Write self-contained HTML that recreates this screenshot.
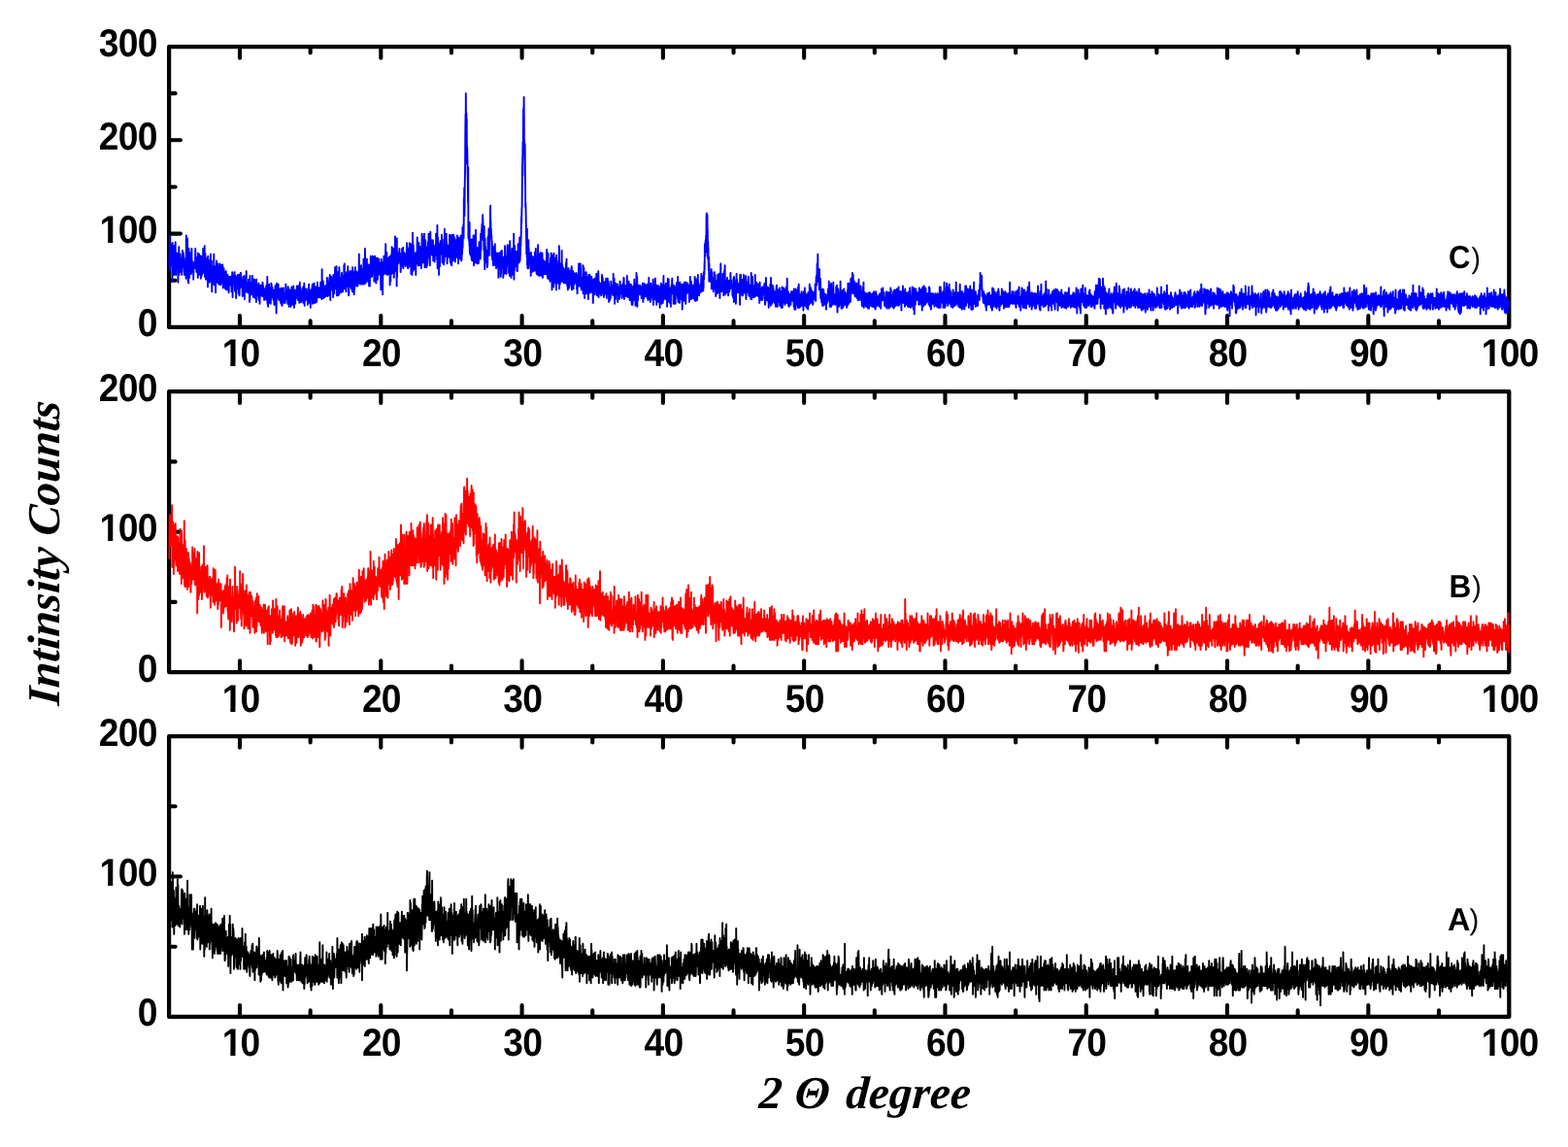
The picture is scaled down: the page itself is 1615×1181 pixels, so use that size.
<!DOCTYPE html>
<html lang="en"><head><meta charset="utf-8"><title>XRD patterns</title>
<style>
html,body{margin:0;padding:0;background:#fff;}
body{width:1615px;height:1181px;overflow:hidden;}
svg{display:block;}
text{text-rendering:geometricPrecision;}
.tk{font-family:"Liberation Sans",Arial,Helvetica,sans-serif;font-weight:bold;font-size:40.0px;fill:#000;}
.ax{font-family:"Liberation Serif","Times New Roman",Times,serif;font-weight:bold;font-style:italic;fill:#000;}
.lb{font-family:"Liberation Sans",Arial,Helvetica,sans-serif;fill:#000;}
.fr{fill:none;stroke:#000;stroke-width:4.25;stroke-linejoin:round;}
.t{stroke:#000;stroke-width:4.10;stroke-linecap:round;fill:none;}
.d{fill:none;stroke-width:1.90;stroke-linejoin:round;stroke-linecap:round;}
</style></head><body>
<svg width="1615" height="1181" viewBox="0 0 1615 1181">
<rect x="0" y="0" width="1615" height="1181" fill="#fff"/>
<defs><clipPath id="c10"><path clip-rule="evenodd" d="M-200-100H200V100H-200ZM-18.93 -4.32H-10.40V1.20H-18.93ZM-4.91 -4.32H2.67V1.20H-4.91Z"/></clipPath><clipPath id="c100m"><path clip-rule="evenodd" d="M-200-100H200V100H-200ZM-30.22 -4.32H-21.69V1.20H-30.22ZM-16.20 -4.32H-8.62V1.20H-16.20Z"/></clipPath><clipPath id="c100e"><path clip-rule="evenodd" d="M-200-100H200V100H-200ZM-62.75 -4.32H-54.21V1.20H-62.75ZM-48.72 -4.32H-41.15V1.20H-48.72Z"/></clipPath></defs>
<g id="panel-C">
<path class="t" d="M247.00 336.90V325.10M247.00 48.00V59.80M319.65 336.90V330.40M319.65 48.00V54.50M392.30 336.90V325.10M392.30 48.00V59.80M464.94 336.90V330.40M464.94 48.00V54.50M537.59 336.90V325.10M537.59 48.00V59.80M610.23 336.90V330.40M610.23 48.00V54.50M682.88 336.90V325.10M682.88 48.00V59.80M755.52 336.90V330.40M755.52 48.00V54.50M828.16 336.90V325.10M828.16 48.00V59.80M900.81 336.90V330.40M900.81 48.00V54.50M973.46 336.90V325.10M973.46 48.00V59.80M1046.10 336.90V330.40M1046.10 48.00V54.50M1118.74 336.90V325.10M1118.74 48.00V59.80M1191.39 336.90V330.40M1191.39 48.00V54.50M1264.03 336.90V325.10M1264.03 48.00V59.80M1336.68 336.90V330.40M1336.68 48.00V54.50M1409.32 336.90V325.10M1409.32 48.00V59.80M1481.97 336.90V330.40M1481.97 48.00V54.50M174.10 288.75H180.60M174.10 240.60H185.90M174.10 192.45H180.60M174.10 144.30H185.90M174.10 96.15H180.60"/>
<rect class="fr" x="174.10" y="48.00" width="1380.20" height="288.90"/>
<path class="d" stroke="#0000ff" d="M174.4 273.3l.1-13.4.2 19.2.2-36.6.2 23.1.2-6.7.1 15.4.2-15.4.2-5.8.2 8.7.2 4.8.2 3.9.1-18.3.2 12.5.2.9.2-5.7.2-9.7.1 39.5.2-21.2.2-18.3.2 19.3.2-3.9.2 17.4.1-28.9.2 16.4.2 9.6.2-14.5.2-6.7.1 24.1.2-29.9.2 4.8.2 22.2.2-8.7.2-5.8.1 8.7.2-25 .2 19.2.2-8.6.2 23.1.1-9.7.2-12.5.2 1.9.2 14.5.2 0 .2-16.4.1 10.6.2 2.9.2-10.6.2 4.8.2-3.8.1 26 .2-24.1.2 5.8.2 0 .2.9.1-19.2.2 28.9.2-19.3.2-2.9.2 19.3.2-16.4.1-1.9.2 0 .2 18.3.2-10.6.2-2.9.1 9.6.2-2.9.2 2 .2-2.9.2-6.8.2 17.4.1-13.5.2 10.6.2-17.4.2-4.8.2 17.4.1-1 .2-1 .2-13.4.2 3.8.2-1 .2 6.8.1 0 .2-3.9.2 5.8.2 11.6.2-8.7.1-5.8.2 3.9.2 9.6.2-8.7.2-1.9.1 0 .2 9.6.2 5.8.2-44.3.2 40.5.2-2.9.1-9.6.2 6.7.2-12.5.2 9.6.2-28.9.1 36.6.2-10.6.2 18.3.2-15.4.2-4.8.2 22.1.1-16.3.2-19.3.2 9.6.2 16.4.2 3.9.1-12.6.2-13.4.2 8.6.2 12.5.2-14.4.2 1.9.1 4.8.2 8.7.2-9.6.2 9.6.2-6.7.1-4.8.2-14.5.2 17.3.2 2 .2 4.8.2-6.8.1 1 .2-4.8.2 2.9.2 1.9.2-3.8.1 17.3.2-11.6.2-4.8.2 4.8.2-4.8.1 3.9.2 0 .2-2.9.2 3.8.2-1.9.2-12.5.1-5.8.2 3.9.2 15.4.2-1 .2-7.7.1 2.9.2 10.6.2-10.6.2 9.6.2 1 .2 0 .1-15.4.2 14.4.2 0 .2 6.8.2-25.1.1 19.3.2-17.4.2 13.5.2-10.6.2 17.4.2-16.4.1-4.8.2 13.5.2-12.6.2 9.7.2 3.8.1-3.8.2-7.7.2 12.5.2-1 .2 10.6.2-12.5.1-10.6.2 7.7.2 12.5.2-10.6.2 9.7.1-3.9.2-6.7.2 6.7.2-1.9.2-1.9.1 5.7.2-25 .2 8.7.2-5.8.2 14.4.2-3.8.1 2.9.2 2.9.2 5.7.2-27.9.2 31.8.1-5.8.2 5.8.2-24.1.2 11.6.2-2.9.2 9.6.1 8.7.2-4.8.2-2.9.2 0 .2-13.5.1-1 .2 17.4.2 0 .2-10.6.2 10.6.2 12.5.1-21.2.2-10.6.2 22.2.2-11.6.2-1.9.1 3.8.2 2.9.2 1.9.2-12.5.2 22.2.1-18.3.2 17.3.2-12.5.2-2.9.2-7.7.2 23.1.1-27.9.2 21.2.2-1 .2 1.9.2-7.7.1-7.7.2 14.5.2 17.3.2-16.4.2-8.6.2.9.1 9.7.2-5.8.2-2.9.2 15.4.2-9.6.1-8.7.2 6.7.2-19.2.2 30.8.2-6.7.2 7.7.1-7.7.2-9.7.2 11.6.2-2.9.2-4.8.1-5.8.2 27 .2-19.3.2-6.7.2 10.6.2-6.8.1-10.6.2 19.3.2-13.5.2 16.4.2-5.8.1 5.8.2-19.3.2 2.9.2 8.7.2-3.9.1 7.7.2 4.8.2 1 .2-11.6.2 3.9.2-2.9.1 10.6.2-7.7.2-13.5.2 15.4.2-1.9.1-7.7.2-4.8.2 21.2.2-9.7.2 3.9.2 0 .1 3.8.2-5.7.2-12.6.2 7.7.2-5.7.1 5.7.2 9.7.2-18.3.2 2.9.2 15.4.2 5.8.1-17.4.2 8.7.2 3.8.2-15.4.2 2.9.1 8.7.2-1 .2 7.7.2-1.9.2-10.6.1 1 .2 13.5.2.9.2 0 .2-1.9.2-16.4.1 1 .2 10.6.2 7.7.2-14.5.2 0 .1 6.8.2-5.8.2 7.7.2-8.7.2-.9.2 6.7.1 8.7.2-11.6.2-1.9.2 11.6.2 4.8.1-2.9.2-10.6.2 5.8.2 0 .2-2.9.2-2.9.1-2.9.2 7.7.2 1 .2-8.7.2 6.7.1-5.7.2.9.2-1.9.2 6.7.2 8.7.2-10.6.1 1 .2-3.9.2-6.7.2 11.5.2 14.5.1-14.5.2-7.7.2 7.7.2-5.7.2 7.7.1-3.9.2 1.9.2-.9.2-1 .2-8.7.2-.9.1 5.8.2 12.5.2-3.9.2 5.8.2-4.8.1-11.6.2 10.6.2 1 .2 11.5.2-16.3.2 0 .1-4.8.2 11.5.2-7.7.2-3.8.2 1.9.1 6.7.2-11.5.2 4.8.2 6.7.2 0 .2 1 .1 6.7.2-7.7.2 2.9.2-14.4.2 12.5.1 8.7.2-9.7.2-1.9.2-5.8.2 9.7.1-2 .2-13.5.2 14.5.2-14.5.2 6.8.2 1.9.1 1.9.2 1 .2 1 .2.9.2-4.8.1-1.9.2 17.3.2-7.7.2 0 .2-9.6.2-2.9.1 5.8.2-4.8.2 4.8.2-1 .2 14.5.1-20.3.2 2.9.2 21.2.2-13.5.2 6.8.2-4.8.1-4.9.2 4.9.2-1 .2 1.9.2-4.8.1 1.9.2-15.4.2 21.2.2-2.9.2 1 .2 1.9.1-2.9.2-1.9.2 5.8.2-6.8.2 6.8.1 0 .2-10.6.2 7.7.2-10.6.2 3.8.1 6.8.2-3.9.2 2 .2 14.4.2-12.5.2 10.6.1-25.1.2 18.3.2-6.7.2-1 .2 0 .1 0 .2 8.7.2 0 .2-1 .2-10.6.2-.9.1 7.7.2-1.9.2-12.6.2 8.7.2 10.6.1-16.4.2 11.6.2 6.7.2-2.9.2 3.9.2-3.9.1-9.6.2-2.9.2 4.8.2-6.7.2 18.3.1-4.8.2-8.7.2 2.9.2 11.5.2-5.7.2-4.8.1 0 .2-2 .2 16.4.2-23.1.2 15.4.1-6.7.2-2.9.2 1.9.2 1.9.2-1.9.1 1.9.2 1 .2 5.8.2.9.2-.9.2-12.6.1 16.4.2 1 .2-16.4.2 7.7.2 3.9.1-3.9.2 12.5.2-5.8.2-11.5.2 2.9.2-2.9.1 1 .2 1.9.2-4.8.2 1.9.2 6.7.1 2 .2-2 .2 1 .2 0 .2-7.7.2 9.6.1-14.4.2.9.2 10.6.2-.9.2-6.8.1 2 .2 5.7.2 2.9.2-4.8.2 8.7.1-2 .2-5.7.2.9.2-.9.2-3.9.2 8.7.1-3.9.2 3.9.2-2.9.2 4.8.2-12.5.1 4.8.2-6.7.2 14.4.2 1 .2-10.6.2-1.9.1-11.6.2 27.9.2-5.8.2-14.4.2 23.1.1-14.4.2-3.9.2 9.6.2 1 .2-15.4.2 19.3.1-8.7.2 3.8.2-3.8.2-2.9.2 3.9.1-7.7.2 7.7.2.9.2 7.7.2-5.8.2-2.8.1-12.6.2 13.5.2-12.5.2 13.5.2-1.9.1-1 .2-7.7.2 2.9.2 5.8.2-5.8.1 6.7.2 1.9.2 2 .2-1 .2-6.7.2 7.7.1-2.9.2 7.7.2-15.4.2 2.9.2 6.7.1-3.8.2 7.7.2-17.4.2 19.3.2-6.8.2-13.4.1 21.2.2-20.3.2 28 .2-14.5.2-16.4.1 5.8.2 9.6.2 0 .2-9.6.2 6.8.2 2.8.1-12.5.2-.9.2-1 .2 10.6.2 4.8.1-5.8.2 2 .2 4.8.2-4.8.2.9.1 1.9.2-9.6.2 2.9.2 8.7.2-8.7.2 2.9.1 8.7.2-4.9.2-2.8.2-7.7.2 4.8.1 12.5.2-16.4.2 15.4.2 2 .2-13.5.2-2.9.1 5.8.2 1.9.2-1 .2-2.9.2-5.7.1 6.7.2-1 .2 2 .2 7.7.2-3.9.2-4.8.1 0 .2-1 .2 1 .2 8.7.2-4.9.1-1.9.2-6.7.2-5.8.2 12.5.2 1 .2-3.9.1 2 .2-1 .2 1 .2.9.2 3.9.1-10.6.2 12.5.2 1.9.2-17.3.2 2.9.1-2.9.2 10.6.2-3.9.2-3.8.2 17.3.2-.9.1-16.4.2 7.7.2 0 .2-1.9.2-5.8.1 8.6.2-5.7.2 5.7.2 8.7.2-7.7.2 2.9.1-4.8.2-1 .2-9.6.2 5.8.2 10.6.1-6.8.2 8.7.2-6.8.2-.9.2-4.8.2 0 .1 10.6.2-17.4.2 3.9.2 4.8.2-1 .1 14.5.2-18.3.2 8.6.2 5.8.2-3.8.1-8.7.2 5.8.2 6.7.2-11.5.2 2.9.2-1 .1 1.9.2-6.7.2 3.8.2 4.8.2-8.6.1-3.9.2 5.8.2-4.8.2 4.8.2-4.8.2 9.6.1 3.9.2-11.6.2-2.9.2 5.8.2 3.9.1-9.7.2 10.6.2 0 .2 6.8.2-10.6.2-10.6.1 12.5.2-7.7.2 1 .2 3.8.2 6.7.1 1 .2-5.8.2 8.7.2-7.7.2-2.9.2 1 .1 1.9.2 1.9.2 3.9.2-11.6.2 7.7.1 3.9.2-3.9.2-9.6.2 16.4.2 0 .1-5.8.2-7.7.2 12.5.2-19.3.2 15.4.2 7.8.1-13.5.2.9.2-4.8.2 0 .2 4.8.1 2.9.2 3.9.2-6.8.2 2 .2-5.8.2 6.7.1-7.7.2 4.8.2 1 .2 3.8.2-4.8.1 0 .2 11.6.2-10.6.2 7.7.2-6.7.2-2.9.1 3.8.2-9.6.2-2.9.2 19.3.2-1 .1-6.7.2.9.2-1.9.2-1 .2 6.8.2-6.8.1 14.5.2-11.6.2-6.7.2 4.8.2-1.9.1 5.7.2-8.6.2 1.9.2 7.7.2-12.5.1 2.9.2-5.8.2 20.2.2-6.7.2-4.8.2-5.8.1 10.6.2-8.7.2-1.9.2-3.9.2 0 .1 20.3.2-5.8.2-11.6.2 10.6.2-2.9.2 9.7.1-1 .2-15.4.2 15.4.2-9.6.2-2.9.1-1.9.2-1 .2 6.7.2 8.7.2-12.5.2 2.9.1 5.7.2-16.3.2 11.5.2-3.8.2-2.9.1 7.7.2 2.9.2-2.9.2 1 .2.9.1-7.7.2 8.7.2-1 .2-8.6.2.9.2 1 .1 1.9.2 2.9.2 2.9.2-15.4.2 10.6.1-5.8.2 1 .2-1 .2 10.6.2 1.9.2-7.7.1-23.1.2 26 .2-2.9.2-4.8.2 7.7.1-1 .2 2.9.2-15.4.2 17.3.2-5.7.2-1 .1-6.7.2 2.9.2 1.9.2 4.8.2 2.9.1-7.7.2 4.8.2-6.7.2-1 .2 5.8.2 3.8.1-8.6.2 7.7.2-10.6.2 8.6.2-7.7.1 3.9.2-1 .2-11.5.2 18.3.2.9.1-4.8.2-6.7.2 1.9.2 8.7.2-9.7.2-1.9.1-2.9.2 14.5.2-5.8.2-8.7.2-3.8.1 17.3.2-2.9.2-17.3.2 3.8.2 22.2.2-19.3.1 10.6.2-4.8.2-1.9.2 2.9.2-11.6.1 13.5.2-2.9.2-2.9.2-1.9.2 7.7.2-4.8.1-7.7.2 10.6.2-2 .2 11.6.2-12.5.1-10.6.2 4.8.2 4.8.2 5.8.2 3.8.1-7.7.2-2.9.2 2.9.2-2.9.2-16.3.2 15.4.1 0 .2-1 .2 3.9.2 3.8.2-7.7.1-8.7.2-6.7.2 16.4.2 13.5.2-19.3.2-4.8.1 14.4.2-2.9.2-5.7.2 12.5.2 5.8.1-24.1.2 21.2.2-9.7.2-6.7.2 10.6.2 7.7.1-27.9.2 9.6.2 16.4.2-8.7.2 3.9.1-5.8.2-4.8.2 14.4.2-8.7.2-1.9.2 1 .1 10.6.2-16.4.2 0 .2-3.9.2 4.9.1 4.8.2 5.8.2-8.7.2-2.9.2 1 .1 14.4.2-16.4.2 9.7.2 1.9.2-10.6.2 11.6.1-23.2.2 22.2.2-7.7.2-16.4.2 26 .1-2.9.2-11.5.2 3.8.2-4.8.2 14.5.2-10.6.1 8.6.2 5.8.2-14.4.2-1 .2-4.8.1 6.7.2 3.9.2 0 .2-9.7.2 3.9.2-4.8.1-5.8.2 21.2.2-1 .2 2 .2 7.7.1-8.7.2 7.7.2-22.2.2 9.7.2-8.7.1-1.9.2 13.5.2-14.5.2 4.8.2-.9.2 10.6.1-14.5.2 16.4.2-9.6.2 11.5.2-7.7.1 2.9.2-1.9.2-8.7.2 11.6.2 6.7.2-25 .1 8.6.2 6.8.2-11.6.2 2.9.2 5.8.1-1 .2 14.5.2-13.5.2 15.4.2-17.3.2 12.5.1-7.7.2-10.6.2 7.7.2-12.5.2 8.6.1 6.8.2-2.9.2 1.9.2-10.6.2 15.4.2-12.5.1 1 .2 4.8.2-1 .2 3.9.2.9.1-11.5.2 9.6.2 4.8.2-4.8.2-2.9.1-5.8.2 10.6.2-7.7.2-1.9.2-20.2.2 18.3.1.9.2 2.9.2-3.8.2 4.8.2-1 .1 8.7.2-9.6.2-8.7.2 1 .2 8.6.2-10.6.1 16.4.2 2.9.2-11.6.2 2.9.2 0 .1-1.9.2 5.8.2-7.7.2-2.9.2 10.6.2 4.8.1-6.7.2-8.7.2-10.6.2 1.9.2 5.8.1 18.3.2-13.5.2-7.7.2 20.2.2-6.7.1-28.9.2 7.7.2 27.9.2 0 .2-4.8.2 3.9.1-10.6.2.9.2-9.6.2 3.9.2-6.8.1-1.9.2 14.4.2 2 .2-2.9.2.9.2 8.7.1-8.7.2-3.8.2 7.7.2-12.5.2 3.8.1 2.9.2 15.4.2-21.2.2 9.7.2 0 .2 11.5.1-17.3.2 9.6.2-13.5.2 6.8.2-16.4.1 20.2.2-3.8.2 1.9.2 1 .2-1 .2-5.8.1 8.7.2-2.9.2 1 .2-9.7.2-9.6.1 16.4.2-6.8.2-8.6.2 0 .2 6.7.1 7.7.2-1.9.2 1.9.2 10.6.2-3.8.2-10.6.1-2 .2-9.6.2 20.2.2-4.8.2 7.7.1-21.2.2 15.4.2 6.8.2 3.8.2-26 .2 15.4.1-4.8.2-1.9.2 1.9.2-2.9.2-7.7.1 0 .2 22.2.2-11.6.2-9.6.2 2.9.2 1.9.1 1 .2-5.8.2 15.4.2-10.6.2 5.8.1-4.8.2-1.9.2 12.5.2-2.9.2-6.8.2 3.9.1 4.8.2 3.9.2 12.5.2-10.6.2-21.2.1 16.4.2-10.6.2 3.8.2-.9.2 7.7.1-9.7.2 5.8.2 24.1.2-20.2.2-13.5.2 1 .1 12.5.2-8.7.2-1 .2-9.6.2 7.7.1 9.6.2 1 .2-4.8.2-12.5.2 6.7.2 3.9.1-4.8.2-7.8.2-11.5.2 19.3.2 2.8.1 2.9.2 5.8.2-12.5.2-9.6.2 17.3.2-6.7.1 6.7.2 5.8.2-6.8.2-10.6.2 1 .1 3.9.2 11.5.2-11.5.2 0 .2 5.7.1-7.7.2 6.8.2-10.6.2 7.7.2-2.9.2 24.1.1-29.9.2 12.5.2-5.7.2 19.2.2-10.6.1-5.8.2-8.6.2 6.7.2-9.6.2 20.2.2-27.9.1 3.8.2 11.6.2 11.5.2-21.1.2 9.6.1-13.5.2 18.3.2 1 .2 4.8.2-18.3.2-5.8.1 29.9.2-15.4.2 11.5.2-12.5.2-8.7.1 1.9.2-3.8.2-15.4.2 29.8.2 2 .2-12.6.1 9.7.2 6.7.2-12.5.2 9.6.2-11.5.1 29.8.2-49.1.2 39.5.2-10.6.2-9.6.1 0 .2 5.8.2-8.7.2 9.6.2 0 .2-10.6.1 1 .2 4.8.2-7.7.2 7.7.2-10.6.1 13.5.2-7.7.2 3.8.2-4.8.2 4.8.2 4.9.1 9.6.2-2.9.2-14.5.2 3.9.2 0 .1 6.7.2-3.8.2 3.8.2-17.3.2 18.3.2-1.9.1-9.7.2 1 .2 9.6.2-18.3.2 21.2.1-12.5.2 1 .2-2 .2-2.8.2 12.5.1-6.8.2 4.9.2-9.7.2 5.8.2 3.9.2 0 .1.9.2 2.9.2-2.9.2-4.8.2 1.9.1 2 .2 1.9.2-11.6.2-10.6.2 14.5.2 5.8.1-15.5.2 1 .2 18.3.2 1.9.2-18.3.1 18.3.2-5.7.2-3.9.2-1 .2 2.9.2-9.6.1 15.4.2-24.1.2 16.4.2-6.7.2-6.8.1 9.6.2 2.9.2 1 .2-15.4.2 9.6.2 21.2.1-10.6.2-.9.2-15.5.2 24.1.2-12.5.1 16.4.2-7.7.2-5.8.2-29.9.2 14.5.1 14.4.2 10.6.2-26.9.2 6.7.2 4.8.2-3.8.1 14.4.2-9.6.2 3.8.2-3.8.2 12.5.1-3.9.2-9.6.2 6.8.2-8.7.2.9.2 20.3.1-23.1.2 3.8.2 1 .2 3.8.2-4.8.1 7.7.2-10.6.2-16.3.2 9.6.2-3.9.2 10.6.1 8.7.2 3.8.2-21.1.2-2 .2 8.7.1 0 .2-8.7.2 23.1.2-6.7.2 6.7.1-15.4.2 2 .2.9.2 9.7.2-6.8.2-9.6.1 0 .2.9.2 4.9.2 16.3.2-3.8.1-11.6.2 1.9.2-22.1.2 14.4.2 5.8.2 3.9.1-5.8.2-15.4.2 25 .2 2 .2-2 .1-9.6.2-1 .2-10.6.2 2.9.2-9.6.2 20.2.1 8.7.2 5.8.2-25.1.2 13.5.2 6.8.1-23.2.2 17.4.2 9.6.2-20.2.2 1.9.2 9.6.1 9.7.2-6.8.2-3.8.2 8.6.2-11.5.1 1.9.2 1.9.2-4.8.2-11.5.2 11.5.1 3.9.2-6.8.2-17.3.2 8.7.2 11.5.2 3.9.1-6.8.2 11.6.2 1.9.2 1.9.2-20.2.1-5.8.2-8.6.2 13.5.2 9.6.2-13.5.2 3.9.1-4.9.2 7.7.2 3.9.2-5.8.2-.9.1 10.5.2-7.7.2-5.7.2 4.8.2-6.8.2 9.7.1 11.5.2-13.5.2 12.6.2-13.5.2 4.8.1-5.8.2 15.4.2-11.5.2 12.5.2-8.7.2-1.9.1-4.8.2-1 .2 9.6.2-11.5.2 9.6.1-20.2.2 22.1.2-7.7.2 0 .2 2.9.1 2.9.2 6.8.2-35.7.2 44.3.2-12.5.2-19.2.1 8.6.2 23.1.2-15.4.2-3.8.2-5.8.1 31.8.2-15.4.2-14.5.2 19.3.2-19.3.2 21.2.1-20.2.2-1 .2-4.8.2 13.5.2-3.9.1-9.6.2 10.6.2 1 .2-8.7.2 1.9.2-11.5.1 18.3.2-5.8.2 16.4.2-24.1.2 12.5.1 1.9.2 2.9.2-5.8.2 7.7.2-9.6.1 10.6.2 5.8.2-10.6.2 7.7.2-8.7.2-25 .1 20.2.2-2.9.2 4.8.2 1 .2-5.8.1-4.8.2 15.4.2-1.9.2-11.6.2-9.6.2 22.1.1-14.4.2 7.7.2 7.7.2 7.7.2-18.3.1-.9.2 5.7.2-1.9.2 4.8.2 0 .2-4.8.1 2.9.2 1.9.2-1.9.2 5.8.2-3.9.1-12.5.2-6.7.2 13.4.2-6.7.2 18.3.2 3.9.1-2.9.2-11.6.2 4.8.2 11.6.2-29.9.1 28 .2-13.5.2 16.3.2-23.1.2 0 .1-8.6.2 24 .2 0 .2-19.2.2 22.1.2-13.5.1-2.8.2-10.6.2 12.5.2 1.9.2 1 .1-2.9.2 4.8.2-14.4.2 12.5.2 11.5.2-22.1.1 23.1.2-12.5.2-2 .2 2.9.2 6.8.1 0 .2-2 .2-14.4.2 12.5.2-.9.2-6.8.1-10.6.2 22.2.2-10.6.2-8.7.2 12.5.1-.9.2 14.4.2-15.4.2-11.5.2 19.2.1-6.7.2-3.9.2 13.5.2-6.7.2-3.9.2-1.9.1-2.9.2-5.8.2 9.6.2 10.6.2-23.1.1 19.3.2-15.4.2 22.1.2-16.3.2 15.4.2-10.6.1-1 .2 5.8.2-5.8.2-22.1.2 21.1.1-8.6.2-3.9.2 0 .2-11.5.2 14.4.2-18.3.1-23.1.2 17.3.2-27.9.2 28.9.2-9.6.1-20.3.2-11.5.2-11.6.2-35.6.2-16.4.2 17.4.1-38.6.2 31.8.2-6.7.2-4.8.2 19.2.1-13.4.2 46.2.2-17.4.2 5.8.2 8.7.1 13.5.2 5.7.2 24.1.2-36.6.2 73.2.2-3.8.1-1 .2-1 .2 8.7.2-8.7.2 13.5.1-24.1.2 29.9.2 1 .2 1.9.2-1 .2-14.4.1 16.3.2-9.6.2-.9.2 9.6.2.9.1 3.9.2-20.2.2 13.5.2 8.6.2-8.6.2 0 .1-9.7.2 8.7.2 2.9.2 2.9.2-13.5.1-8.7.2 19.3.2 11.5.2-14.4.2-6.7.1 17.3.2-27 .2 15.4.2-.9.2 1.9.2-6.7.1 18.3.2-12.6.2-21.2.2 28.9.2-.9.1-8.7.2 13.5.2-9.6.2 5.7.2 2 .2 3.8.1-16.4.2 6.8.2 4.8.2 2.9.2-11.6.1 4.8.2 8.7.2-.9.2-8.7.2-1 .2-11.5.1 12.5.2 2.9.2-3.9.2 5.8.2-2.9.1-1.9.2 4.8.2-4.8.2-21.2.2 7.7.2 8.7.1-16.4.2 3.9.2-7.8.2 2 .2-7.7.1 5.7.2-6.7.2 2.9.2-11.6.2 16.4.1-12.5.2 22.1.2-14.4.2 3.8.2 3.9.2 16.4.1.9.2-25 .2 35.6.2-7.7.2 16.4.1-12.5.2-19.3.2 25.1.2-16.4.2 10.6.2-4.8.1.9.2 4.8.2 1 .2-2.9.2-5.8.1 2 .2 10.6.2 4.8.2-2.9.2.9.2-13.4.1-14.5.2-1.9.2 14.4.2-4.8.2-.9.1-16.4.2 11.5.2 15.4.2-12.5.2-3.8.1-3.9.2-8.6.2 10.6.2-28 .2-4.8.2 25 .1-10.5.2 15.4.2-5.8.2 6.7.2 1 .1-1 .2 21.2.2-15.4.2 9.6.2 9.7.2-14.5.1 3.9.2 10.6.2-5.8.2 11.5.2-19.2.1 12.5.2-6.7.2-2 .2 7.7.2-8.6.2 9.6.1-7.7.2 1.9.2-9.6.2 22.1.2-2.8.1-11.6.2 3.8.2 6.8.2 1.9.2 4.8.2-14.4.1 8.7.2-4.9.2 8.7.2-1 .2-12.5.1 1.9.2-1.9.2 0 .2 3.9.2-3.9.1 1.9.2 23.2.2-22.2.2 6.8.2-5.8.2 2.9.1 8.6.2-7.7.2-3.8.2 4.8.2-9.6.1 9.6.2-4.8.2 20.2.2-26 .2 23.1.2-14.4.1-3.9.2-2.9.2 14.5.2-17.4.2 13.5.1-2.9.2-3.8.2 6.7.2-5.8.2 8.7.2 3.9.1 7.7.2-11.6.2-9.6.2.9.2 13.5.1 2.9.2-9.6.2 8.6.2-2.8.2-25.1.2 8.7.1 19.2.2-9.6.2 6.8.2-14.5.2 1 .1 6.7.2-3.8.2 14.4.2-8.7.2 1 .1-8.7.2 7.7.2-19.2.2-1.9.2 18.3.2-1 .1 3.8.2-3.8.2 1 .2-6.8.2 3.9.1 13.4.2-3.8.2-18.3.2-6.7.2 31.7.2-5.7.1-29.9.2 11.6.2 6.7.2 0 .2 0 .1-3.9.2 2 .2 21.2.2-23.2.2-.9.2 7.7.1 9.6.2-23.1.2 26 .2-7.7.2-4.8.1 3.8.2 5.8.2 3.9.2-26 .2 21.2.1-7.7.2-29.9.2 47.2.2-22.2.2 12.6.2-9.7.1-15.4.2 5.8.2 9.6.2-4.8.2 10.6.1-5.8.2 3.9.2-4.8.2-8.7.2 13.5.2-10.6.1.9.2 9.7.2 6.7.2-12.5.2 12.5.1-3.8.2-16.4.2 8.7.2-16.4.2 8.7.2 4.8.1-10.6.2 4.8.2 3.8.2 7.8.2-14.5.1 8.7.2-20.2.2 13.4.2 10.6.2-5.8.2-1.9.1-11.5.2 4.8.2-7.7.2-3.9.2-12.5.1-6.7.2 6.7.2-15.4.2-1.9.2-25.1.1-13.4.2-7.8.2-6.7.2-13.5.2 8.7.2-19.3.1-21.2.2-2.8.2 12.5.2-24.1.2 24.1.1 29.8.2-9.6.2 16.4.2 20.2.2-32.7.2 42.3.1-5.8.2 28.9.2-4.8.2 9.7.2 12.5.1 3.8.2 12.5.2 14.5.2-11.6.2 14.5.2-28.9.1 36.6.2-3.9.2 7.7.2-17.3.2 13.5.1 1.9.2 1.9.2-28.9.2 12.6.2-3.9.1 10.6.2-6.7.2 11.5.2-3.8.2 2.9.2-2 .1 1 .2 3.8.2 2.9.2-6.7.2 14.4.1-13.4.2-10.6.2 9.6.2-5.8.2 15.4.2-6.7.1-8.7.2 16.4.2-9.6.2-3.9.2 10.6.1-5.8.2 1.9.2-8.6.2 8.6.2-6.7.2 8.7.1 3.8.2-1.9.2 0 .2-2.9.2 3.9.1-18.3.2 3.8.2 14.5.2-5.8.2 0 .2-16.4.1 10.6.2 0 .2 11.6.2 1.9.2 1.9.1-7.7.2-10.6.2 12.5.2-4.8.2 8.7.1 2.9.2-20.3.2-10.5.2 26.9.2-18.3.2 1.9.1 0 .2-.9.2 22.1.2-7.7.2 0 .1 0 .2 6.8.2-21.2.2 11.5.2-4.8.2-8.6.1 2.8.2 12.6.2 8.6.2-14.4.2 0 .1 13.5.2-3.9.2 2.9.2-7.7.2-13.5.2 14.5.1 2.9.2 7.7.2-13.5.2.9.2 6.8.1-12.5.2 4.8.2 2.9.2 0 .2 3.8.1 2.9.2-7.7.2-3.8.2-1 .2 9.6.2-2.9.1 5.8.2-8.7.2 8.7.2-2.9.2 2.9.1-13.5.2 4.8.2-10.6.2-5.7.2 5.7.2 18.3.1 2.9.2-1.9.2 4.8.2-11.5.2-14.5.1 22.2.2-8.7.2 7.7.2 0 .2 2.9.2 1.9.1-12.5.2 13.5.2-14.5.2-1.9.2 18.3.1-8.7.2-7.7.2-7.7.2 7.7.2-2.8.2-7.8.1-1.9.2 18.3.2-17.3.2 13.5.2 23.1.1-24.1.2 11.6.2-14.5.2 7.7.2 3.9.1-2 .2-18.3.2 30.9.2-12.6.2 14.5.2-34.7.1 19.3.2 7.7.2-14.5.2 2 .2 14.4.1-12.5.2 0 .2 13.5.2-25.1.2 5.8.2 9.6.1 11.6.2-12.5.2 18.3.2-35.7.2 23.2.1-14.5.2 1.9.2 8.7.2-1.9.2 11.5.2-10.6.1-8.6.2 3.8.2 0 .2-3.8.2-3.9.1 5.8.2 6.7.2-27.9.2 44.3.2-12.5.2-7.7.1 9.6.2 5.8.2-9.6.2 1.9.2-13.5.1 2.9.2 5.8.2-3.9.2-4.8.2 4.8.1 13.5.2-31.8.2 21.2.2-6.7.2 0 .2 17.3.1-7.7.2 4.8.2-11.5.2 3.8.2 1.9.1-4.8.2 15.4.2-7.7.2 5.8.2-5.8.2 5.8.1-8.7.2 2 .2 7.7.2-7.7.2-5.8.1 6.7.2 7.7.2-14.4.2-6.7.2 16.3.2-11.5.1-8.7.2 19.3.2-2.9.2 7.7.2 3.8.1-10.6.2 9.7.2 4.8.2-8.7.2 1 .1-3.9.2-10.6.2 7.7.2 2.9.2 4.8.2 4.9.1-15.5.2-1.9.2 2.9.2 1 .2 10.6.1-8.7.2 2.9.2-3.9.2 6.8.2-1 .2-13.5.1 11.6.2-1.9.2-11.6.2 24.1.2-8.7.1 3.9.2-2.9.2 1.9.2-2.9.2 0 .2-10.6.1 15.4.2 2.9.2-9.6.2-2.9.2-3.9.1 11.6.2-1 .2 1 .2-10.6.2 7.7.2 1 .1-6.8.2 2 .2-1 .2 0 .2 1.9.1 0 .2-5.8.2 3.9.2 1.9.2 10.6.1-3.8.2-1 .2 9.6.2-12.5.2-4.8.2 1 .1-2.9.2 0 .2 7.7.2-9.7.2-9.6.1 18.3.2 4.8.2-.9.2-1 .2-9.6.2 11.5.1-18.3.2 6.8.2-11.6.2 4.8.2 8.7.1 7.7.2-7.7.2 11.6.2 1.9.2-1.9.2-10.6.1.9.2 0 .2 0 .2 1 .2 8.7.1 1.9.2-25.1.2 28.9.2-8.6.2-8.7.1 4.8.2-14.4.2 6.7.2-1.9.2 13.5.2 13.4.1-16.3.2 7.7.2-6.8.2 0 .2-6.7.1-2.9.2 7.7.2 12.5.2-22.1.2 16.4.2 0 .1 5.7.2-10.6.2-6.7.2 1.9.2 9.7.1-6.8.2-2.9.2 3.9.2.9.2 16.4.2-4.8.1-20.2.2 19.2.2-6.7.2-2.9.2 1.9.1-.9.2.9.2-11.5.2 12.5.2 2.9.2 2.9.1-9.7.2-5.7.2 12.5.2-3.9.2 5.8.1-3.8.2-11.6.2 5.8.2.9.2 4.9.1-1 .2 5.8.2-8.7.2-1 .2 20.3.2-16.4.1 0 .2-7.7.2 9.6.2-.9.2.9.1-2.9.2-3.8.2 4.8.2-8.7.2 16.4.2-12.5.1-2.9.2 12.5.2-4.8.2 1.9.2-5.8.1 8.7.2-18.3.2 10.6.2 2.9.2-1 .2 9.7.1 0 .2-3.9.2-13.5.2 3.9.2 5.8.1-8.7.2-8.7.2 5.8.2 21.2.2-14.5.1-1.9.2 10.6.2-3.8.2 3.8.2 1.9.2-5.7.1-3.9.2 3.9.2 4.8.2-3.9.2-5.8.1 5.8.2 6.8.2-10.6.2 10.6.2-2.9.2 1.9.1-20.2.2 10.6.2-6.8.2 8.7.2-9.6.1 11.5.2 2.9.2-1.9.2-5.8.2-1.9.2 5.8.1 9.6.2-15.4.2 13.5.2-5.8.2-4.8.1 7.7.2-7.7.2 7.7.2-11.6.2 6.8.2 5.7.1-5.7.2-9.7.2 13.5.2-9.6.2.9.1 15.4.2-13.4.2-3.9.2 11.6.2-10.6.1-3.9.2 11.6.2 2.9.2.9.2-12.5.2 1 .1 1.9.2 18.3.2-13.5.2 3.9.2-1 .1-3.8.2 0 .2 12.5.2-5.8.2-5.8.2 9.6.1-4.8.2-6.7.2-5.8.2 10.6.2-4.8.1 4.8.2-6.7.2 0 .2 2.9.2 5.7.2-3.8.1 3.8.2-8.6.2 10.6.2-1 .2-21.2.1 16.4.2 3.8.2-12.5.2 7.7.2-10.6.1 10.6.2-4.8.2 20.2.2-17.3.2-1 .2-1.9.1-1 .2 16.4.2-9.6.2-1.9.2 0 .1-1 .2-2.9.2 10.6.2-5.8.2 2.9.2 0 .1-4.8.2-2.9.2 18.3.2-10.6.2 5.8.1-10.6.2 0 .2 8.7.2-6.8.2-1.9.2 1 .1 11.5.2-1 .2-.9.2-12.5.2-3.9.1 12.5.2-1.9.2-1.9.2 3.8.2 0 .2-3.8.1-4.8.2 1.9.2 4.8.2 1 .2 5.7.1-13.4.2 9.6.2-1.9.2 3.8.2-2.9.1-10.6.2 3.9.2 8.7.2-9.7.2-8.6.2.9.1 13.5.2 7.7.2-5.8.2-.9.2-2.9.1-4.8.2 3.8.2 0 .2 1 .2-3.9.2 8.7.1-5.8.2 7.7.2-1.9.2-1.9.2.9.1 2 .2-20.3.2 13.5.2-.9.2-5.8.2 12.5.1 2.9.2-9.6.2 7.7.2-3.9.2-6.7.1-3.9.2 10.6.2 0 .2 0 .2-7.7.2 16.4.1-2.9.2-4.8.2 0 .2-1 .2 0 .1-1.9.2-5.8.2 1.9.2 1 .2 15.4.1-8.7.2 11.6.2-2.9.2-2.9.2 3.9.2-16.4.1 18.3.2-5.8.2-4.8.2-8.7.2 8.7.1-1.9.2-2.9.2-1.9.2 7.7.2-16.4.2 21.2.1-1 .2-10.6.2 5.8.2 4.8.2-1.9.1 8.7.2-6.8.2-10.6.2-4.8.2 5.8.2-17.4.1 25.1.2-1.9.2-9.7.2-9.6.2 30.8.1-10.6.2-2.9.2 4.8.2 2 .2-10.6.1 2.9.2-2.9.2-4.8.2.9.2 6.8.2 0 .1 1.9.2-4.8.2-2.9.2-1.9.2 3.8.1-.9.2 6.7.2-4.8.2 2.9.2-1 .2 0 .1-4.8.2 11.5.2-9.6.2 4.8.2-4.8.1-2.9.2 12.5.2-15.4.2 6.8.2 5.8.2 6.7.1-5.8.2-6.7.2-6.8.2 1 .2 4.8.1 9.6.2-6.7.2 4.8.2 0 .2-12.5.2 0 .1 0 .2 5.8.2-1 .2 0 .2 7.7.1-11.5.2 3.8.2-.9.2 5.7.2-.9.1-7.7.2 0 .2 13.4.2-14.4.2 1.9.2 12.5.1 2 .2-1 .2-5.8.2 0 .2 0 .1-16.3.2 22.1.2-12.5.2 5.8.2.9.2 0 .1 1 .2-1.9.2 9.6.2-4.8.2 0 .1-14.5.2 5.8.2-2.9.2 5.8.2-3.8.2 0 .1 1.9.2 7.7.2 0 .2-7.7.2 6.7.1 3.9.2-16.4.2-4.8.2 26 .2 0 .1-8.7.2-2.9.2 3.9.2-9.6.2 10.5.2 1 .1-1 .2-4.8.2-8.6.2-6.8.2 15.4.1 1 .2-1.9.2 7.7.2-8.7.2-1.9.2 15.4.1-8.7.2-11.5.2 1.9.2 7.7.2-8.7.1 16.4.2-9.6.2-4.8.2 5.7.2-5.7.2-2 .1 11.6.2 4.8.2-16.4.2 6.8.2 1.9.1-6.7.2 5.7.2 14.5.2-13.5.2-5.8.2 5.8.1-1.9.2-2.9.2 10.6.2-17.4.2 20.3.1-5.8.2 6.7.2-7.7.2-2.9.2 2.9.1-.9.2-10.6.2 3.8.2 14.5.2-4.9.2-4.8.1 6.8.2-25.1.2 18.3.2-4.8.2-2.9.1 2 .2.9.2-2.9.2 9.7.2-5.8.2 8.6.1 1 .2-10.6.2 4.8.2-10.6.2 14.5.1 0 .2-7.7.2 2.9.2 4.8.2-2.9.2 12.5.1-8.7.2-2.8.2-6.8.2-10.6.2 24.1.1-3.9.2-11.5.2 8.7.2-16.4.2 14.4.1 2 .2-7.7.2 3.8.2 1 .2-2.9.2 13.5.1-6.8.2-.9.2-6.8.2-.9.2 19.2.1-12.5.2-1 .2-6.7.2-1.9.2 1.9.2 2.9.1-8.7.2-2.9.2 10.6.2 4.8.2-8.6.1 3.8.2 2.9.2-4.8.2 17.3.2-19.2.2 2.9.1 16.3.2-3.8.2-3.9.2-4.8.2-4.8.1 8.7.2-5.8.2 5.8.2 8.6.2-8.6.2 0 .1-2.9.2 0 .2-6.8.2-.9.2-2 .1 5.8.2-6.7.2 11.5.2-5.7.2 1.9.1 8.6.2-22.1.2 21.2.2 4.8.2-20.2.2 7.7.1-4.8.2 2.9.2 3.8.2 7.7.2-14.4.1 18.3.2-8.7.2-12.5.2 7.7.2-1.9.2.9.1 10.6.2-8.7.2-1.9.2 1.9.2 7.7.1-9.6.2-4.8.2 9.6.2 5.8.2 10.6.2-21.2.1 4.8.2-9.6.2 11.6.2-10.6.2 14.4.1 1.9.2 0 .2 0 .2-5.7.2-9.7.2-3.8.1 8.6.2 1 .2-5.8.2-3.8.2 9.6.1-7.7.2 11.6.2 8.6.2-10.6.2-1.9.1-9.6.2 4.8.2 6.7.2-2.9.2-1.9.2 2.9.1-6.7.2-2 .2 8.7.2-5.8.2 5.8.1-1 .2 2 .2-2 .2-5.7.2 0 .2 11.5.1 5.8.2-2.9.2 0 .2-13.5.2 4.8.1-14.4.2 20.2.2 1 .2-15.4.2 17.3.2-15.4.1-2.9.2 7.7.2-.9.2 10.5.2-13.4.1 2.9.2 0 .2 2.8.2 7.7.2-6.7.1-6.7.2 1.9.2 4.8.2 0 .2-4.8.2 11.5.1-4.8.2-6.7.2-2.9.2 16.4.2-24.1.1 18.3.2-13.5.2 12.5.2-1.9.2 9.6.2-7.7.1-14.4.2 16.4.2-1 .2-7.7.2 10.6.1-3.9.2 3.9.2 2.9.2-22.2.2 15.4.2-6.7.1-12.5.2 11.5.2-3.8.2 5.8.2 1.9.1-1 .2 0 .2 6.8.2-7.7.2-2 .2 5.8.1 0 .2 1 .2-2.9.2-5.8.2 6.7.1 1 .2-1.9.2-8.7.2-7.7.2 2.9.1 6.7.2 8.7.2-6.7.2-8.7.2 10.6.2-8.7.1-1.9.2 2.9.2 4.8.2 6.7.2-15.4.1 12.6.2-16.4.2 7.7.2-6.8.2 2 .2-12.5.1 6.7.2-26 .2 3.8.2 1 .2 7.7.1-15.4.2-1 .2 12.6.2-17.4.2 7.7.2-29.8.1 18.3.2-19.3.2 39.5.2-13.5.2-24.1.1 14.5.2 0 .2 30.8.2-18.3.2 6.7.1 0 .2 15.5.2 7.7.2-13.5.2 25 .2-18.3.1 17.4.2.9.2-.9.2-6.8.2 2.9.1-1 .2-2.9.2 3.9.2-3.9.2 4.9.2 1.9.1-10.6.2 20.2.2-8.6.2-2 .2 2 .1-8.7.2 17.3.2-10.6.2 2 .2 4.8.2-3.9.1 1 .2 9.6.2-3.8.2-5.8.2 6.7.1-11.5.2 2.9.2-8.7.2 14.4.2 2.9.2-5.8.1-8.6.2 7.7.2-1 .2 15.4.2-11.5.1-4.8.2 4.8.2-2 .2 1 .2 2.9.1-6.7.2 13.4.2-2.9.2 0 .2-16.3.2 7.7.1 10.6.2-2 .2-8.6.2-2.9.2 5.8.1 5.7.2-17.3.2 10.6.2 6.7.2-14.4.2 22.1.1-6.7.2-19.3.2 8.7.2-4.8.2-13.5.1 25.1.2 0 .2-1 .2 3.8.2 1 .2-8.7.1 0 .2 1 .2 6.7.2 0 .2-6.7.1-10.6.2 10.6.2 1.9.2-7.7.2 6.8.1 10.6.2-2.9.2-6.8.2-15.4.2 20.2.2-2.8.1-18.3.2-4.9.2 18.3.2-2.8.2 14.4.1-11.6.2 0 .2 2 .2-4.8.2 12.5.2-10.6.1 6.7.2 0 .2-2.9.2-8.6.2 2.9.1 3.8.2 8.7.2-12.5.2 5.7.2 9.7.2-3.9.1-6.7.2-2.9.2 5.8.2 2.8.2 1 .1 0 .2-11.5.2 8.6.2 0 .2-1.9.2-9.6.1-4.9.2 7.8.2 1.9.2 1.9.2 1 .1-4.8.2 7.7.2-1 .2-2.9.2 1.9.1 2 .2 7.7.2-3.9.2-5.8.2 11.6.2-2.9.1 3.8.2-20.2.2-.9.2 25 .2-26 .1 12.5.2-9.6.2 19.2.2-3.8.2-10.6.2 4.8.1 6.8.2-5.8.2-8.7.2 23.1.2-7.7.1-11.5.2 4.8.2-16.4.2 14.5.2-3.9.2-4.8.1 12.5.2-2.9.2-4.8.2 8.7.2-2.9.1 0 .2 0 .2 1.9.2-3.8.2 4.8.1-9.7.2 0 .2 6.8.2-2.9.2-1 .2 19.3.1-30.8.2 1.9.2 7.7.2 9.6.2-19.2.1 11.5.2-3.8.2 9.6.2 1 .2-13.5.2 6.7.1 8.7.2 1 .2-10.6.2 3.8.2-5.8.1 12.6.2-2.9.2-10.6.2 1.9.2-9.6.2 3.8.1 14.5.2-15.4.2 11.5.2-2.9.2-3.8.1-1 .2 11.6.2-10.6.2 1.9.2 10.6.2-19.3.1 19.3.2 4.8.2-6.7.2-5.8.2 0 .1-2.9.2 8.7.2-4.8.2 1.9.2-6.8.1 2.9.2-4.8.2 7.7.2-10.6.2-1.9.2 9.6.1 2 .2 7.7.2-7.7.2 5.7.2 2.9.1-6.7.2 4.8.2-9.6.2 6.7.2-4.8.2 0 .1 8.7.2 3.8.2-7.7.2-19.3.2 17.4.1 5.8.2 3.8.2-12.5.2-2.9.2-2.9.2-4.8.1 9.6.2-.9.2 0 .2 12.5.2-3.9.1-3.8.2 2.9.2-5.8.2 9.6.2 1 .2-11.6.1 3.9.2 6.7.2 0 .2-22.1.2 14.4.1 5.8.2 1.9.2-13.5.2 8.7.2 1 .1 0 .2-6.8.2-3.8.2 5.8.2-3.9.2 2.9.1 8.7.2-11.6.2 8.7.2 2.9.2-11.6.1 9.6.2 2.9.2-.9.2-2 .2 1 .2-2.9.1 5.8.2 5.8.2-19.3.2-1.9.2 7.7.1 4.8.2-1 .2 2 .2 1.9.2 1.9.2-6.7.1.9.2 6.8.2-5.8.2-6.7.2 1.9.1 10.6.2-13.5.2 2.9.2-1.9.2 6.7.1-1.9.2-4.8.2 3.8.2-3.8.2-1 .2 0 .1 6.7.2-8.6.2 14.4.2-16.4.2 6.8.1 9.6.2 5.8.2-1 .2-10.6.2-6.7.2 9.6.1-19.2.2 10.6.2 11.5.2-6.7.2 7.7.1-13.5.2 5.8.2.9.2 2 .2-1 .2-7.7.1 5.8.2 3.8.2 5.8.2-12.5.2 18.3.1-19.3.2 11.6.2-10.6.2 12.5.2-1.9.2-12.5.1 12.5.2-2.9.2-13.5.2 20.2.2-8.6.1 10.6.2-28.9.2 21.1.2-6.7.2 1.9.1-5.7.2 7.7.2 8.6.2-11.5.2 2.9.2 2.8.1-13.4.2 14.4.2-12.5.2 11.5.2-9.6.1 13.5.2-7.7.2 5.8.2-2 .2-3.8.2-2.9.1 0 .2 11.6.2-3.9.2 2.9.2-3.9.1 5.8.2 2.9.2-4.8.2-5.8.2-6.7.2-3.9.1 16.4.2-17.3.2 7.7.2.9.2 1 .1 12.5.2-15.4.2 10.6.2-9.6.2 2.9.1-5.8.2 12.5.2 0 .2-10.6.2 3.9.2 2.8.1 1 .2-11.5.2 18.3.2-7.8.2-.9.1-1.9.2-2 .2 2 .2 2.8.2-6.7.2 3.9.1 12.5.2-15.4.2 9.6.2-3.9.2-11.5.1 10.6.2 10.6.2-10.6.2-1.9.2-2 .2 1 .1 1 .2 6.7.2-5.8.2-8.6.2.9.1 7.7.2 6.8.2-7.7.2 6.7.2 2.9.2-1 .1-14.4.2 0 .2 6.7.2-3.8.2 3.8.1 3.9.2-13.5.2 5.8.2 10.6.2-5.8.1-5.8.2-13.5.2 19.3.2-5.8.2 6.7.2-2.8.1.9.2-4.8.2 14.5.2-2.9.2-9.7.1 0 .2 13.5.2-4.8.2-4.8.2-1 .2 1 .1 3.8.2-6.7.2 4.8.2 4.8.2 1 .1-10.6.2 1 .2-3.9.2 6.7.2-5.7.2 2.9.1 5.7.2 0 .2-2.9.2-4.8.2-1.9.1 1 .2 3.8.2-.9.2-2.9.2 8.6.1-9.6.2 15.4.2-18.3.2 13.5.2 1.9.2 5.8.1-4.8.2-11.6.2 10.6.2-1.9.2 7.7.1-2.9.2-18.3.2 9.6.2-3.8.2 6.7.2 3.9.1-14.5.2 0 .2 5.8.2 0 .2-.9.1 7.7.2 0 .2 4.8.2-21.2.2 11.5.2-3.8.1 0 .2-10.6.2 11.6.2 12.5.2-5.8.1 0 .2-7.7.2 1.9.2 4.8.2-5.7.2.9.1 8.7.2 1.9.2-2.9.2-10.6.2 2 .1 9.6.2-13.5.2 3.9.2 0 .2 0 .1 6.7.2-5.8.2 5.8.2 1 .2 3.8.2-10.6.1 14.5.2-15.4.2-3.9.2 10.6.2-6.7.1 5.7.2 1 .2-6.7.2-7.7.2 18.3.2-13.5.1 1.9.2 6.7.2-5.7.2-1 .2 7.7.1-1.9.2-5.8.2 13.5.2-4.8.2-5.8.2 0 .1 0 .2 3.8.2-.9.2-2.9.2 12.5.1-17.3.2 2.9.2 7.7.2 1.9.2-4.8.2 4.8.1 0 .2-1 .2-20.2.2 5.8.2 9.6.1 0 .2 1.9.2-7.7.2 5.8.2-11.5.1 13.4.2-3.8.2 5.8.2-8.7.2-2.9.2-1 .1 2 .2 0 .2 3.8.2 2.9.2 5.8.1-12.5.2 11.5.2-8.6.2 2.8.2 0 .2 1 .1-2.9.2-2.9.2 5.8.2-7.7.2 6.7.1-2.8.2 0 .2-11.6.2 9.6.2-5.7.2 13.4.1-17.3.2-2.9.2-4.8.2-1 .2 9.7.1-7.7.2-1 .2-13.5.2 18.3.2-2.9.1-7.7.2-17.3.2 25 .2 0 .2-3.8.2 5.8.1-5.8.2 5.8.2 2.8.2 6.8.2-21.2.1 21.2.2-6.8.2-3.8.2 3.8.2-4.8.2 5.8.1 14.4.2 0 .2-3.8.2 4.8.2-4.8.1 7.7.2-9.6.2.9.2 9.7.2-13.5.2 16.4.1-17.4.2 6.8.2-2 .2 12.6.2-16.4.1 11.5.2-11.5.2 14.4.2-3.8.2-6.8.2 8.7.1-1 .2-6.7.2 6.7.2 3.9.2-10.6.1 4.8.2-1 .2 1 .2-4.8.2 15.4.1-8.7.2 1 .2-5.8.2 6.8.2 0 .2-3.9.1 1.9.2-1.9.2 1.9.2-.9.2-11.6.1 5.8.2 0 .2 4.8.2-8.7.2-9.6.2 15.4.1-8.6.2-2.9.2 15.4.2 6.7.2-.9.1-1 .2-12.5.2 2.9.2-9.7.2 10.6.2 10.6.1-24.1.2 12.6.2 8.6.2-2.9.2-3.8.1 5.8.2-4.9.2 2.9.2-2.9.2 6.8.1-5.8.2-11.5.2-5.8.2 19.2.2-2.9.2-1.9.1 1 .2 5.8.2-5.8.2-2.9.2 7.7.1-5.8.2 8.7.2-3.9.2-2.9.2-2.8.2 3.8.1 1.9.2-14.4.2 10.6.2-3.9.2 10.6.1-19.2.2 21.2.2-2 .2 8.7.2-11.6.2 4.9.1-4.9.2-12.5.2 14.5.2-8.7.2 1.9.1 10.6.2-.9.2-13.5.2 1.9.2 3.8.2-5.7.1 6.7.2-2.9.2-1.9.2-13.5.2 24.1.1-2.9.2-6.7.2 3.8.2 9.6.2-16.3.1.9.2-2.9.2 0 .2 18.3.2-5.7.2-4.9.1-.9.2-6.8.2 12.6.2-7.7.2 11.5.1-7.7.2-2.9.2-7.7.2 6.8.2 8.6.2-12.5.1 10.6.2 0 .2-2.9.2 5.8.2 0 .1-12.5.2 11.5.2-6.7.2-2.9.2 1.9.2 5.8.1-5.8.2 11.6.2-9.7.2 0 .2 1 .1 6.8.2-16.4.2 12.5.2-19.3.2 20.3.1-14.5.2 4.8.2 10.6.2-3.8.2-17.4.2 10.6.1-3.8.2 4.8.2 3.8.2-13.4.2.9.1 14.5.2 1.9.2-9.6.2-14.5.2 10.6.2-5.8.1 2 .2 4.8.2-8.7.2 2.9.2 1.9.1 0 .2-13.5.2 21.2.2-12.5.2 7.7.2-14.4.1 7.7.2 2.9.2-2 .2 0 .2 5.8.1-1.9.2 6.7.2-12.5.2 2.9.2 12.5.2-12.5.1-1 .2 3.9.2 1.9.2 1 .2-1 .1-4.8.2 12.5.2-4.8.2-8.7.2 15.4.1-11.5.2 6.7.2-3.8.2-1.9.2 6.7.2-2.9.1 8.7.2-15.4.2 9.6.2-11.6.2-3.8.1 10.6.2 10.6.2-2.9.2-3.9.2-3.8.2 3.8.1 4.8.2-2.8.2-9.7.2 7.7.2-7.7.1 9.7.2 4.8.2-7.7.2 2.9.2 2.8.2-6.7.1 14.5.2-9.7.2 2.9.2 1 .2-2.9.1-5.8.2-4.8.2 20.2.2-3.8.2-21.2.2 25 .1 1 .2-3.9.2-4.8.2 4.8.2-8.6.1-2.9.2 0 .2 2.9.2 2.8.2 6.8.1-7.7.2 1.9.2 7.7.2-3.8.2-4.9.2 6.8.1-8.7.2-2.9.2 13.5.2-6.7.2-6.8.1 6.8.2 3.8.2-1.9.2 6.7.2-5.7.2-6.8.1 0 .2 2.9.2 9.6.2-16.3.2 11.5.1-8.6.2 4.8.2-7.7.2 10.6.2-5.8.2-3.9.1 11.6.2 1 .2-2 .2-8.6.2-1 .1 2.9.2 2.9.2-5.8.2 10.6.2 1.9.1-8.7.2 0 .2-4.8.2 2 .2 11.5.2-3.8.1 2.9.2-11.6.2 5.8.2-8.7.2 6.7.1 7.8.2-11.6.2 13.5.2-5.8.2 1 .2-8.7.1 4.8.2 10.6.2-9.6.2-8.7.2 8.7.1 5.8.2-12.6.2 4.8.2 2 .2 2.9.2.9.1 0 .2-1.9.2 3.9.2-9.7.2 2.9.1 0 .2 3.9.2-1 .2-6.7.2 9.6.2 0 .1 1 .2 0 .2.9.2-13.5.2 2.9.1 5.8.2-1.9.2 2.9.2 2.9.2 2.8.1-2.8.2-8.7.2 4.8.2-13.5.2 6.8.2-5.8.1 6.7.2 2.9.2 0 .2-1.9.2 2.9.1-12.5.2 8.6.2 1.9.2-.9.2 0 .2.9.1 1 .2-6.7.2 7.7.2 5.8.2-7.8.1-.9.2 0 .2 6.7.2-.9.2-3.9.2 7.7.1-4.8.2 3.9.2-6.8.2-7.7.2 4.8.1 10.6.2 1.9.2-.9.2-4.8.2-7.7.1 2.8.2-5.7.2 13.5.2-6.8.2 4.8.2 0 .1-1.9.2-9.6.2 16.3.2-12.5.2 1 .1.9.2-1.9.2 3.9.2 1.9.2 1 .2 3.8.1-19.2.2 15.4.2-13.5.2 13.5.2 0 .1-3.9.2-1.9.2 1.9.2-2.9.2 2.9.2 7.7.1-7.7.2 1 .2-5.8.2 4.8.2-5.8.1-1.9.2 17.3.2-.9.2-5.8.2-2.9.2-9.6.1 17.3.2-14.4.2 2.9.2 7.7.2-4.9.1 5.8.2-4.8.2-3.8.2 10.6.2-16.4.1 3.8.2 9.7.2 0 .2-14.5.2 16.4.2-8.7.1-1.9.2 10.6.2-9.6.2 6.7.2-3.9.1-5.7.2 13.5.2-19.3.2 16.4.2-6.8.2-.9.1 9.6.2-13.5.2 3.9.2 1.9.2 0 .1-1 .2-3.8.2 1.9.2 7.7.2-10.6.2 4.8.1 0 .2 14.5.2-19.3.2 7.7.2-2.9.1 2.9.2-1.9.2.9.2 4.9.2-17.4.1 3.9.2 8.6.2 1 .2-2.9.2 6.8.2 0 .1-3.9.2-1 .2-3.8.2-2.9.2 15.4.1-3.8.2-14.5.2 7.7.2-1.9.2-1 .2 2.9.1-1.9.2 2.9.2-1.9.2 9.6.2-1.9.1-10.6.2 2.9.2-2 .2 4.8.2 6.8.2-1.9.1 3.8.2-7.7.2-4.8.2 12.5.2-13.5.1 2.9.2-4.8.2 11.6.2 3.8.2-2.9.2-16.3.1 6.7.2 3.8.2 7.8.2-5.8.2 7.7.1-5.8.2-2.9.2 3.9.2-2.9.2 6.7.1-8.7.2-2.8.2-3.9.2-4.8.2 11.5.2-4.8.1 3.9.2 0 .2 1.9.2-6.7.2 17.3.1-2.9.2-19.2.2 4.8.2 3.8.2 18.3.2-10.6.1-.9.2 0 .2.9.2 0 .2 1 .1-16.4.2 9.6.2-9.6.2 6.8.2 2.8.2 1 .1 0 .2-4.8.2 1.9.2 3.9.2-5.8.1 4.8.2-6.7.2 4.8.2 1.9.2 0 .1-1.9.2-1 .2 2.9.2 5.8.2-7.7.2-9.6.1 15.4.2-2.9.2 2.9.2.9.2-3.8.1-4.8.2-2 .2-3.8.2 12.5.2 2.9.2-1.9.1.9.2 1 .2-7.7.2-8.7.2 22.2.1-15.4.2 7.7.2-4.9.2-11.5.2 20.2.2-4.8.1-8.7.2 9.7.2 2.9.2-5.8.2-14.5.1 7.7.2 4.8.2-.9.2 5.8.2.9.2-1.9.1 1.9.2 1 .2-17.3.2 1.9.2 12.5.1-8.7.2 9.7.2-2.9.2 1.9.2-5.8.1 3.9.2-1 .2 2.9.2-8.7.2 8.7.2-3.9.1 1 .2-1 .2-2.8.2-1 .2 0 .1 10.6.2-18.3.2 11.5.2 0 .2-10.5.2 6.7.1 11.6.2.9.2-6.7.2 0 .2-6.8.1 4.8.2 11.6.2-7.7.2 1 .2-1 .2-8.7.1 11.6.2-2.9.2-7.7.2 8.7.2-2.9.1-3.9.2 1.9.2-4.8.2 2 .2 4.8.2 1.9.1 1.9.2-5.8.2 5.8.2 2.9.2-7.7.1-4.8.2 11.6.2-3.9.2-4.8.2-3.9.1 9.7.2-1 .2-6.7.2.9.2 6.8.2-6.8.1 6.8.2 3.8.2-3.8.2-1 .2-7.7.1-1 .2 1 .2 0 .2 9.6.2 3.9.2-8.7.1 2.9.2 4.8.2 1 .2-5.8.2-7.7.1 5.8.2-13.5.2 6.7.2 6.8.2-3.9.2 11.6.1-21.2.2 4.8.2 11.6.2-1 .2-4.8.1-3.9.2 4.8.2-2.8.2 3.8.2-4.8.1 2.9.2 5.8.2-2.9.2-8.7.2 11.6.2 4.8.1-5.8.2-5.8.2 3.9.2 4.8.2-6.8.1-16.3.2 15.4.2 7.7.2-9.6.2 12.5.2-8.7.1 7.7.2-8.7.2 0 .2 4.9.2-2.9.1-2.9.2-10.6.2 13.5.2-17.4.2 19.3.2-8.7.1-.9.2 10.6.2 0 .2 2.9.2-3.9.1 2.9.2-18.3.2 13.5.2-2 .2 4.9.2-5.8.1-13.5.2 15.4.2 2.9.2-3.9.2-8.6.1 0 .2 12.5.2 1.9.2-12.5.2 6.7.1 6.8.2 1.9.2-8.7.2 8.7.2-9.6.2.9.1 2 .2-2 .2 6.8.2-1.9.2-10.6.1 15.4.2-18.3.2 6.7.2 0 .2 1 .2 8.7.1-11.6.2 7.7.2-5.8.2-1.9.2 11.6.1-13.5.2 9.6.2 1.9.2-10.6.2 4.8.2-3.8.1 8.7.2-21.2.2 23.1.2-12.5.2 9.6.1 1 .2-2.9.2-4.8.2 6.7.2-2.9.1-1 .2-1.9.2 1 .2-4.8.2 11.5.2 2.9.1-1.9.2-5.8.2 5.8.2-2.9.2-7.7.1 5.8.2-7.7.2-8.7.2 24.1.2-4.8.2-5.8.1 0 .2-1 .2-3.8.2 4.8.2 1.9.1-7.7.2 11.6.2 6.7.2-14.4.2-2 .2-1.9.1 8.7.2 4.8.2-6.8.2-3.8.2 4.8.1-1 .2 6.8.2 3.8.2-6.7.2-8.7.2 16.4.1-5.8.2-9.6.2 0 .2 5.8.2-14.5.1 12.5.2-1.9.2 1 .2 8.7.2-20.3.1 11.6.2 1.9.2-2.9.2 6.8.2-1 .2 0 .1-6.7.2-6.8.2 8.7.2-2.9.2 4.8.1-2.9.2-4.8.2 7.7.2 8.7.2-13.5.2 1.9.1 3.9.2-11.6.2 16.4.2-13.5.2 6.7.1-12.5.2 6.8.2 1.9.2 8.7.2.9.2-.9.1 6.7.2-7.7.2 7.7.2-18.3.2-1.9.1 17.3.2-13.5.2 3.9.2 5.8.2 6.7.1-17.3.2.9.2 8.7.2-3.9.2 2 .2-18.3.1 17.3.2-7.7.2 12.5.2-7.7.2 5.8.1-2.9.2 4.8.2-3.8.2 6.7.2-15.4.2 6.7.1 2 .2-3.9.2 1 .2 0 .2-1 .1 6.8.2 2.9.2-5.8.2-1 .2 3.9.2 2.9.1-10.6.2-1 .2 4.8.2-2.9.2 2.9.1-5.8.2-3.8.2 9.6.2 1 .2-2 .2-9.6.1-4.8.2 4.8.2-16.4.2 9.7.2-5.8.1 12.5.2-5.8.2-1.9.2-.9.2-1 .1-2.9.2-1 .2 21.2.2-7.7.2 5.8.2 1 .1-2 .2 3.9.2 1.9.2 2.9.2 1 .1-2 .2-9.6.2 10.6.2-1 .2-4.8.2 1.9.1 0 .2 5.8.2-9.6.2 8.7.2-7.7.1 3.8.2 7.7.2-8.7.2 0 .2 12.6.2-11.6.1 1 .2-2 .2 0 .2-.9.2 5.8.1-9.7.2 9.7.2-6.8.2 8.7.2-9.6.2 4.8.1-6.8.2 4.8.2-.9.2 1.9.2 1 .1-7.7.2 10.6.2.9.2 1 .2-5.8.1 2.9.2-6.7.2 8.6.2-5.8.2 9.7.2-12.5.1 10.6.2-7.8.2 5.8.2 1 .2 5.8.1-5.8.2-17.3.2 14.4.2-7.7.2 1.9.2 10.6.1-3.8.2-2.9.2-11.6.2 6.8.2 0 .1 2.8.2-6.7.2 12.5.2-4.8.2-1.9.2-1.9.1 11.5.2-14.4.2 5.7.2 5.8.2 2.9.1-7.7.2 2.9.2-5.8.2 12.5.2-14.4.1 0 .2 3.8.2 3.9.2-10.6.2 14.5.2-3.9.1 0 .2-3.9.2-9.6.2 15.4.2-12.5.1 6.7.2 9.7.2-1 .2 3.9.2-6.8.2-4.8.1 1 .2 1.9.2-4.8.2 8.7.2-9.7.1 8.7.2-4.8.2 0 .2 3.8.2-1.9.2-13.5.1 4.8.2 8.7.2-5.8.2 3.9.2-7.7.1 5.7.2 3.9.2-10.6.2 13.5.2-12.5.2 2.9.1 13.4.2-6.7.2-3.9.2-.9.2 2.9.1 6.7.2-1.9.2-1.9.2-11.6.2 15.4.1 0 .2-10.6.2-.9.2 4.8.2-3.9.2-2.9.1 13.5.2-11.5.2 3.8.2 6.8.2-5.8.1 3.8.2-9.6.2 12.5.2-7.7.2-5.8.2 2 .1 10.6.2 0 .2-3.9.2 4.8.2-7.7.1 1 .2 0 .2-18.3.2 15.4.2 2.9.2 3.8.1-4.8.2 3.9.2-2.9.2-4.8.2 0 .1-1 .2 3.8.2 4.9.2-1 .2-10.6.1 1.9.2 10.6.2-1.9.2-5.8.2-3.8.2-1 .1 8.7.2-7.7.2 7.7.2-4.8.2 6.7.1 1.9.2-8.6.2.9.2 1.9.2 1 .2 1 .1-1 .2 0 .2-7.7.2 14.5.2 1.9.1-4.8.2-6.8.2-3.8.2-1 .2 6.7.2 0 .1 3.9.2 1 .2-4.9.2-8.6.2 14.4.1-8.6.2 0 .2 2.8.2 4.9.2 0 .2-16.4.1 20.2.2-10.6.2 7.7.2-3.8.2 4.8.1-6.8.2 5.8.2-6.7.2 13.5.2-5.8.1 2.9.2-2.9.2-5.8.2-3.8.2-2 .2-5.7.1 12.5.2-1 .2 0 .2 0 .2 4.8.1-14.4.2 7.7.2 10.6.2 0 .2-7.7.2 7.7.1-13.5.2 9.6.2-.9.2-13.5.2 18.3.1-8.7.2-3.8.2 2.8.2 6.8.2 2.9.2-3.9.1-10.6.2-.9.2 16.3.2-15.4.2 10.6.1-9.6.2 9.6.2-12.5.2 6.7.2 5.8.1-6.7.2-10.6.2 1.9.2 7.7.2 7.7.2-1.9.1 0 .2-8.7.2 9.7.2-21.2.2 25 .1-17.3.2 9.6.2 5.8.2-1 .2 1 .2-1.9.1 0 .2-9.7.2 6.8.2-6.8.2 4.8.1-3.8.2 15.4.2-17.3.2 12.5.2-5.8.2 2.9.1 4.8.2-6.7.2 4.8.2-1.9.2-8.7.1 10.6.2-11.6.2 2.9.2 3.9.2-2 .2 4.9.1-1 .2-8.7.2 11.6.2 3.8.2-3.8.1-2.9.2 2.9.2-11.6.2 2 .2 13.4.1-5.7.2-6.8.2 1 .2-1 .2 2.9.2-4.8.1 5.8.2 3.8.2-1.9.2-16.4.2 8.7.1 5.8.2 2.9.2-3.9.2 1 .2 2.9.2-4.9.1 8.7.2-11.5.2 14.4.2-11.6.2-.9.1-5.8.2 19.3.2-10.6.2-5.8.2 10.6.2-2.9.1-18.3.2 15.4.2 5.8.2-1.9.2.9.1-7.7.2 5.8.2-2.9.2-2.9.2 1 .1 5.8.2-5.8.2 9.6.2-12.5.2 2.9.2.9.1 8.7.2-.9.2-1 .2-5.8.2 2.9.1-2.9.2-6.7.2 10.6.2-4.9.2 7.8.2-25.1.1 24.1.2-7.7.2.9.2-9.6.2 14.5.1.9.2-6.7.2 5.8.2-7.7.2 0 .2 0 .1 1.9.2 0 .2 7.7.2 5.8.2-5.8.1-15.4.2 9.6.2-1 .2 1 .2 2.9.2 3.9.1-9.7.2 9.7.2-1 .2-6.8.2 5.8.1-5.8.2-3.8.2 11.6.2-9.7.2-.9.1 15.4.2-15.4.2 9.6.2-7.7.2-5.8.2 11.6.1-4.9.2 3.9.2-2.9.2 2.9.2-3.9.1 2 .2-5.8.2-4.8.2 10.6.2 4.8.2-1.9.1-6.8.2 9.7.2 3.8.2-13.5.2-.9.1 3.8.2-3.8.2-6.8.2 8.7.2-1.9.2 0 .1 2.8.2 0 .2 3.9.2 0 .2 1 .1-13.5.2 4.8.2 16.4.2-6.8.2-9.6.2-2.9.1 2.9.2 7.7.2-5.8.2 8.7.2-11.6.1 1 .2 0 .2-1.9.2 13.5.2-1 .1-8.7.2 7.7.2-4.8.2 5.8.2-2.9.2-7.7.1 1.9.2-6.7.2 18.3.2-7.7.2 4.8.1-10.6.2 1.9.2-1.9.2 9.6.2-.9.2-4.9.1 7.8.2.9.2-10.6.2 7.7.2-4.8.1-1.9.2 6.7.2 3.9.2-13.5.2 0 .2-1.9.1 6.7.2-4.8.2 8.7.2-5.8.2 4.8.1-9.6.2 16.3.2-4.8.2-10.6.2 0 .1 1 .2 1.9.2 6.8.2-2.9.2 1.9.2-9.6.1 14.4.2-3.8.2.9.2-7.7.2 2.9.1-11.5.2 7.7.2 2.8.2 0 .2 6.8.2-5.8.1 6.8.2-1 .2-1 .2-3.8.2 7.7.1-12.5.2 10.6.2.9.2-1.9.2-7.7.2.9.1 1 .2-1 .2-.9.2 0 .2-2.9.1 1 .2 11.5.2-10.6.2-3.8.2 9.6.2-5.8.1 5.8.2 2.9.2 1.9.2-13.5.2 13.5.1-10.6.2 2.9.2 8.7.2-9.7.2-2.8.1.9.2 6.8.2-2.9.2-4.8.2-7.7.2 14.4.1 3.9.2-13.5.2 21.2.2-11.6.2-4.8.1 0 .2 2.9.2 2.9.2-3.9.2-9.6.2 12.5.1-5.8.2 9.7.2-12.6.2 8.7.2-6.7.1 10.6.2 1.9.2-8.7.2 3.9.2 7.7.2-13.5.1 16.4.2-13.5.2-11.6.2 9.6.2-5.7.1 4.8.2.9.2-3.8.2-1.9.2 2.9.1 6.7.2-9.6.2-2.9.2-4.8.2 14.4.2 5.8.1-9.6.2 4.8.2 5.8.2-2.9.2.9.1 1 .2-7.7.2-3.9.2 11.6.2 2.9.2-8.7.1-11.5.2 6.7.2 10.6.2 0 .2-7.7.1 1.9.2-1 .2 9.7.2-12.5.2 0 .2 1.9.1.9.2 2 .2 1.9.2 1.9.2-5.8.1 0 .2-2.8.2 10.6.2-10.6.2 7.7.2-11.6.1 12.5.2-4.8.2 1 .2-10.6.2 14.4.1-6.7.2 1.9.2-5.8.2 2 .2 11.5.1-4.8.2-1.9.2-3.9.2 2.9.2-2.9.2 10.6.1-11.5.2 6.7.2-4.8.2 8.7.2-1 .1-6.8.2 1 .2 2.9.2 1.9.2-.9.2-6.8.1 7.7.2-7.7.2 0 .2 12.5.2 0 .1-17.3.2 4.8.2 3.9.2-7.7.2 2.9.2 8.6.1-14.4.2-4.8.2 17.3.2-6.7.2 8.6.1-11.5.2 3.8.2-1.9.2 2.9.2-12.5.1 19.2.2-7.7.2-6.7.2 4.8.2 3.8.2-5.7.1 2.9.2-17.4.2 18.3.2-8.6.2 0 .1 9.6.2-9.6.2-8.7.2 13.5.2 0 .2.9.1 15.4.2-16.3.2-2.9.2-2.9.2 5.8.1 3.8.2 1.9.2-5.7.2 4.8.2-1 .2 7.7.1-10.6.2 1 .2-16.4.2 6.8.2 11.5.1-6.7.2 1.9.2-5.8.2 6.8.2 16.3.2-11.5.1 5.8.2 1.9.2-17.3.2 19.2.2-10.6.1 2.9.2 4.8.2 10.6.2-15.4.2 3.9.1-10.6.2 3.8.2 8.7.2-5.8.2-1 .2-.9.1-1.9.2 4.8.2 8.6.2-4.8.2-9.6.1-1 .2 2.9.2 0 .2 3.9.2-6.8.2-4.8.1 4.8.2 10.6.2-5.8.2 9.7.2-1 .1-3.8.2-6.8.2 8.7.2-1.9.2-4.9.2 2 .1-2.9.2-3.9.2 14.5.2-7.7.2 9.6.1-2.9.2-1.9.2-4.8.2-2.9.2 16.4.2-1 .1-7.7.2-10.6.2 8.7.2-10.6.2 4.8.1-1 .2-2.9.2-6.7.2 13.5.2-1 .1-4.8.2 3.8.2 3.9.2-8.7.2 15.4.2-3.8.1-6.8.2-4.8.2-10.6.2 22.2.2-6.8.1 0 .2 0 .2 4.9.2 0 .2-9.7.2 1 .1 4.8.2 4.8.2-4.8.2-1 .2-.9.1 8.7.2-2 .2-18.3.2 18.3.2-.9.2-14.5.1 13.5.2-4.8.2-3.9.2 13.5.2 1 .1-10.6.2 2.9.2 1.9.2-1.9.2 1.9.1-3.9.2 5.8.2 2 .2-11.6.2 1.9.2-2.9.1 0 .2-3.8.2 7.7.2 7.7.2-9.6.1 4.8.2 12.5.2-7.7.2 2.9.2-19.3.2 6.8.1 0 .2 1.9.2.9.2 1 .2 0 .1 5.8.2-8.7.2 1 .2 1.9.2 5.8.2 1.9.1-15.4.2 6.7.2 11.6.2-6.7.2-3.9.1 4.8.2-3.8.2 7.7.2-14.5.2 1 .2 1.9.1-8.6.2 6.7.2 2.9.2 9.6.2-10.6.1 9.7.2-12.6.2 2.9.2 11.6.2-4.8.1-1 .2 1.9.2-6.7.2 1.9.2-10.6.2 7.7.1 10.6.2-4.8.2-6.7.2 1.9.2-4.8.1 9.6.2-7.7.2 1.9.2-2.9.2 9.7.2.9.1-12.5.2 14.5.2-12.6.2 3.9.2 0 .1 6.7.2-14.4.2 6.7.2-7.7.2 9.6.2 7.8.1-8.7.2 10.6.2-15.4.2 11.5.2-6.7.1-1 .2-1.9.2 10.6.2-1 .2-12.5.1 4.8.2-1.9.2-1 .2 9.7.2-6.8.2 2.9.1 8.7.2-12.5.2 9.6.2-1.9.2-7.7.1 10.6.2-17.4.2 17.4.2-10.6.2-2.9.2 15.4.1-10.6.2.9.2 5.8.2 3.9.2-5.8.1 0 .2-3.9.2-4.8.2 8.7.2 8.7.2-2 .1-4.8.2-.9.2-4.9.2-2.8.2 1.9.1-2.9.2 2.9.2 12.5.2-1 .2-2.8.2-1 .1-4.8.2-5.8.2 4.8.2-3.8.2 9.6.1-6.8.2 5.8.2-10.6.2 14.5.2 4.8.1-12.5.2 0 .2-2.9.2 4.8.2-1.9.2 6.7.1 2.9.2-13.5.2 11.6.2-14.5.2 8.7.1 0 .2 7.7.2-10.6.2-2.9.2 1.9.2-.9.1 0 .2 0 .2 2.9.2-10.6.2 14.4.1 2.9.2-8.7.2-1.9.2 6.8.2-1 .2-2.9.1 3.9.2-8.7.2 14.4.2 2 .2-16.4.1 2.9.2.9.2 6.8.2-13.5.2 5.8.1 7.7.2-9.6.2 7.7.2-4.9.2-1.9.2 14.5.1-17.4.2 10.6.2-4.8.2-1 .2 7.8.1-6.8.2 1 .2-5.8.2 8.7.2-5.8.2 9.6.1-7.7.2 8.7.2-9.7.2 8.7.2-9.6.1 8.7.2-7.8.2 8.7.2-3.8.2 3.8.2-19.2.1 9.6.2 5.8.2-7.7.2 9.6.2-9.6.1 8.6.2-7.7.2 8.7.2-9.6.2-1 .2 8.7.1-5.8.2 0 .2 10.6.2-7.7.2-2 .1 4.9.2 1.9.2 1 .2 1.9.2-13.5.1 2.9.2 0 .2-10.6.2 20.2.2 1 .2-9.7.1 1 .2 2.9.2 1 .2-3.9.2-4.8.1 5.8.2 1.9.2-1.9.2-2 .2-3.8.2 5.8.1 1.9.2 2.9.2-13.5.2 16.4.2-9.7.1-.9.2 1.9.2 10.6.2-7.7.2-8.7.2 13.5.1 2.9.2-13.5.2 1.9.2-2.8.2 6.7.1-1.9.2-15.4.2 11.5.2 5.8.2-5.8.1 12.5.2-8.6.2-2 .2 1 .2 0 .2-3.8.1 4.8.2 5.8.2-8.7.2 6.7.2-1.9.1-2.9.2 6.8.2 0 .2 3.8.2-10.6.2-1.9.1-2.9.2 7.7.2-9.6.2 15.4.2-7.7.1-4.8.2 2.8.2-1.9.2 9.7.2 1.9.2-3.9.1-1.9.2-3.9.2 3.9.2 0 .2-3.9.1 1 .2 1 .2-2 .2 8.7.2-3.8.2-3.9.1 6.8.2-10.6.2 7.7.2-3.9.2-6.7.1 9.6.2-8.7.2 8.7.2-1.9.2 4.8.1-8.7.2 0 .2 1.9.2 5.8.2-6.7.2 1.9.1 0 .2 2.9.2-6.7.2 18.3.2-15.5.1 9.7.2-10.6.2 5.8.2-2.9.2-2 .2 0 .1-1.9.2-1.9.2 9.6.2-14.4.2 10.6.1-2.9.2 7.7.2-5.8.2 3.9.2 3.8.2-6.7.1 0 .2-7.7.2 16.3.2-8.6.2 0 .1 0 .2-2.9.2 5.8.2 4.8.2-2.9.2-9.6.1 4.8.2-2 .2 4.9.2-5.8.2-4.8.1 11.5.2 3.9.2-7.7.2-2 .2 6.8.1-2.9.2 5.8.2-15.4.2 15.4.2-8.7.2 2.9.1-3.9.2-3.8.2 10.6.2-5.8.2 5.8.1-8.7.2 2.9.2 1 .2 0 .2 6.7.2-2.9.1-7.7.2 1 .2-5.8.2 1.9.2 8.7.1-5.8.2 12.5.2-1.9.2-6.7.2-8.7.2 15.4.1-.9.2-12.6.2 5.8.2-5.8.2-3.8.1 9.6.2 2.9.2 2.9.2-2.9.2-4.8.1 9.6.2-2.9.2-3.8.2 0 .2 6.7.2-7.7.1 3.9.2-3.9.2-1.9.2-1 .2 6.8.1.9.2-1.9.2-8.7.2 2.9.2 8.7.2-5.8.1-7.7.2 16.4.2-1 .2-10.6.2 1 .1 9.6.2-12.5.2 5.8.2-1 .2 0 .2 2.9.1-3.9.2-3.8.2 1 .2 6.7.2-10.6.1 1 .2 14.4.2-8.7.2-6.7.2 5.8.2 6.7.1-11.5.2 10.6.2-5.8.2.9.2 4.9.1-5.8.2 9.6.2-9.6.2 2.9.2-1 .1-9.6.2 6.7.2 8.7.2-5.8.2 3.9.2-2.9.1-16.4.2 9.6.2 12.6.2-17.4.2 17.4.1-1 .2-4.8.2-1 .2-1 .2 3.9.2-3.9.1 3.9.2-7.7.2 3.8.2 3.9.2-3.9.1-9.6.2 14.5.2-14.5.2 4.8.2 8.7.2 0 .1 5.8.2 6.7.2-7.7.2-6.7.2-2 .1-8.6.2 7.7.2 11.5.2-11.5.2 1.9.1-7.7.2 11.6.2-2.9.2-2.9.2-7.7.2 6.7.1 1.9.2-4.8.2 10.6.2-7.7.2 1.9.1-6.7.2 16.4.2-10.6.2.9.2-6.7.2 4.8.1 6.8.2-2.9.2-2.9.2-7.7.2 9.6.1 6.8.2-17.4.2 10.6.2-3.8.2 9.6.2 0 .1-4.8.2-3.9.2 1.9.2 5.8.2-6.7.1 5.8.2-5.8.2-4.8.2 5.7.2 6.8.2 3.8.1-14.4.2 10.6.2-8.7.2 6.8.2-9.7.1 3.9.2 0 .2 6.7.2 0 .2-8.6.1 2.8.2 3.9.2 1.9.2-5.8.2 2 .2 2.9.1 1.9.2-5.8.2-2.9.2 1.9.2-10.5.1 10.5.2 2 .2 0 .2 3.8.2 1 .2-16.4.1 16.4.2-10.6.2 3.8.2 10.6.2-.9.1-19.3.2 4.8.2 13.5.2-13.5.2 6.8.2-2.9.1 4.8.2-12.5.2 10.6.2 2.9.2-6.8.1-3.8.2 14.4.2-8.7.2-1.9.2-.9.1 9.6.2-7.7.2-3.9.2-1.9.2 14.5.2-9.7.1 9.7.2-1 .2-6.8.2 0 .2 3.9.1-7.7.2 8.7.2 3.8.2-8.7.2 1 .2 5.8.1 1.9.2-11.5.2-1 .2 10.6.2-8.7.1 8.7.2-8.7.2 0 .2 10.6.2-10.6.2 13.5.1-17.3.2 13.5.2 4.8.2-12.6.2 2 .1-2 .2-1.9.2-2.9.2 13.5.2-1.9.2 1.9.1 1 .2-11.6.2-1.9.2 22.1.2-17.3.1 0 .2-1.9.2 2.9.2 2.9.2-4.9.1 5.8.2-12.5.2 12.5.2-7.7.2 2.9.2 6.8.1-10.6.2 13.4.2-14.4.2 4.8.2-2.9.1 3.9.2-3.9.2 1 .2-12.5.2 10.6.2.9.1-9.6.2 13.5.2-6.8.2 8.7.2-2.9.1-1 .2-3.8.2 11.6.2-7.8.2 8.7.2 1.9.1 4.9.2-19.3.2 2.9.2 15.4.2-18.3.1 8.7.2 6.7.2-11.6.2 3.9.2-2.9.2 1 .1-2.9.2 2.9.2-2 .2-.9.2 11.5.1-10.6.2 1 .2-1.9.2-1.9.2 7.7.1 0 .2-10.6.2 15.4.2-3.9.2-6.7.2 5.8.1-1 .2 1 .2 0 .2-3.9.2 3.9.1-14.5.2 15.4.2-3.8.2 6.7.2 0 .2-6.7.1 8.6.2 1 .2-5.8.2-1.9.2-8.7.1 3.9.2 7.7.2-5.8.2 1 .2 3.8.2-9.6.1 3.8.2-.9.2 6.7.2 3.9.2-1 .1-.9.2-20.3.2 21.2.2 0 .2 1 .1-4.8.2-6.8.2 1 .2 0 .2 5.8.2.9.1-1.9.2-3.9.2 5.8.2-4.8.2 2.9.1-9.6.2 11.5.2-7.7.2-9.6.2 18.3.2-1.9.1 0 .2-3.9.2 10.6.2-6.7.2-5.8.1 11.5.2-12.5.2 3.9.2 1.9.2-3.9.2-2.8.1 4.8.2 4.8.2-9.6.2 6.7.2-16.4.1 14.5.2-8.7.2 10.6.2 5.8.2-15.4.2 4.8.1-3.9.2 12.6.2-2 .2-8.6.2.9.1 9.7.2-3.9.2 3.9.2-7.8.2 3.9.1 4.8.2-2.9.2-10.6.2 10.6.2-3.8.2-5.8.1 21.2.2-9.6.2-2.9.2-3.9.2 4.8.1 0 .2 2.9.2-7.7.2-3.8.2 6.7.2 1.9.1-9.6.2 1 .2 0 .2-2 .2 19.3.1-17.3.2 2.8.2 2 .2 0 .2 3.8.2 0 .1 2.9.2-3.8.2 2.9.2-1 .2-2.9.1-2.9.2 6.8.2-12.6.2 10.6.2 9.7.1-11.6.2 0 .2 3.9.2 1.9.2-3.9.2 4.8.1-6.7.2 3.9.2-3.9.2-7.7.2-2.9.1 1.9.2 3.9.2 9.6.2-8.7.2 0 .2 0 .1-1.9.2 7.7.2 0 .2 0 .2-14.4.1 19.2.2-12.5.2 11.6.2-1.9.2 6.7.2-12.5.1 10.6.2-8.7.2 1 .2 2.9.2-5.8.1-10.6.2 9.6.2 1 .2 3.8.2-.9.2 3.8.1 0 .2-1.9.2-13.5.2 4.8.2 10.6.1-13.5.2 12.6.2-2 .2-.9.2.9.1-5.8.2 9.7.2-9.7.2 2 .2-2 .2 2 .1 7.7.2-10.6.2 4.8.2 4.8.2-8.7.1-5.7.2 13.5.2-8.7.2.9.2 4.9.2-1 .1-12.5.2 15.4.2-1 .2-7.7.2 1.9.1 2 .2 5.8.2-12.6.2 14.5.2-12.5.2 7.7.1-2.9.2 8.6.2-6.7.2 4.8.2 3.9.1-6.8.2-4.8.2-1.9.2 1.9.2 1 .1-3.9.2 5.8.2 8.7.2-11.6.2 1 .2-2.9.1 1.9.2 7.7.2-3.8.2 5.7.2-6.7.1 3.9.2-2.9.2-5.8.2 6.7.2-12.5.2 13.5.1 1 .2-11.6.2 0 .2 12.5.2-9.6.1-5.8.2 13.5.2-2.9.2 1.9.2 1 .2-11.6.1 8.7.2-3.9.2-3.8.2 8.7.2 1.9.1-1.9.2-1 .2-3.9.2 11.6.2-6.7.2 0 .1-7.7.2 12.5.2-16.4.2 1 .2 12.5.1-7.7.2 4.8.2-1.9.2 6.7.2-1.9.1-7.7.2 1.9.2 5.8.2-1 .2-1.9.2-6.7.1 11.5.2-10.6.2 1.9.2-.9.2.9.1-.9.2-3.9.2 10.6.2-12.5.2 18.3.2-16.4.1 12.6.2-8.7.2.9.2 2 .2 4.8.1-8.7.2 1.9.2 3.9.2 3.9.2 4.8.2-2.9.1-14.5.2 9.7.2 11.5.2-5.8.2-19.2.1 5.8.2 3.8.2 4.8.2-1.9.2 0 .2 5.8.1.9.2-10.6.2 1 .2 5.8.2 1.9.1 1.9.2-6.7.2 3.9.2-8.7.2 2.9.1 4.8.2-5.8.2-3.8.2 6.7.2-7.7.2 7.7.1 4.8.2 1.9.2-6.7.2 0 .2 6.7.1-6.7.2-7.7.2 7.7.2 1.9.2-1.9.2-7.7.1 11.6.2-7.8.2 5.8.2-12.5.2 2.9.1 2.9.2 8.7.2-2 .2 5.8.2-11.6.2 9.7.1-3.9.2-7.7.2 10.6.2-7.7.2-2.9.1 10.6.2-3.8.2 3.8.2-.9.2-12.6.1 2.9.2 1.9.2 6.8.2 0 .2-1.9.2 2.9.1-7.8.2 4.9.2.9.2 3.9.2-8.7.1 3.9.2 1.9.2-5.8.2 5.8.2-7.7.2 2.9.1 9.6.2-1 .2-4.8.2-6.7.2 9.6.1 1 .2-9.7.2-6.7.2 3.9.2 3.8.2 11.6.1-12.6.2 1 .2 4.8.2-10.6.2 9.7.1 1.9.2-9.6.2 13.4.2-4.8.2-10.6.2 6.8.1 0 .2-13.5.2 18.3.2-22.2.2 14.5.1 11.5.2-23.1.2 23.1.2-6.7.2-5.8.1 10.6.2-4.8.2 7.7.2-11.6.2 11.6.2-15.4.1 1 .2 8.6.2-4.8.2 1 .2-2 .1 5.8.2-9.6.2 1 .2 12.5.2 0 .2-14.5.1 6.8.2 2.9.2 0 .2-4.9.2-9.6.1 9.6.2-.9.2 5.8.2 0 .2.9.2 9.7.1-10.6.2-10.6.2 14.4.2-10.6.2 5.8.1 3.9.2.9.2 1 .2 0 .2-3.9.1-.9.2-4.9.2 11.6.2-15.4.2 13.5.2-9.7.1 0 .2 2 .2-2.9.2 10.6.2-13.5.1 3.8.2 4.9.2 2.9.2-1 .2-4.8.2 3.8.1-8.6.2-2 .2 5.8.2-1.9.2 6.7.1-12.5.2 8.7.2 2.9.2-5.8.2-2.9.2 12.5.1-12.5.2 0 .2 3.8.2 5.8.2-1.9.1 7.7.2-9.6.2 2.9.2-5.8.2-1 .2-.9.1 11.5.2-11.5.2-2 .2 10.6.2-1.9.1-4.8.2 15.4.2-17.3.2 6.7.2-3.9.1 5.8.2-12.5.2 5.8.2 11.5.2-6.7.2-1.9.1-4.8.2 7.7.2-6.8.2 10.6.2-6.7.1-2 .2 2 .2 0 .2 12.5.2-8.7.2 2.9.1-1.9.2-11.6.2 2.9.2 6.8.2-4.9.1-1.9.2 5.8.2-1.9.2 3.8.2 4.8.2-3.8.1-15.4.2 10.6.2 6.7.2-7.7.2-12.5.1 11.5.2 7.8.2 1.9.2-8.7.2 2.9.1 0 .2 3.9.2-3.9.2-2.9.2-2.9.2-3.8.1 1.9.2 9.6.2 2 .2-2 .2 1 .1-4.8.2 2.9.2 1.9.2-8.7.2 5.8.2 1.9.1-3.8.2-2.9.2 9.6.2-8.7.2 9.7.1-9.7.2 0 .2 1 .2-4.8.2 16.4.2-14.5.1 7.7.2-3.8.2 7.7.2-1.9.2-11.6.1 2.9.2 4.8.2 1.9.2-6.7.2 4.8.2-4.8.1 2.9.2 4.8.2-5.8.2 4.8.2 2 .1-1 .2-10.6.2 8.7.2 0 .2.9.1 2 .2-3.9.2-7.7.2 7.7.2 0 .2-2.9.1 5.8.2 0 .2-11.6.2 6.8.2-3.9.1-1.9.2 9.6.2-3.8.2 4.8.2-1.9.2-9.7.1 14.5.2-4.8.2-1 .2 5.8.2-8.7.1-11.5.2 12.5.2-1 .2 0 .2 3.9.2-10.6.1 2.9.2 2.8.2-.9.2-3.9.2 8.7.1 1 .2 1.9.2-5.8.2 1 .2-2.9.1 5.8.2-1 .2-9.6.2 10.6.2 2.9.2 0 .1.9.2-4.8.2 0 .2-5.8.2 9.7.1-7.8.2 6.8.2-13.5.2 18.3.2-9.6.2 1.9.1-14.4.2 14.4.2-4.8.2 1.9.2 6.8.1-5.8.2 3.8.2-.9.2 4.8.2-8.7.2 1 .1 3.8.2-7.7.2-4.8.2 8.7.2-5.8.1 2.9.2 13.5.2-5.8.2-1.9.2 4.8.2-8.7.1-7.7.2 8.7.2-10.6.2 13.5.2-11.6.1 8.7.2 0 .2-8.7.2 5.8.2 1.9.1-5.8.2 9.7.2-7.7.2 2.8.2 8.7.2-12.5.1 2.9.2-7.7.2 13.5.2-1 .2-6.7.1 7.7.2 6.7.2-9.6.2-3.9.2 13.5.2-13.5.1 1.9.2 7.8.2-9.7.2 3.9.2 8.6.1-11.5.2 8.7.2-11.6.2 9.6.2 4.8.2-11.5.1 4.8.2 1 .2-7.7.2 9.6.2-10.6.1 8.7.2-9.7.2 5.8.2 7.7.2-8.7.2 8.7.1-7.7.2 3.9.2 0 .2-7.7.2 13.4.1-15.4.2 4.8.2 4.9.2-4.9.2-.9.1-12.5.2 19.2.2 3.9.2-8.7.2 5.8.2-7.7.1 8.7.2.9.2-6.7.2 2.9.2 3.8.1-15.4.2-3.8.2 7.7.2 0 .2 7.7.2-1 .1 1 .2-4.9.2 1 .2 3.9.2-1 .1-4.8.2 9.6.2-11.5.2 1.9.2 12.5.2-6.7.1-6.8.2 3.9.2-2.9.2 8.7.2-2 .1-7.7.2 13.5.2-10.6.2 6.8.2-2.9.1 7.7.2-2.9.2-14.5.2 1 .2 4.8.2-2.9.1-.9.2 6.7.2-4.8.2 8.7.2-2.9.1-2.9.2-6.8.2 9.7.2 10.6.2.9.2-12.5.1-8.7.2 13.5.2-4.8.2 6.7.2-6.7.1 1.9.2 3.9.2-2.9.2-5.8.2 4.8.2 6.8.1-18.3.2 12.5.2 3.8.2-9.6.2 5.8.1-1.9.2 2.9.2-9.7.2 7.7.2-4.8.2 4.8.1-3.8.2 4.8.2-9.6.2 7.7.2-2.9.1-4.8.2 3.8.2-3.8.2 9.6.2 0 .1 0 .2 0 .2-4.8.2 0 .2-2 .2 3.9.1 4.8.2-1.9.2-18.3.2 18.3.2 1 .1.9.2-2.9.2-1.9.2-4.8.2 4.8.2 1.9.1-7.7.2 1.9.2 4.9.2-3.9.2-1 .1 1 .2-7.7.2 18.3.2-1.9.2 8.6.2-26.9.1 18.3.2-8.7.2 2.9.2-4.8.2 0 .1 7.7.2-5.8.2 3.9.2 1.9.2-9.6.1 11.5.2-14.4.2 2.9.2 0 .2 4.8.2-5.8.1 9.6.2 2 .2-2.9.2 9.6.2-5.8.1-2.9.2-7.7.2 3.9.2-3.9.2 7.7.2-3.8.1-1 .2-4.8.2 4.8.2 10.6.2-2.9.1-2.9.2-4.8.2 2.9.2-9.6.2 1.9.2 14.4.1-9.6.2 7.7.2-1.9.2 1 .2-2 .1 2.9.2-12.5.2 12.5.2-3.8.2 3.8.2-15.4.1 6.7.2 5.8.2-6.7.2 0 .2 1.9.1 3.9.2 4.8.2-9.7.2 5.8.2 2 .1-2 .2 0 .2 9.7.2-1 .2-23.1.2 5.8.1 6.7.2-1.9.2 9.6.2-5.8.2-4.8.1 0 .2 1 .2 7.7.2-3.9.2-.9.2.9.1 4.8.2-3.8.2-1.9.2-1 .2 7.7.1-17.3.2-1 .2 5.8.2 0 .2 1.9.2-1 .1 10.6.2 0 .2-19.2.2 12.5.2-5.8.1 0 .2 12.5.2-4.8.2 4.8.2-9.6.1 5.8.2-7.7.2 4.8.2-8.7.2 9.7.2-1 .1 1 .2-13.5.2 10.6.2-6.8.2 10.6.1 2.9.2 2.9.2-11.6.2-8.6.2 7.7.2-1.9.1 13.4.2 2 .2-6.8.2 2 .2-2.9.1-6.8.2 1 .2-2.9.2 10.6.2-8.7.2 6.8.1-2.9.2-1 .2 1 .2-1 .2 0 .1 5.8.2 0 .2-5.8.2 4.8.2 2 .2 2.8.1-4.8.2-3.8.2 1.9.2 1.9.2-8.6.1 9.6.2 4.8.2-3.8.2-9.7.2 0 .1 5.8.2 1 .2 5.7.2-4.8.2 6.8.2-14.5.1 2.9.2 5.8.2-2.9.2-8.7.2 9.7.1-4.9.2-.9.2.9.2 4.9.2 4.8.2-23.1.1 19.2.2 2 .2-11.6.2 10.6.2 0 .1-1.9.2-5.8.2-3.9.2 5.8.2-5.8.2 2.9.1 9.7.2 2.8.2-10.6.2-2.8.2 14.4.1-7.7.2-8.7.2 14.5.2 2.9.2-7.7.2-3.9.1-1.9.2 11.5.2-1.9.2-8.7.2 6.8.1-2.9.2-3.9.2 5.8.2 1 .2 1 .1-5.8.2 1.9.2-16.4.2 11.6.2-1 .2 2.9.1-2.9.2 6.8.2.9.2 1 .2-12.5.1 9.6.2 1.9.2-7.7.2 1.9.2 1 .2-5.8.1 4.8.2-4.8.2 6.8.2-1 .2-11.5.1 10.5.2 9.7.2-3.9.2 4.8.2-19.2.2 17.3.1-6.7.2 0 .2 8.6.2-12.5.2 11.6.1 0 .2-7.7.2 6.7.2-4.8.2 1.9.1-1.9.2 1.9.2-4.8.2 6.8.2-5.8.2-1 .1 10.6.2-2.9.2-2.9.2 4.8.2-13.4.1 8.6.2-1.9.2 0 .2-1.9.2-6.8.2 12.6.1-3.9.2 5.8.2-1 .2-7.7.2-3.8.1 7.7.2 0 .2 5.7.2-14.4.2 9.6.2 5.8.1-4.8.2-1 .2-10.6.2 4.8.2 0 .1 4.9.2-2.9.2-2 .2 3.9.2-1.9.2-2.9.1 1.9.2-5.8.2 14.5.2 1.9.2-12.5.1 8.7.2-2 .2-4.8.2 0 .2 6.8.1-7.8.2 6.8.2-5.8.2 2.9.2 2.9.2-6.8.1 5.8.2 4.8.2-4.8.2 0 .2 2.9.1 1 .2-10.6.2 0 .2-8.7.2 16.4.2 2.9.1-10.6.2 7.7.2-1.9.2 0 .2 4.8.1-12.5.2-2 .2 6.8.2 0 .2 9.6.2-1.9.1-8.7.2-1.9.2-2.9.2 12.5.2-6.7.1 0 .2 6.7.2-2.9.2 3.9.2-1 .1 0 .2-14.4.2 6.7.2 4.8.2-1.9.2 2.9.1-5.8.2 2.9.2 4.8.2-10.6.2 7.7.1-6.7.2-2.9.2 11.6.2-13.5.2 9.6.2-7.7.1 9.6.2-11.5.2 14.4.2-8.7.2 5.8.1 0 .2-3.8.2 0 .2 5.8.2-2 .2-1.9.1 1 .2 0 .2 7.7.2-1 .2-9.6.1 4.8.2-5.8.2 1 .2-4.8.2 10.6.2.9.1-6.7.2-8.7.2 5.8.2 1.9.2 5.8.1 2.9.2 0 .2-12.5.2 10.6.2-9.7.1 11.6.2 1.9.2-17.3.2 2.9.2 7.7.2-3.9.1-5.8.2 4.8.2-.9.2 4.8.2-3.9.1 3.9.2 1 .2-4.9.2 5.8.2-8.6.2-1 .1 4.8.2 0 .2 2.9.2 1 .2 0 .1 2.9.2.9.2-3.8.2-6.8.2 5.8.2-7.7.1 11.6.2-5.8.2 0 .2 9.6.2-14.4.1 4.8.2 3.8.2 2.9.2-10.6.2 7.7.1-8.6.2 6.7.2-2.9.2-5.8.2 6.8.2-8.7.1 8.7.2 1.9.2-7.7.2 12.5.2-7.7.1 10.6.2-11.6.2-.9.2 15.4.2-18.3.2 5.8.1-1 .2 4.8.2 4.8.2-8.6.2 14.4.1-21.2.2 11.6.2 0 .2-6.8.2 7.8.2-2 .1 8.7.2-14.5.2 8.7.2-6.7.2-6.8.1 3.9.2 1.9.2-2.9.2 7.7.2 0 .2-4.8.1-5.8.2 3.9.2 8.7.2-2.9.2-4.9.1 3.9.2 3.9.2-14.5.2 8.7.2 1.9.1 0 .2-5.8.2 7.7.2-3.8.2 0 .2 4.8.1-6.8.2 6.8.2-1.9.2-2.9.2 3.8.1 0 .2-10.6.2 10.6.2-7.7.2 12.5.2-9.6.1 1 .2 1.9.2 3.9.2-3.9.2-5.8.1 8.7.2 2.9.2-7.7.2 1.9.2 4.8.2-10.6.1 5.8.2 6.7.2-12.5.2 2.9.2-1 .1 0 .2 1 .2-1 .2 5.8.2 0 .1-1.9.2 2.9.2-2.9.2-2.9.2 7.7.2-10.6.1 3.9.2 6.7.2-6.7.2 2.9.2-4.9.1 7.8.2-3.9.2-2.9.2 0 .2-1.9.2 1.9.1-1.9.2-1.9.2 12.5.2-3.9.2-1.9.1-3.9.2-.9.2 6.7.2-7.7.2 7.7.2 2 .1-3.9.2 5.8.2-7.7.2-2 .2 7.8.1-6.8.2 3.9.2.9.2 2 .2-2.9.2-2.9.1 0 .2 5.8.2-3.9.2 1.9.2 2 .1-7.8.2 6.8.2 0 .2-7.7.2-1 .1 0 .2 18.3.2-14.4.2-3.9.2 2.9.2 4.8.1-10.6.2 10.6.2-9.6.2 8.7.2-4.9.1 9.7.2-9.7.2-.9.2 0 .2 7.7.2 0 .1-8.7.2 12.5.2 2 .2-8.7.2 4.8.1-7.7.2-1 .2-4.8.2 11.6.2-5.8.2 4.8.1 2 .2-5.8.2 0 .2 1.9.2-3.9.1 16.4.2-9.6.2-4.8.2 0 .2-3.9.2 13.5.1-7.7.2-14.4.2 14.4.2 3.9.2-9.7.1 7.7.2-4.8.2 5.8.2-2.9.2 2.9.1-4.8.2 8.6.2-3.8.2-11.6.2 4.8.2-2.8.1 8.6.2-1.9.2 2.9.2-8.7.2-.9.1-2 .2 4.8.2 2 .2 6.7.2-14.4.2 10.6.1-7.7.2 7.7.2-6.8.2 7.7.2 0 .1 2 .2-3.9.2 1 .2 3.8.2-4.8.2 0 .1 0 .2-12.5.2 9.6.2-1.9.2 1.9.1 5.8.2-7.7.2 10.6.2-13.5.2-1 .1 4.8.2-5.7.2 15.4.2-4.8.2 1.9.2 1 .1-6.8.2 2.9.2 1 .2-1 .2 3.9.1.9.2-10.6.2 13.5.2-10.6.2 3.9.2-3.9.1 0 .2 1 .2-1 .2-1 .2-3.8.1 11.6.2.9.2 1 .2-2.9.2-16.4.2 16.4.1-10.6.2 8.7.2 2.9.2-11.6.2 7.7.1 1.9.2-3.8.2-2.9.2-2.9.2 15.4.2-6.7.1 2.9.2 3.8.2-15.4.2 1 .2 6.7.1 4.8.2-2.9.2 1 .2-10.6.2 9.6.1-.9.2-13.5.2 7.7.2 15.4.2-17.3.2 8.6.1-3.8.2 1.9.2 11.6.2-6.8.2-7.7.1 3.9.2-5.8.2.9.2 7.8.2-5.8.2 9.6.1-7.7.2 11.6.2-11.6.2 5.8.2-7.7.1 0 .2 3.8.2 2 .2-3.9.2 4.8.2-2.9.1 2 .2.9"/>
<text class="tk" clip-path="url(#c10)" x="-19.73 0.59" transform="translate(247.00 377.40) scale(0.930 1)">10</text>
<text class="tk" x="-20.81 0.59" transform="translate(392.30 377.40) scale(0.930 1)">20</text>
<text class="tk" x="-20.81 0.59" transform="translate(537.59 377.40) scale(0.930 1)">30</text>
<text class="tk" x="-20.81 0.59" transform="translate(682.88 377.40) scale(0.930 1)">40</text>
<text class="tk" x="-20.81 0.59" transform="translate(828.16 377.40) scale(0.930 1)">50</text>
<text class="tk" x="-20.81 0.59" transform="translate(973.46 377.40) scale(0.930 1)">60</text>
<text class="tk" x="-20.81 0.59" transform="translate(1118.74 377.40) scale(0.930 1)">70</text>
<text class="tk" x="-20.81 0.59" transform="translate(1264.03 377.40) scale(0.930 1)">80</text>
<text class="tk" x="-20.81 0.59" transform="translate(1409.32 377.40) scale(0.930 1)">90</text>
<text class="tk" clip-path="url(#c100m)" x="-31.02 -10.56 10.57" transform="translate(1554.61 377.40) scale(0.930 1)">100</text>
<text class="tk" x="-21.40" transform="translate(161.55 346.40) scale(0.930 1)">0</text>
<text class="tk" clip-path="url(#c100e)" x="-63.55 -42.80 -21.40" transform="translate(161.55 250.10) scale(0.930 1)">100</text>
<text class="tk" x="-64.19 -42.80 -21.40" transform="translate(161.55 153.80) scale(0.930 1)">200</text>
<text class="tk" x="-64.19 -42.80 -21.40" transform="translate(161.55 57.50) scale(0.930 1)">300</text>
<text class="lb" font-weight="bold" font-size="33.0px" transform="translate(1491.95 276) scale(0.943 1)">C<tspan font-weight="normal" font-size="30.0px" x="24.92" y="0">)</tspan></text>
</g>
<g id="panel-B">
<path class="t" d="M247.00 692.10V680.30M247.00 403.20V415.00M319.65 692.10V685.60M319.65 403.20V409.70M392.30 692.10V680.30M392.30 403.20V415.00M464.94 692.10V685.60M464.94 403.20V409.70M537.59 692.10V680.30M537.59 403.20V415.00M610.23 692.10V685.60M610.23 403.20V409.70M682.88 692.10V680.30M682.88 403.20V415.00M755.52 692.10V685.60M755.52 403.20V409.70M828.16 692.10V680.30M828.16 403.20V415.00M900.81 692.10V685.60M900.81 403.20V409.70M973.46 692.10V680.30M973.46 403.20V415.00M1046.10 692.10V685.60M1046.10 403.20V409.70M1118.74 692.10V680.30M1118.74 403.20V415.00M1191.39 692.10V685.60M1191.39 403.20V409.70M1264.03 692.10V680.30M1264.03 403.20V415.00M1336.68 692.10V685.60M1336.68 403.20V409.70M1409.32 692.10V680.30M1409.32 403.20V415.00M1481.97 692.10V685.60M1481.97 403.20V409.70M174.10 619.88H180.60M174.10 547.65H185.90M174.10 475.42H180.60"/>
<rect class="fr" x="174.10" y="403.20" width="1380.20" height="288.90"/>
<path class="d" stroke="#ff0000" d="M174.4 575.1l.1-20.2.2-20.3.2-4.3.2 1.5.2 30.3.1-11.6.2 5.8.2-17.3.2 10.1.2 11.6.2 0 .1 0 .2-8.7.2-20.2.2-11.6.2 23.1.1 40.5.2-28.9.2 1.4.2-18.8.2 0 .2 5.8.1 23.1.2-26 .2 50.6.2-28.9.2-7.2.1 1.4.2 7.2.2-14.4.2 27.4.2-23.1.2 21.7.1-20.2.2-15.9.2 27.4.2-4.3.2 14.4.1 5.8.2-27.4.2 0 .2 11.5.2 4.4.2 11.5.1-13 .2-17.3.2 7.2.2 28.9.2-34.7.1 1.5.2 11.5.2 1.5.2-8.7.2 26 .1-8.7.2 1.5.2-4.3.2 7.2.2 10.1.2-13 .1-13 .2-20.2.2 30.3.2 13 .2-26 .1-11.6.2 8.7.2 8.7.2 33.2.2-53.5.2 43.4.1-10.1.2 10.1.2-5.8.2-1.4.2 0 .1-20.3.2 2.9.2 17.4.2 11.5.2-34.6.2 1.4.1 20.2.2-13 .2-33.2.2 66.4.2-37.5.1 31.8.2 7.2.2-47.7.2 24.6.2 0 .1 23.1.2-34.7.2-4.3.2 0 .2 2.9.2 14.4.1-1.4.2 2.9.2 0 .2 4.3.2 18.8.1-13 .2-24.6.2 4.4.2 1.4.2-5.8.2 34.7.1-13 .2-2.9.2-13 .2 4.3.2 14.5.1-11.6.2 1.5.2-2.9.2-1.5.2 2.9.2 1.5.1 24.5.2 1.5.2-15.9.2 1.4.2-4.3.1 10.1.2-4.3.2-4.4.2 4.4.2-2.9.2-30.4.1 24.6.2 0 .2-10.1.2-8.7.2 24.6.1-13 .2-5.8.2 21.7.2-23.1.2 2.8.1 20.3.2-1.5.2-30.3.2 23.1.2 7.2.2 7.2.1-21.6.2 18.8.2-14.5.2 14.5.2-14.5.1-10.1.2 10.1.2 5.8.2 10.1.2-8.7.2 11.6.1 27.4.2-63.5.2 40.4.2-4.3.2-1.5.1-7.2.2 21.7.2-28.9.2 11.6.2-11.6.2-18.8.1 43.4.2-21.7.2 2.9.2-5.8.2 7.2.1 8.7.2-10.1.2 4.3.2-7.2.2 18.8.2-10.1.1-15.9.2 24.5.2-1.4.2-10.1.2 20.2.1-10.1.2-10.1.2-14.5.2 14.5.2-1.5.1 5.8.2-20.2.2 2.9.2 10.1.2 1.4.2-33.2.1 44.8.2 2.9.2-11.6.2 4.3.2-8.6.1 14.4.2-20.2.2 11.6.2 1.4.2-17.3.2 18.7.1 0 .2-4.3.2 10.1.2 5.8.2-5.8.1-5.8.2-10.1.2 14.5.2-24.6.2 20.2.2 13 .1-1.4.2-18.8.2 18.8.2-11.6.2 1.5.1-7.2.2-1.5.2 14.5.2-11.6.2 5.8.1-10.1.2 7.2.2-7.2.2 8.6.2 10.2.2 13 .1-21.7.2-4.3.2-2.9.2 2.9.2-2.9.1 13 .2-1.5.2-4.3.2 7.2.2 1.5.2-14.5.1 5.8.2-8.7.2 24.6.2-24.6.2-10.1.1 21.7.2 10.1.2-21.7.2 17.4.2-14.5.2 13 .1 2.9.2 8.7.2-10.1.2-26 .2 4.3.1 15.9.2-4.4.2 10.2.2-1.5.2-7.2.2 5.8.1 8.6.2-15.9.2 5.8.2 5.8.2-13 .1 10.1.2 2.9.2 13 .2-27.4.2 0 .1 23.1.2-5.8.2-20.2.2 21.6.2-7.2.2 2.9.1-5.8.2 5.8.2 1.4.2-14.4.2 14.4.1 2.9.2-4.3.2 2.9.2-4.3.2-11.6.2 23.1.1 21.7.2-15.9.2-13 .2 10.1.2-17.3.1 0 .2 18.7.2-15.8.2 13 .2-5.8.2-7.2.1-4.4.2 23.1.2-13 .2-10.1.2 17.4.1-11.6.2-5.8.2 8.7.2 0 .2 5.8.1-18.8.2 20.2.2-15.9.2-5.8.2 21.7.2-4.3.1-5.8.2 8.7.2-11.6.2 11.6.2-27.5.1 24.6.2 2.9.2-20.3.2-10.1.2 36.1.2-4.3.1 4.3.2 2.9.2 5.8.2-21.7.2 13 .1-20.2.2 0 .2-4.3.2 7.2.2 0 .2 1.5.1 36.1.2-52 .2 26 .2 2.9.2-10.2.1 0 .2 10.2.2-7.3.2 1.5.2-5.8.2 4.3.1 21.7.2-10.1.2-17.3.2-8.7.2 27.4.1 1.5.2-8.7.2 8.7.2-17.4.2 2.9.1-2.9.2 7.3.2 27.4.2-18.8.2-8.6.2 0 .1-13 .2 5.7.2-31.7.2 31.7.2 11.6.1-4.3.2-13 .2 8.6.2 5.8.2-4.3.2-2.9.1 24.5.2-24.5.2 7.2.2-20.2.2 14.4.1-4.3.2 2.9.2 17.3.2 4.4.2-10.2.2-4.3.1 1.5.2-13 .2 1.4.2 4.3.2 5.8.1-15.9.2 0 .2 17.4.2-37.6.2 36.1.1-8.7.2 10.2.2-24.6.2 30.3.2 5.8.2-5.8.1-27.4.2 40.4.2-24.5.2-8.7.2 1.5.1 1.4.2 5.8.2 8.6.2-37.5.2 17.3.2 11.6.1-4.4.2 10.2.2 7.2.2-21.7.2 8.7.1 27.4.2-14.4.2-10.1.2 1.4.2-15.9.2 14.5.1-4.4.2-4.3.2 14.4.2-10.1.2 0 .1 26 .2-13 .2-28.9.2 39 .2-15.8.2 13 .1-24.6.2-1.4.2 28.8.2-8.6.2-4.4.1 18.8.2-23.1.2 7.2.2-7.2.2 0 .1 10.1.2-24.5.2 31.7.2-13 .2-5.7.2 15.9.1 13 .2-24.6.2-17.3.2 20.2.2-15.9.1-1.4.2 17.3.2-5.8.2 7.2.2 2.9.2-20.2.1 14.4.2-10.1.2 13 .2-13 .2 15.9.1 10.1.2 1.5.2-17.4.2 8.7.2-11.5.2 8.6.1-4.3.2 13 .2-2.9.2-5.8.2-14.4.1 31.8.2-21.7.2-4.3.2-7.3.2 8.7.2 11.6.1-1.5.2 5.8.2-27.5.2 34.7.2-21.7.1 0 .2 15.9.2-33.2.2 26 .2-13 .1 0 .2 1.5.2 1.4.2 1.4.2-1.4.2-13 .1 26 .2 0 .2-8.7.2 0 .2 2.9.1-8.6.2 1.4.2-4.3.2 11.5.2 5.8.2 2.9.1 0 .2 1.4.2-18.7.2 5.7.2-1.4.1-4.3.2 5.7.2 20.3.2-7.3.2-11.5.2-4.4.1 8.7.2 11.6.2-20.3.2 14.5.2-1.5.1-2.8.2-15.9.2 14.4.2 14.5.2-13 .1-7.3.2 2.9.2-7.2.2 13 .2-17.3.2 26 .1-8.7.2-11.6.2 11.6.2 1.4.2 8.7.1-5.8.2-15.9.2 4.4.2 0 .2-2.9.2 8.7.1 11.5.2-18.8.2 31.8.2-26 .2-10.1.1-1.4.2 8.6.2 14.5.2-24.6.2 15.9.2 0 .1 5.8.2-4.4.2 7.3.2-1.5.2 15.9.1-20.2.2-8.7.2 0 .2 26 .2-20.2.2-5.8.1 14.5.2-10.1.2 5.7.2-17.3.2 11.6.1 2.8.2-7.2.2 10.1.2-11.5.2 18.8.1-33.3.2 7.3.2 21.6.2-8.6.2 4.3.2 2.9.1-11.6.2 4.4.2-5.8.2 1.4.2 14.5.1-21.7.2 15.9.2 5.8.2-8.7.2 11.6.2 2.8.1-8.6.2-28.9.2 39 .2-27.5.2 8.7.1 7.2.2 0 .2-1.4.2-18.8.2 27.5.2 4.3.1-7.2.2-1.5.2-13 .2 14.5.2-8.7.1 14.4.2-11.5.2 1.4.2 7.3.2-8.7.1-1.5.2-13 .2 18.8.2-13 .2 5.8.2-2.9.1 7.2.2 1.5.2 10.1.2-1.5.2-15.8.1 0 .2 17.3.2-10.1.2-4.4.2 0 .2 2.9.1-20.2.2 23.1.2 7.2.2-4.3.2-2.9.1-2.9.2-11.5.2 15.9.2-14.5.2-10.1.2 20.2.1 15.9.2-11.5.2 5.7.2-8.6.2 5.8.1-5.8.2 1.4.2 7.2.2-14.4.2 4.3.2 7.3.1-2.9.2-1.5.2-7.2.2 1.4.2 13 .1 0 .2-20.2.2 7.2.2-1.4.2 17.3.1-13 .2 0 .2-4.3.2 15.9.2-5.8.2 7.2.1-18.7.2 4.3.2-14.5.2 0 .2 17.4.1 4.3.2 11.6.2-2.9.2-15.9.2 4.3.2-13 .1-7.2.2 17.3.2 18.8.2-24.5.2 15.8.1-23.1.2 30.4.2-18.8.2-8.7.2 10.1.2 0 .1-2.9.2 4.4.2-1.5.2 2.9.2-4.3.1 11.5.2-24.5.2 10.1.2 7.2.2-5.8.1-1.4.2 1.4.2 23.2.2-27.5.2 2.9.2 1.4.1 14.5.2-21.7.2 8.7.2 18.8.2-10.1.1-2.9.2-10.1.2-1.5.2 1.5.2 7.2.2-18.8.1-1.4.2 30.3.2-13 .2 2.9.2 4.3.1-11.5.2 10.1.2-5.8.2-1.5.2 7.3.2-17.4.1 14.5.2 10.1.2-26 .2 21.7.2-13 .1 26 .2-31.8.2 4.3.2 18.8.2-7.2.2-4.4.1 17.4.2 0 .2-4.4.2 0 .2-7.2.1 8.7.2-7.2.2-18.8.2 10.1.2 4.3.1 2.9.2-4.3.2-2.9.2 13 .2-15.9.2 1.4.1-4.3.2 8.7.2 5.8.2-8.7.2-5.8.1 8.7.2-1.5.2 4.4.2-7.3.2 13 .2-14.4.1-5.8.2 0 .2 14.5.2-5.8.2 0 .1 1.4.2 11.6.2-17.3.2 5.7.2-11.5.2 21.6.1-5.7.2-7.3.2 0 .2 10.2.2 0 .1-7.3.2-10.1.2 4.4.2 8.6.2-2.9.2 1.5.1-7.2.2-7.3.2 10.1.2 14.5.2-15.9.1-7.2.2 17.3.2-10.1.2 8.7.2-20.3.1 18.8.2-7.2.2 17.3.2-18.7.2-15.9.2 11.5.1 20.2.2-30.3.2 7.2.2 1.5.2 17.3.1-13 .2 17.3.2 1.5.2-7.2.2-10.1.2 4.3.1-2.9.2 7.2.2-10.1.2-14.4.2 37.5.1-36.1.2 21.7.2 14.4.2-31.8.2-4.3.2 18.8.1-1.5.2 10.2.2-11.6.2 15.9.2-1.5.1-13 .2 0 .2-17.3.2 18.8.2-1.5.1 10.2.2-27.5.2 10.1.2 24.6.2 7.2.2-15.9.1 4.3.2-5.7.2-21.7.2 14.4.2-8.6.1 7.2.2 0 .2-2.9.2 1.5.2 2.8.2 7.3.1-17.4.2 18.8.2-2.9.2-10.1.2-18.8.1 10.1.2 10.2.2 5.7.2-14.4.2 4.3.2 14.5.1-26 .2 11.5.2 5.8.2-1.4.2 1.4.1 8.7.2 10.1.2-17.4.2 4.4.2 10.1.2-39 .1 1.4.2 15.9.2-4.3.2-1.5.2 20.3.1-11.6.2-2.9.2 2.9.2 1.5.2-7.3.1 18.8.2-10.1.2-5.8.2 4.4.2-5.8.2-7.2.1 39 .2-27.5.2 2.9.2-11.6.2 8.7.1-4.3.2-20.2.2 13 .2 14.4.2-10.1.2 24.5.1-14.4.2-14.4.2 5.7.2-1.4.2 7.2.1-10.1.2 14.4.2-4.3.2-10.1.2 11.6.2-13 .1-2.9.2 14.4.2-7.2.2 13 .2-17.3.1 15.8.2-18.7.2-5.8.2 28.9.2-27.5.1 24.6.2-2.9.2-7.2.2 5.8.2-23.2.2 8.7.1 5.8.2 10.1.2-2.9.2-5.8.2-7.2.1-4.3.2-8.7.2 8.7.2-8.7.2 17.3.2-5.7.1 8.6.2-11.5.2 11.5.2-4.3.2-8.7.1 18.8.2-14.4.2 4.3.2 15.9.2 1.4.2-18.7.1 1.4.2-1.4.2-10.2.2 4.4.2 0 .1 5.8.2 2.8.2-5.7.2 10.1.2-13 .2 8.6.1 2.9.2-24.5.2 23.1.2-7.2.2-2.9.1-15.9.2 18.8.2 23.1.2-18.8.2 13 .1-8.7.2-4.3.2-1.4.2-2.9.2-4.4.2-7.2.1 18.8.2 4.3.2-7.2.2-4.3.2 2.9.1-5.8.2 26 .2-27.5.2 26 .2-28.9.2 7.3.1 2.9.2 1.4.2 7.2.2 2.9.2-10.1.1-1.4.2 2.8.2 11.6.2-7.2.2-7.2.2-14.5.1 13 .2-13 .2 20.2.2-2.9.2-15.8.1-4.4.2 11.6.2 0 .2 11.5.2 11.6.1-27.5.2 1.5.2-15.9.2 26 .2-18.8.2 4.4.1 14.4.2-14.4.2 20.2.2-24.6.2 15.9.1-13 .2 7.2.2 8.7.2-15.9.2 27.5.2-18.8.1-4.4.2-1.4.2-18.8.2 13 .2 7.2.1 11.6.2 0 .2-14.4.2 15.8.2-17.3.2-10.1.1 23.1.2-4.3.2 5.8.2-11.6.2-10.1.1 30.3.2-21.6.2 1.4.2 4.3.2 8.7.2 1.4.1-11.5.2-4.3.2-13 .2 10.1.2-2.9.1-4.4.2 5.8.2 7.2.2 11.6.2-4.3.1-18.8.2 30.3.2-2.9.2-34.6.2-10.1.2 33.2.1-17.4.2 20.3.2 4.3.2-7.2.2 0 .1-15.9.2 27.4.2-21.6.2-2.9.2-13 .2 36.1.1-5.8.2-1.4.2-20.3.2-8.6.2 33.2.1-10.1.2 7.2.2-36.1.2 11.6.2 8.6.2-5.8.1 8.7.2-1.4.2-11.6.2-13 .2 24.6.1-13 .2 17.3.2 1.4.2 4.4.2-17.4.1-4.3.2 13 .2 7.2.2-7.2.2-8.7.2 5.8.1 10.1.2-21.6.2 17.3.2-17.3.2 0 .1 2.9.2 13 .2 2.8.2-14.4.2-7.2.2 1.4.1 20.2.2-30.3.2 27.5.2-8.7.2 5.8.1 13 .2-34.7.2 20.2.2-14.4.2 15.9.2 8.6.1-17.3.2-2.9.2 18.8.2-49.1.2 39 .1-8.7.2 24.6.2-15.9.2-20.2.2 17.3.2 11.5.1-7.2.2-8.6.2 14.4.2-17.3.2-8.7.1 21.7.2-11.6.2 5.8.2-1.5.2 14.5.1-39 .2 33.2.2 1.5.2-17.4.2-10.1.2-1.4.1 18.7.2 8.7.2-4.3.2-4.4.2-5.7.1 1.4.2-4.3.2 10.1.2 0 .2 5.8.2-8.7.1 13 .2 2.9.2-18.8.2-1.4.2-1.5.1 4.4.2 8.6.2-23.1.2 14.5.2-7.3.2-5.7.1 1.4.2 13 .2-1.4.2-26 .2 18.7.1 0 .2 2.9.2 8.7.2-17.3.2 4.3.2 5.8.1-5.8.2 2.9.2 4.3.2-4.3.2-1.5.1 2.9.2 18.8.2-7.2.2-21.7.2 23.1.1-13 .2 20.2.2-20.2.2-8.6.2-8.7.2 8.7.1 33.2.2-33.2.2-8.7.2 23.1.2 2.9.1 23.1.2-17.3.2-15.9.2-10.1.2-13 .2 27.4.1-10.1.2-1.4.2-7.3.2 17.4.2-8.7.1-4.3.2 30.3.2-30.3.2 20.2.2-4.3.2-23.2.1 31.8.2-26 .2 17.4.2 15.8.2-15.8.1-8.7.2-2.9.2 13 .2-33.2.2 14.4.1 13 .2-8.6.2-10.2.2 1.5.2-4.3.2 13 .1 7.2.2 13 .2-14.5.2-15.9.2 1.5.1 23.1.2-14.4.2 8.6.2-28.9.2 20.3.2 1.4.1 14.4.2-10.1.2-1.4.2-13 .2 23.1.1-14.4.2 11.5.2-27.4.2 11.5.2-8.6.2 13 .1-21.7.2 11.5.2 11.6.2 5.8.2-23.1.1 10.1.2 1.4.2-14.4.2 17.3.2-18.8.2 17.4.1-2.9.2-26 .2 41.9.2-8.7.2-11.6.1 23.2.2-15.9.2-23.1.2 17.3.2 26 .1-27.5.2 0 .2-11.5.2 39 .2-15.9.2-24.6.1 53.5.2-18.8.2-37.5.2 20.2.2-15.9.1 8.7.2-14.5.2 0 .2 0 .2 33.2.2 0 .1-10.1.2 2.9.2-44.8.2 41.9.2-7.2.1-11.6.2 2.9.2 30.4.2-20.3.2-26 .2 24.6.1-14.4.2 34.6.2-21.6.2 4.3.2 13 .1-2.9.2-1.4.2-15.9.2-2.9.2 33.2.1-50.6.2 41.9.2-4.3.2-10.1.2 7.2.2 15.9.1-36.1.2 4.3.2 0 .2 8.7.2-10.1.1-2.9.2-17.4.2 33.3.2 1.4.2-28.9.2 47.7.1-23.1.2-8.7.2-4.3.2-13 .2 31.8.1 0 .2-7.3.2 4.4.2-13 .2-11.6.2 11.6.1 24.5.2-44.8.2 34.7.2 0 .2-2.9.1-4.3.2-15.9.2 10.1.2 8.7.2-18.8.2 15.9.1-36.1.2 43.3.2-2.9.2-26 .2 5.8.1-5.8.2 13 .2 7.3.2-10.2.2 15.9.1-33.2.2 36.1.2-31.8.2 30.4.2-4.4.2-7.2.1-14.4.2-1.5.2 2.9.2 24.6.2 0 .1-15.9.2 20.2.2-21.7.2 18.8.2-18.8.2-1.4.1-7.2.2 8.6.2-2.8.2-4.4.2 23.1.1-18.7.2 10.1.2-27.5.2 4.3.2 18.8.2 1.5.1 4.3.2-1.4.2 0 .2-8.7.2-2.9.1 20.2.2-39 .2 10.1.2 17.4.2 0 .1 8.6.2 1.5.2-24.6.2-15.9.2 33.3.2-17.4.1-7.2.2 37.6.2-18.8.2 17.3.2-11.5.1 8.6.2-14.4.2-10.1.2 23.1.2-21.7.2 5.8.1 4.3.2-13 .2-4.3.2 18.8.2-24.6.1 15.9.2 0 .2 24.6.2-44.8.2 7.2.2 15.9.1 20.2.2-27.4.2 7.2.2 5.8.2-13 .1 5.8.2 5.7.2 8.7.2 2.9.2-18.8.2-13 .1-7.2.2-2.9.2 23.1.2-28.9.2 57.8.1-24.6.2-26 .2 40.5.2-15.9.2 2.9.1-26 .2 46.2.2 0 .2-20.2.2 1.4.2-13 .1 18.8.2-20.2.2 17.3.2-15.9.2 8.7.1 10.1.2 10.1.2-41.9.2 0 .2 20.3.2-20.3.1 20.3.2 8.6.2-1.4.2-5.8.2-13 .1 30.3.2 4.4.2-34.7.2-15.9.2 28.9.2-11.6.1 44.8.2-24.5.2-10.1.2 7.2.2-2.9.1 1.4.2 4.4.2-15.9.2 4.3.2-4.3.2 27.4.1-36.1.2 31.8.2-8.7.2-8.6.2 7.2.1 8.6.2 20.3.2-15.9.2-15.9.2-20.2.1 11.5.2 21.7.2-18.8.2 5.8.2 21.7.2-34.7.1-11.6.2 30.4.2-8.7.2 10.1.2-5.8.1 1.5.2-17.4.2 14.5.2-10.1.2-14.5.2 20.3.1 0 .2 5.7.2-2.9.2 23.2.2-30.4.1 8.7.2-14.5.2 26 .2 4.4.2-30.4.2 11.6.1-14.5.2 20.3.2-8.7.2-7.2.2 13 .1-31.8.2 21.7.2 27.4.2-14.4.2 7.2.1-7.2.2-2.9.2 13 .2 23.1.2-28.9.2-33.2.1 44.8.2-30.4.2-8.6.2-15.9.2 65 .1-34.7.2 13 .2 2.9.2-44.8.2 47.7.2-21.7.1 7.2.2 4.4.2-18.8.2 41.9.2-24.6.1-15.9.2 46.3.2-46.3.2 8.7.2 20.2.2 5.8.1-26 .2 2.9.2 8.7.2-21.7.2 2.9.1 11.5.2-10.1.2 7.3.2 0 .2 5.7.2-1.4.1-18.8.2 17.3.2 14.5.2-31.8.2-11.6.1 20.3.2 17.3.2-20.2.2 13 .2 4.3.1-5.8.2-24.5.2 39 .2 2.9.2-8.7.2-18.8.1 14.5.2 2.9.2-4.4.2-5.7.2-7.3.1 21.7.2-20.2.2 20.2.2-41.9.2 24.6.2 11.5.1-31.8.2 23.2.2-8.7.2 30.3.2-20.2.1-10.1.2-21.7.2 33.2.2-21.6.2 21.6.2-20.2.1 2.9.2 11.6.2-17.4.2 10.1.2-4.3.1 21.7.2-7.2.2-1.5.2-4.3.2-18.8.1 4.3.2 11.6.2-15.9.2 10.1.2-1.4.2 10.1.1-7.3.2 14.5.2-5.8.2-27.4.2-7.3.1-1.4.2 0 .2 13 .2-14.4.2 13 .2 21.6.1-21.6.2-2.9.2 27.4.2-1.4.2-1.5.1-8.6.2 4.3.2-14.5.2 7.3.2 17.3.2-43.3.1 10.1.2-23.1.2-1.5.2 1.5.2 44.7.1-4.3.2-10.1.2-15.9.2 14.5.2 8.6.2-34.6.1 44.7.2-14.4.2-15.9.2-8.7.2-1.4.1 15.9.2 13 .2-46.2.2 41.8.2-11.5.1-17.3.2 4.3.2 8.7.2 2.8.2 8.7.2-18.8.1 26 .2 4.4.2-20.3.2-5.7.2 18.7.1-15.8.2-4.4.2 7.2.2 30.4.2-43.4.2 1.5.1 26 .2-5.8.2-13 .2 4.3.2-15.8.1-5.8.2 41.9.2 1.4.2-10.1.2-23.1.2 30.3.1-36.1.2 41.9.2-1.4.2-1.5.2 7.2.1 11.6.2-54.9.2 53.5.2-28.9.2 17.3.1 0 .2-30.3.2 20.2.2 1.4.2 8.7.2-21.7.1 13 .2-20.2.2 5.8.2 15.9.2-20.3.1 33.3.2 17.3.2-8.7.2-8.6.2 24.5.2-34.6.1-15.9.2 26 .2 15.9.2-7.3.2-18.7.1 21.6.2-1.4.2 2.9.2-20.3.2 2.9.2 7.3.1-24.6.2 1.4.2 34.7.2-31.8.2 37.6.1-2.9.2 5.8.2-28.9.2 1.4.2-8.6.2 31.8.1 7.2.2-24.6.2 7.2.2 13 .2 7.3.1-18.8.2-4.3.2 15.8.2 10.2.2-13 .1-4.4.2-20.2.2 17.3.2 2.9.2-11.5.2 15.9.1-1.5.2-21.7.2 21.7.2 10.1.2-15.9.1 2.9.2 23.1.2-20.2.2 10.1.2-15.9.2-27.4.1 49.1.2 2.9.2-28.9.2-18.8.2 21.7.1 4.3.2 28.9.2-34.7.2 23.2.2-10.2.2 0 .1 0 .2-11.5.2 7.2.2 7.2.2-18.7.1 27.4.2-1.4.2-18.8.2-8.7.2 7.2.1 28.9.2-41.9.2 8.7.2 7.2.2 0 .2-4.3.1 34.7.2-30.4.2 18.8.2-2.9.2-1.4.1 0 .2-15.9.2 13 .2-17.4.2 8.7.2 2.9.1 2.9.2-10.1.2 15.9.2-21.7.2-1.4.1 8.6.2 1.5.2 26 .2-34.7.2 28.9.2-5.8.1-18.8.2 14.5.2-30.4.2 24.6.2 13 .1-17.3.2 24.5.2-18.8.2 2.9.2-13 .2 18.8.1-15.9.2 5.8.2 2.9.2-8.7.2 14.5.1 0 .2 8.6.2 0 .2-23.1.2 11.6.1-2.9.2 1.4.2 20.3.2-39 .2-1.5.2 26 .1-7.2.2 24.5.2-30.3.2 5.8.2-18.8.1 11.6.2-5.8.2 33.2.2-7.2.2 4.3.2-1.4.1-13 .2-26 .2 21.6.2-10.1.2 11.6.1-1.5.2-13 .2 33.3.2-8.7.2 2.9.2-2.9.1-18.8.2 7.2.2 17.4.2-10.1.2-21.7.1-5.8.2 24.6.2 0 .2-10.1.2 7.2.2-17.3.1 1.4.2 2.9.2-14.5.2 21.7.2 1.5.1-5.8.2 17.3.2-4.3.2-7.2.2-1.5.1 31.8.2-14.5.2-18.7.2-5.8.2 31.8.2-7.3.1-4.3.2 7.2.2-14.4.2-10.1.2-1.5.1 7.3.2 15.8.2 8.7.2-21.7.2-4.3.2 14.5.1-30.4.2 14.5.2 2.9.2 4.3.2 0 .1 0 .2-2.9.2 17.3.2-17.3.2-27.5.2 14.5.1 11.6.2-4.4.2 5.8.2 2.9.2 5.8.1 13 .2-17.4.2-14.4.2-1.5.2 5.8.1-28.9.2 33.3.2-18.8.2-27.5.2 36.1.2 2.9.1-5.7.2-4.4.2-7.2.2 2.9.2 8.7.1 2.8.2 4.4.2 1.4.2-5.8.2 36.2.2-43.4.1 15.9.2-14.4.2 23.1.2-21.7.2 21.7.1-7.2.2-10.2.2 0 .2-2.8.2-2.9.2-13 .1 10.1.2 20.2.2-47.7.2 43.4.2 4.3.1-10.1.2 13 .2-24.6.2 34.7.2-46.2.2-8.7.1-1.4.2 37.5.2-2.9.2-28.9.2 31.8.1-31.8.2 27.5.2-26 .2 1.4.2 28.9.1-11.5.2 8.6.2-43.3.2 10.1.2 33.2.2-13 .1 31.8.2-44.8.2 7.2.2 18.8.2-7.2.1-15.9.2-5.8.2 15.9.2-11.5.2 11.5.2-17.3.1 27.4.2 0 .2-7.2.2-7.2.2 24.6.1-2.9.2 23.1.2-37.6.2 0 .2 7.2.2 15.9.1-2.9.2-8.6.2 18.8.2-39.1.2 1.5.1 11.6.2-17.4.2 21.7.2-17.4.2 17.4.1-2.9.2-17.3.2 1.4.2 27.5.2-17.4.2 33.2.1-27.4.2 14.4.2-15.8.2 17.3.2-18.8.1 23.1.2-8.6.2 1.4.2-8.7.2 0 .2 13 .1-23.1.2 0 .2 13 .2-13 .2-14.4.1 28.9.2-5.8.2 17.3.2 13 .2-14.4.2 10.1.1-37.6.2 11.6.2 11.5.2-13 .2-4.3.1 13 .2-13 .2-4.3.2 18.8.2 5.7.2-2.9.1-1.4.2 0 .2 5.8.2 14.4.2-14.4.1 8.6.2-33.2.2 28.9.2-39 .2 52 .1-8.7.2 10.2.2-23.2.2 15.9.2-20.2.2 5.8.1 11.5.2-17.3.2 18.8.2-26 .2 24.5.1 2.9.2-11.5.2 40.4.2-63.5.2 5.7.2 27.5.1-13 .2 1.4.2-5.7.2 13 .2 2.8.1-2.8.2-2.9.2-2.9.2 14.4.2-15.9.2 26 .1-18.7.2-7.3.2-11.5.2 21.6.2-2.8.1 17.3.2-5.8.2-18.8.2 0 .2 5.8.1 2.9.2 2.9.2-18.8.2 26 .2 0 .2-2.9.1-4.3.2 1.4.2-13 .2 4.4.2 11.5.1-1.4.2 2.9.2-4.4.2-1.4.2-14.5.2 11.6.1-1.4.2 30.3.2-34.7.2 11.6.2 7.2.1 13 .2-11.6.2-4.3.2-4.3.2-7.2.2-8.7.1 13 .2 5.8.2-13 .2-2.9.2 33.2.1-10.1.2-5.8.2 2.9.2 2.9.2-17.3.2 14.4.1-4.3.2-5.8.2 21.7.2-11.6.2 15.9.1-10.1.2-14.5.2 4.4.2-15.9.2 20.2.1 1.4.2 0 .2-4.3.2-4.3.2 14.4.2 0 .1 2.9.2-15.9.2-1.4.2 0 .2 5.8.1-2.9.2 5.7.2 23.2.2-13 .2-14.5.2 17.3.1-20.2.2-2.9.2-14.4.2 14.4.2-10.1.1 30.4.2-18.8.2 7.2.2-5.8.2 2.9.2 5.8.1 7.2.2-18.8.2 4.4.2 15.9.2-20.3.1 14.5.2 15.9.2-31.8.2 13 .2-2.9.2 2.9.1-20.2.2-1.5.2 10.1.2 21.7.2-13 .1-15.9.2 11.6.2-13 .2 33.2.2 7.2.1-30.3.2 4.3.2-21.7.2 34.7.2 1.5.2-24.6.1 5.8.2 13 .2-5.8.2-2.9.2 17.3.1-2.8.2 10.1.2-18.8.2 4.3.2-4.3.2 18.8.1-18.8.2-4.3.2 14.4.2-2.9.2-7.2.1 10.1.2-14.4.2 2.8.2-20.2.2 0 .2 11.6.1 18.8.2-26 .2 31.7.2 1.5.2-21.7.1-10.1.2 18.8.2 20.2.2-17.3.2 0 .1 4.3.2-11.6.2 0 .2 4.4.2 1.4.2-7.2.1 17.3.2-2.9.2 7.3.2-10.1.2-17.4.1 20.2.2-8.6.2-10.1.2 11.5.2 10.1.2-5.7.1-2.9.2-8.7.2 28.9.2-14.5.2-2.8.1-5.8.2 13 .2-8.7.2-1.4.2-8.7.2 2.9.1-2.9.2-1.4.2 28.8.2-21.6.2 17.3.1-15.9.2 10.1.2 14.5.2-24.6.2 1.5.2 0 .1 23.1.2-4.4.2-36.1.2 23.1.2-11.5.1 0 .2 13 .2-5.8.2-4.3.2 4.3.1 4.3.2 7.3.2-10.1.2-2.9.2 2.9.2-5.8.1 10.1.2 7.2.2 1.5.2-10.2.2 1.5.1-8.7.2-8.6.2 8.6.2 14.5.2-26 .2 11.5.1 21.7.2-13 .2 8.7.2 1.4.2-7.2.1 8.6.2-11.5.2-15.9.2 17.3.2 17.4.2-20.3.1 8.7.2-15.9.2 5.8.2-5.8.2 14.5.1-15.9.2 17.3.2-11.5.2-5.8.2 7.2.1 26 .2-11.6.2-8.6.2-20.2.2 7.2.2 13 .1-4.4.2-11.5.2 15.9.2-2.9.2-15.9.1 5.8.2 27.4.2-10.1.2-14.4.2 5.7.2 14.5.1 1.4.2-14.4.2 5.8.2 10.1.2-28.9.1-7.2.2 20.2.2 5.8.2 23.1.2-49.1.2 18.7.1-8.6.2-11.6.2 31.8.2-7.2.2-21.7.1 36.1.2-2.9.2-8.6.2 5.7.2-20.2.2 23.1.1-27.4.2 7.2.2 7.2.2 11.6.2-2.9.1-8.7.2-8.6.2 7.2.2-4.3.2 21.6.1-20.2.2-4.3.2-5.8.2 18.8.2-5.8.2 1.4.1 0 .2-5.7.2 4.3.2-10.1.2 15.9.1-4.4.2-10.1.2 17.4.2-2.9.2 7.2.2 0 .1 4.3.2-5.8.2-10.1.2-15.9.2 20.3.1-8.7.2 2.9.2-1.5.2 18.8.2-30.3.2 21.7.1 0 .2 0 .2-5.8.2 8.6.2-8.6.1 0 .2 13 .2-34.7.2 13 .2 26 .1-27.4.2-2.9.2 7.2.2 17.3.2-4.3.2-18.8.1-20.2.2 41.9.2 8.7.2-24.6.2 13 .1 7.2.2-11.5.2-11.6.2 5.8.2-2.9.2 15.9.1-2.9.2 0 .2-7.2.2 13 .2-23.1.1 13 .2 7.2.2 1.4.2-8.6.2 0 .2-4.4.1 15.9.2-4.3.2-14.5.2-1.4.2 14.4.1-5.7.2 4.3.2-10.1.2 20.2.2 1.5.2-11.6.1 18.8.2-31.8.2-2.9.2 34.7.2-17.4.1-1.4.2-2.9.2-10.1.2 11.6.2 21.6.1-24.5.2-2.9.2-5.8.2 27.4.2-13 .2-8.6.1-1.5.2 7.3.2 23.1.2-17.4.2-7.2.1 18.8.2-5.8.2-5.8.2 0 .2 1.5.2-1.5.1-21.6.2 15.9.2 5.7.2 10.1.2-28.8.1 14.4.2 17.3.2-15.9.2 4.4.2 5.8.2-4.4.1 7.2.2-11.5.2 11.5.2-11.5.2 2.9.1-1.5.2-7.2.2-10.1.2 24.6.2 13 .1-47.7.2 33.2.2-4.3.2-1.5.2 2.9.2-10.1.1 21.7.2-5.8.2-1.4.2-10.2.2 1.5.1-1.5.2 1.5.2-11.6.2 13 .2-5.7.2 11.5.1-17.3.2 24.5.2-21.6.2 10.1.2 13 .1-8.7.2 0 .2-24.5.2 28.8.2-11.5.2-7.2.1 21.6.2-18.7.2-7.3.2 27.5.2-26 .1-2.9.2 31.8.2-18.8.2-10.1.2 11.5.2 17.4.1-8.7.2-8.7.2 10.1.2-24.5.2 21.7.1-10.2.2 20.3.2-10.1.2-14.5.2 17.3.1 0 .2 4.4.2-7.2.2 4.3.2-14.5.2 20.3.1-7.3.2-27.4.2 26 .2 1.4.2 4.4.1-21.7.2 8.7.2 5.8.2-8.7.2 1.4.2 0 .1 5.8.2-10.1.2 7.2.2 2.9.2 4.3.1-18.7.2 10.1.2-13 .2 8.6.2 13 .2-13 .1 20.3.2-20.3.2-4.3.2 17.3.2-17.3.1-4.3.2-10.1.2 21.6.2-14.4.2 0 .2 33.2.1-10.1.2 10.1.2-31.8.2 24.6.2-10.1.1 1.4.2 2.9.2-10.1.2 14.4.2-26 .1 18.8.2 11.6.2-11.6.2 4.4.2 11.5.2-18.8.1-2.9.2-1.4.2 11.6.2 4.3.2-14.5.1-5.7.2 5.7.2 0 .2 4.4.2 0 .2-8.7.1 13 .2-10.1.2 10.1.2-8.7.2 10.2.1-24.6.2 11.6.2 17.3.2-8.7.2-2.9.2 8.7.1-1.4.2 7.2.2-8.7.2-4.3.2 11.5.1 11.6.2-21.7.2-21.6.2 10.1.2 15.9.1-8.7.2 13 .2 2.9.2-28.9.2 28.9.2 4.3.1-4.3.2-20.2.2 20.2.2-11.6.2 13 .1-14.4.2 8.6.2-21.6.2 14.4.2-4.3.2 13 .1-5.8.2-27.4.2 28.9.2 1.4.2 2.9.1-18.8.2 8.7.2 17.3.2-21.7.2 2.9.2-4.3.1 17.3.2-2.9.2-4.3.2 1.5.2-8.7.1-7.2.2 4.3.2 13 .2 5.8.2-11.6.2 24.6.1-15.9.2-15.9.2 11.6.2 8.6.2 7.2.1-41.8.2 21.6.2 5.8.2 5.8.2-4.4.1 0 .2-13 .2-13 .2 26 .2-23.1.2-5.7.1 15.8.2 13 .2-1.4.2 5.8.2-13 .1 13 .2-7.2.2-7.3.2 1.5.2 4.3.2 2.9.1 1.4.2 4.4.2-8.7.2 17.3.2-20.2.1 0 .2-8.6.2 21.6.2 0 .2-20.2.2 1.4.1 2.9.2 5.8.2-7.2.2 14.4.2 0 .1-5.7.2-5.8.2 11.5.2 0 .2 0 .1-1.4.2-2.9.2-20.2.2 36.1.2-17.3.2-5.8.1-5.8.2 5.8.2 5.8.2 1.4.2-1.4.1-7.3.2 20.3.2-21.7.2 18.8.2-24.6.2 1.5.1 7.2.2-1.5.2 0 .2 13 .2-14.4.1 1.4.2-1.4.2 18.8.2-15.9.2 1.4.2 5.8.1 2.9.2-11.6.2 0 .2 0 .2 7.3.1 2.8.2-11.5.2 15.9.2 4.3.2-10.1.2 5.8.1 2.9.2-24.6.2 27.5.2-18.8.2 1.4.1 11.6.2-11.6.2 2.9.2 2.9.2-8.7.1 0 .2 2.9.2-18.8.2 15.9.2 8.7.2-14.4.1 4.3.2 4.3.2 0 .2 11.6.2-5.8.1-2.9.2 13 .2-1.4.2-1.5.2-17.3.2 20.2.1-21.7.2 8.7.2-4.3.2-4.4.2-4.3.1 17.3.2 2.9.2-1.4.2 5.8.2-11.6.2-7.2.1 0 .2 4.3.2 8.7.2 0 .2-13 .1 17.3.2-20.2.2 1.4.2 10.2.2 4.3.1 2.9.2 1.4.2-1.4.2-13 .2-2.9.2-4.3.1 0 .2 13 .2 7.2.2-11.6.2 13 .1-8.6.2-18.8.2 13 .2-2.9.2 14.4.2-28.9.1 14.5.2-2.9.2 30.3.2-10.1.2 11.6.1-36.1.2-4.4.2 15.9.2-1.4.2-8.7.2 14.5.1-1.5.2 2.9.2 4.3.2 0 .2-15.9.1 1.5.2 13 .2-2.9.2-15.9.2 18.8.2-1.5.1 5.8.2-15.9.2-1.4.2 5.8.2-13 .1 18.7.2-1.4.2-1.4.2 5.7.2 7.3.1-26 .2 17.3.2-11.6.2-2.9.2 18.8.2-27.4.1 24.5.2 1.5.2-17.4.2 10.2.2-18.8.1 28.9.2-23.1.2 23.1.2-18.8.2 10.1.2 2.9.1-27.5.2 36.2.2-17.4.2 7.2.2-1.4.1-14.4.2 15.8.2 10.2.2-23.2.2 14.5.2-1.5.1-5.7.2 5.7.2-13 .2-1.4.2 5.8.1-4.4.2 1.5.2 0 .2 8.7.2-8.7.2 4.3.1 10.1.2-5.7.2-7.3.2-4.3.2 20.2.1-23.1.2 0 .2-13 .2 21.7.2 2.9.1 4.3.2 5.8.2-39 .2 49.1.2-1.5.2-30.3.1 17.3.2-5.7.2-5.8.2-13 .2 33.2.1-4.3.2-43.4.2 15.9.2 11.6.2 10.1.2-24.6.1 26 .2 5.8.2-13 .2 11.6.2-2.9.1-1.5.2-7.2.2 8.7.2-2.9.2-11.6.2-18.7.1 37.5.2-15.9.2-4.3.2 5.8.2 8.6.1-13 .2 7.3.2-4.4.2 11.6.2-2.9.1 5.8.2-5.8.2-5.8.2 7.2.2-11.5.2 2.9.1-17.4.2 13 .2 2.9.2 0 .2-8.6.1 17.3.2-1.4.2 5.7.2-4.3.2 0 .2 4.3.1-18.7.2 15.8.2 4.4.2-10.1.2 10.1.1-4.4.2 7.3.2-20.3.2 14.5.2-17.3.2 14.4.1-8.7.2 14.5.2 0 .2 5.8.2-13 .1-7.3.2 0 .2 0 .2-7.2.2 15.9.2-8.7.1 15.9.2-8.6.2 0 .2-7.3.2 11.6.1-18.8.2 10.1.2-17.3.2-4.3.2 14.4.1 1.4.2 14.5.2-14.5.2-10.1.2-1.4.2 11.5.1 13 .2-2.8.2-10.2.2 0 .2-7.2.1 7.2.2 14.5.2-17.3.2-1.5.2 5.8.2-14.5.1 17.4.2 0 .2 1.4.2-4.3.2 5.8.1-17.4.2 5.8.2 27.5.2-23.2.2-24.5.2-1.5.1 26 .2-14.4.2 4.3.2-7.2.2 8.7.1 0 .2-7.2.2 2.8.2 18.8.2-31.8.1 26 .2-13 .2-8.6.2 4.3.2-10.1.2 18.8.1-2.9.2 14.4.2 0 .2-37.5.2 28.9.1-4.4.2 17.4.2-15.9.2-7.2.2 30.3.2-15.9.1 4.3.2-11.5.2-14.5.2 26 .2-14.4.1-14.5.2 7.3.2-5.8.2 2.9.2 40.4.2-11.5.1 7.2.2-17.3.2-1.5.2 17.3.2-15.8.1 11.5.2-2.9.2 0 .2-1.4.2-11.6.2 7.2.1-7.2.2 20.2.2-1.4.2-7.2.2 1.4.1 26 .2-18.8.2-10.1.2-4.3.2 11.6.1-18.8.2 21.6.2-17.3.2 1.5.2-5.8.2 21.6.1-5.7.2 5.7.2 4.4.2-4.4.2 17.4.1-23.1.2-5.8.2-7.2.2 4.3.2 7.2.2 1.5.1 10.1.2-14.5.2-5.7.2 5.7.2 7.3.1 1.4.2-13 .2-7.2.2 13 .2 2.9.2-8.7.1 11.6.2-10.2.2 13 .2 7.3.2-18.8.1 5.8.2 11.5.2-2.9.2-2.9.2-15.8.1-8.7.2 23.1.2-13 .2 15.9.2-14.5.2 26 .1-15.8.2 13 .2-11.6.2 0 .2 5.8.1-5.8.2-8.7.2 7.3.2-5.8.2 11.5.2 2.9.1-28.9.2 20.3.2-13 .2-5.8.2 21.6.1-7.2.2-14.4.2 7.2.2 1.4.2 14.5.2 5.8.1-20.3.2 7.3.2 0 .2 14.4.2-33.2.1 18.8.2-7.3.2 26 .2-11.5.2 0 .2-10.1.1-18.8.2 26 .2-10.1.2 10.1.2 4.3.1-15.9.2 15.9.2-18.7.2 2.8.2 15.9.1-5.7.2 2.8.2-13 .2 13 .2-8.6.2-4.4.1 15.9.2 7.3.2-20.3.2-1.4.2 15.9.1-4.4.2-7.2.2-4.3.2 21.7.2-1.5.2-31.8.1 30.4.2 0 .2 0 .2-17.4.2 0 .1 14.5.2 1.4.2-13 .2-10.1.2 18.8.2-17.3.1 2.8.2 1.5.2-1.5.2 17.4.2 8.6.1-11.5.2 1.4.2-14.4.2 4.3.2 7.2.1-18.7.2 11.5.2 8.7.2 11.5.2-4.3.2-14.4.1 4.3.2 7.2.2-17.3.2 24.5.2-31.7.1 5.7.2 15.9.2 18.8.2-30.3.2 5.8.2-11.6.1 14.4.2 8.7.2-14.4.2 0 .2 14.4.1 1.5.2-1.5.2-2.9.2-31.8.2 28.9.2 5.8.1-4.3.2-2.9.2-5.8.2 17.3.2-13 .1-4.3.2 2.9.2 5.8.2-8.7.2 0 .2 0 .1 0 .2 2.9.2 8.7.2 1.4.2 0 .1-18.8.2 2.9.2-8.6.2 20.2.2-2.9.1-8.7.2-1.4.2 21.6.2-4.3.2-18.8.2 18.8.1-4.3.2-4.4.2-7.2.2 14.5.2 2.9.1-11.6.2-13 .2 21.7.2-7.3.2 1.5.2 2.9.1 4.3.2-11.5.2 17.3.2-8.7.2 10.1.1-18.7.2 1.4.2 4.3.2 0 .2-17.3.2 11.6.1 4.3.2 8.7.2 2.8.2 4.4.2-11.6.1 8.7.2-11.6.2 1.5.2 4.3.2-17.3.2 8.6.1 1.5.2-23.1.2 31.8.2-2.9.2 5.7.1 0 .2 5.8.2-13 .2-5.8.2 7.3.1-10.1.2-5.8.2 17.3.2-17.3.2 15.9.2 5.7.1-11.5.2-11.6.2 17.4.2-8.7.2 8.7.1-11.6.2 10.1.2-17.3.2 21.7.2-13 .2 15.8.1-5.7.2-17.4.2 14.5.2-8.7.2 14.5.1-14.5.2 4.3.2-10.1.2 17.4.2-2.9.2-18.8.1 0 .2 13 .2 2.9.2-1.5.2 8.7.1-5.8.2-1.4.2-4.3.2 11.5.2-2.9.1-10.1.2 11.6.2-4.4.2 2.9.2-2.9.2-4.3.1 1.4.2-13 .2 13 .2 7.3.2-5.8.1 5.8.2-5.8.2 4.3.2 2.9.2-5.8.2-7.2.1 8.7.2 0 .2 4.3.2-10.1.2 5.8.1-4.4.2 0 .2-8.6.2 23.1.2-18.8.2 5.8.1-5.8.2 17.3.2-10.1.2 1.5.2-2.9.1 7.2.2 1.5.2-4.4.2 2.9.2 4.3.2 4.4.1-33.2.2 7.2.2 18.8.2 5.7.2-15.9.1-8.6.2 1.4.2 24.6.2-7.2.2-11.6.1 8.7.2-24.6.2 24.6.2-4.4.2-10.1.2 7.2.1 7.3.2 10.1.2-14.5.2-1.4.2 4.3.1 10.1.2-18.7.2 11.5.2-23.1.2 24.6.2 7.2.1-20.2.2-5.8.2-1.5.2 17.4.2 8.6.1-2.9.2-7.2.2-1.4.2 5.8.2-7.3.2 7.3.1-13 .2 10.1.2-1.5.2 4.4.2 13 .1-24.6.2 11.6.2 4.3.2-5.8.2-2.9.1 11.6.2-4.4.2-7.2.2 0 .2 0 .2-5.8.1 4.4.2 4.3.2-7.2.2-4.3.2 17.3.1-11.6.2 5.8.2-11.5.2 5.7.2-5.7.2 4.3.1 15.9.2-26 .2 7.2.2 2.9.2 7.2.1 0 .2-2.9.2 0 .2-5.8.2 10.2.2-14.5.1 7.2.2 7.3.2-13 .2-5.8.2 13 .1-4.4.2 10.2.2-7.3.2 4.4.2 2.9.2-11.6.1 18.8.2-1.5.2-17.3.2 18.8.2-14.5.1 15.9.2-8.6.2 0 .2 4.3.2-8.7.1-8.6.2 4.3.2 13 .2-21.7.2 8.7.2 14.4.1-18.7.2 5.7.2 2.9.2-4.3.2-5.8.1 2.9.2 5.8.2-2.9.2 8.7.2-4.4.2 10.1.1 4.4.2-10.1.2-5.8.2 5.8.2-13 .1 10.1.2-1.5.2 7.2.2-7.2.2 0 .2 1.5.1-1.5.2-5.8.2 10.2.2-23.2.2 30.4.1-13 .2 13 .2-13 .2-4.4.2 7.3.1-14.5.2 14.5.2 11.5.2-14.4.2 5.8.2 0 .1-10.2.2 7.3.2-1.5.2 2.9.2-8.7.1 17.4.2-18.8.2 1.4.2 4.4.2 4.3.2-4.3.1 4.3.2 4.3.2 0 .2-7.2.2-13 .1 8.7.2 7.2.2-13 .2 11.6.2-14.5.2 20.2.1 8.7.2-8.7.2-14.4.2 11.6.2 7.2.1-10.1.2 7.2.2-10.1.2-1.5.2 2.9.2 2.9.1 4.3.2-4.3.2-4.3.2 1.4.2-2.9.1-2.9.2 1.5.2 14.4.2-7.2.2 18.8.1-8.7.2-8.6.2 17.3.2-34.7.2 15.9.2-2.9.1-5.8.2 14.5.2 1.4.2-10.1.2-5.8.1 10.2.2-5.8.2 4.3.2 1.5.2 5.7.2-2.9.1-8.6.2 5.8.2-4.4.2-1.4.2 0 .1-4.4.2-4.3.2 1.5.2 31.7.2-27.4.2 7.2.1-8.7.2 4.4.2 8.6.2-11.5.2 14.4.1 5.8.2-24.5.2 7.2.2 4.3.2-7.2.2 1.4.1 1.5.2-2.9.2 2.9.2-14.5.2 10.1.1 1.5.2 4.3.2 8.7.2-11.6.2 2.9.1 7.2.2-5.7.2-5.8.2 4.3.2 0 .2 4.4.1-1.5.2 8.7.2-24.6.2 5.8.2 17.3.1-11.5.2 1.4.2 1.5.2 10.1.2 2.9.2-33.3.1 26 .2-17.3.2 18.8.2 1.4.2-7.2.1 4.3.2-14.4.2 21.7.2-18.8.2 17.3.2 2.9.1-11.5.2-4.4.2 11.6.2-4.4.2-7.2.1-8.6.2 10.1.2 1.4.2 13 .2-14.4.1 13 .2-20.3.2-1.4.2 14.4.2-7.2.2 15.9.1-13 .2 1.5.2-7.3.2-11.5.2 10.1.1 8.7.2-10.2.2 7.3.2 0 .2 5.7.2-26 .1 2.9.2 13 .2 14.5.2-7.2.2-2.9.1-1.5.2 0 .2-7.2.2 14.4.2-11.5.2 14.4.1 0 .2-14.4.2 1.4.2 13 .2 0 .1-8.6.2-10.1.2 17.3.2 7.2.2-24.5.2 7.2.1-5.8.2 14.4.2 2.9.2-15.9.2-1.4.1 2.9.2 8.7.2 10.1.2-23.1.2 23.1.1-15.9.2 20.2.2-21.7.2-1.4.2 13 .2-18.8.1 17.3.2-5.7.2 5.7.2-15.8.2 0 .1 8.6.2-5.8.2 18.8.2-5.8.2 5.8.2-21.6.1 8.6.2-1.4.2 2.9.2 2.9.2 2.8.1-7.2.2-10.1.2 23.1.2-15.9.2 4.4.2-2.9.1 4.3.2 7.2.2-17.3.2 5.8.2 8.6.1 0 .2-5.7.2 5.7.2 2.9.2-5.7.1 8.6.2-15.9.2 7.3.2-2.9.2-4.4.2 5.8.1 5.8.2-13 .2 1.4.2-5.7.2 20.2.1-21.7.2 5.8.2-10.1.2 23.1.2-5.8.2-2.9.1-15.9.2 39 .2-20.2.2-8.7.2 2.9.1 20.3.2-2.9.2-18.8.2 15.9.2-26 .2 24.5.1 4.4.2 8.6.2-20.2.2-11.5.2 13 .1 5.7.2-7.2.2 5.8.2-5.8.2-11.5.2 13 .1 2.8.2-10.1.2-4.3.2 5.8.2 8.6.1 7.3.2-4.4.2-7.2.2 5.8.2-8.7.1-4.3.2 2.9.2 11.5.2-1.4.2-4.3.2-5.8.1 14.4.2-1.4.2-11.6.2-1.4.2-1.5.1 7.3.2-8.7.2 4.3.2-5.8.2-10.1.2 20.3.1 14.4.2-17.3.2 7.2.2-7.2.2-4.4.1 15.9.2-14.4.2 4.3.2 1.5.2-5.8.2 20.2.1-10.1.2-5.8.2 5.8.2-10.1.2 0 .1 4.3.2 5.8.2 2.9.2-14.5.2-5.7.1 10.1.2-4.4.2 0 .2 4.4.2 0 .2-7.3.1 7.3.2-7.3.2 7.3.2 0 .2 7.2.1-14.5.2 4.4.2 15.9.2 2.9.2-20.3.2 10.1.1 2.9.2 0 .2 2.9.2 0 .2-8.6.1 17.3.2-7.2.2-18.8.2 15.9.2-10.1.2 8.6.1-5.7.2-4.4.2-2.9.2 15.9.2-4.3.1 2.9.2 1.4.2-18.8.2 10.2.2 5.7.2-2.9.1-7.2.2 0 .2-10.1.2 18.8.2-8.7.1 2.9.2 0 .2-5.8.2 7.3.2 0 .1 5.7.2 1.5.2-2.9.2 2.9.2-27.5.2 24.6.1 0 .2 0 .2 1.4.2-7.2.2 13 .1-21.7.2 8.7.2 4.3.2-4.3.2 11.6.2-13 .1 0 .2-4.4.2 14.5.2-26 .2 17.3.1-2.9.2 2.9.2 13 .2-8.7.2-26 .2 31.8.1-10.1.2-5.8.2 11.6.2-1.5.2 8.7.1-26 .2-4.3.2 24.5.2-2.9.2-8.6.2 8.6.1-10.1.2 5.8.2 1.5.2-24.6.2 18.8.1 5.8.2 8.6.2 1.5.2-11.6.2 1.5.1-7.3.2 2.9.2 10.1.2-17.3.2 8.7.2-5.8.1 11.5.2 5.8.2-21.6.2 2.8.2 14.5.1-10.1.2 13 .2-14.5.2 2.9.2 4.4.2 2.8.1-2.8.2-7.3.2 0 .2 1.5.2 5.8.1 5.7.2-7.2.2-7.2.2 11.5.2-11.5.2 0 .1 17.3.2-20.2.2 15.9.2 1.4.2-15.9.1 8.7.2 11.6.2-15.9.2 14.4.2-15.9.1 1.5.2 4.3.2-13 .2 18.8.2-15.9.2 5.8.1 2.9.2 0 .2 7.2.2 1.4.2-18.7.1 5.7.2 13 .2 8.7.2-23.1.2 14.4.2-7.2.1-4.3.2-1.5.2-13 .2 15.9.2 7.2.1-7.2.2 8.7.2-1.5.2-5.7.2 5.7.2 1.5.1 1.4.2-20.2.2 23.1.2-13 .2 23.1.1-21.6.2 1.4.2-4.3.2 2.9.2-5.8.2 8.7.1 14.4.2-17.3.2-5.8.2 7.2.2-1.4.1 15.9.2-8.7.2 2.9.2-4.4.2 5.8.1-27.4.2 26 .2-10.1.2 13 .2 2.9.2-17.4.1 10.1.2 1.5.2-4.4.2-5.7.2 13 .1 1.4.2-5.8.2 0 .2-8.6.2-5.8.2 15.9.1-11.6.2 7.2.2 4.4.2-11.6.2 1.5.1-1.5.2-14.4.2 15.9.2-4.4.2 15.9.2-11.5.1-5.8.2 15.9.2-14.5.2 14.5.2-17.4.1-4.3.2 18.8.2-11.6.2 1.5.2 4.3.1-1.4.2-2.9.2 0 .2 13 .2-2.9.2 10.1.1-11.6.2-14.4.2 17.3.2-17.3.2 20.2.1-27.4.2 8.6.2 14.5.2 1.4.2-7.2.2 1.5.1 4.3.2-13 .2 23.1.2-8.7.2-5.7.1 10.1.2-5.8.2-5.8.2-13 .2 17.3.2-11.5.1 0 .2 14.4.2 0 .2-13 .2 14.5.1-2.9.2-15.9.2 10.1.2-2.9.2 8.7.2-7.2.1-5.8.2 7.2.2 1.5.2 2.8.2-5.7.1 11.5.2-13 .2 2.9.2 1.5.2 5.7.1-1.4.2-13 .2 4.3.2-4.3.2 7.2.2-2.9.1 8.7.2 13 .2-24.6.2-4.3.2 15.9.1 0 .2 4.3.2-13 .2 11.6.2-2.9.2-7.2.1 2.9.2 5.7.2-15.9.2 4.4.2-1.5.1 14.5.2 1.4.2-17.3.2 14.4.2 4.4.2-7.3.1-2.8.2-13 .2 15.8.2 5.8.2-10.1.1-1.4.2 17.3.2-27.4.2 7.2.2 5.8.1-2.9.2-1.5.2 8.7.2 1.4.2-1.4.2 2.9.1-1.5.2-5.7.2-8.7.2 18.8.2-7.3.1-2.8.2-34.7.2 27.4.2-13 .2 26 .2-14.4.1-1.5.2 14.5.2-13 .2 26 .2-30.3.1 2.8.2 5.8.2 7.2.2-10.1.2 11.6.2-14.5.1 5.8.2 7.2.2-8.6.2 13 .2-11.6.1 7.2.2-2.8.2 14.4.2-10.1.2-4.3.2 10.1.1 0 .2-27.5.2 14.5.2 13 .2-5.8.1-10.1.2 2.9.2-7.3.2 2.9.2 10.1.1 4.4.2-24.6.2 10.1.2-1.4.2 5.8.2-1.5.1 0 .2-2.9.2-7.2.2 10.1.2 1.5.1 13 .2-5.8.2 0 .2-8.7.2-5.8.2 7.3.1 11.5.2-20.2.2-2.9.2 23.1.2-2.9.1-10.1.2 4.4.2 0 .2-5.8.2 5.8.2-20.3.1 18.8.2 0 .2 8.7.2-18.8.2 17.3.1-7.2.2 13 .2-21.7.2 4.4.2 13 .1-11.6.2-1.4.2 13 .2-4.4.2 8.7.2-20.2.1 5.8.2 5.7.2 15.9.2-24.5.2 24.5.1-21.6.2 10.1.2 0 .2-11.6.2-5.8.2 18.8.1-8.6.2-2.9.2-14.5.2 26 .2-20.2.1 10.1.2 0 .2-5.8.2 20.3.2-24.6.2 23.1.1-7.2.2-17.3.2 10.1.2 10.1.2-18.8.1 18.8.2-7.2.2 10.1.2-2.9.2-2.9.2 0 .1-13 .2 18.8.2-1.5.2-8.6.2-1.5.1-7.2.2 2.9.2 11.5.2 1.5.2-2.9.1-8.7.2 8.7.2-4.3.2-5.8.2-14.5.2 14.5.1 0 .2 5.8.2 5.7.2-13 .2 11.6.1 0 .2-8.7.2 10.1.2 7.3.2-14.5.2-2.9.1-7.2.2-5.8.2 17.4.2-14.5.2 17.3.1 1.5.2-11.6.2-10.1.2 5.8.2 1.4.2-2.8.1 15.8.2-17.3.2 8.7.2 8.6.2-7.2.1-2.9.2 7.3.2-1.5.2-5.8.2 20.3.2-26 .1 7.2.2-8.7.2 5.8.2 11.5.2 1.5.1 7.2.2-20.2.2 5.8.2 1.4.2 8.7.1-8.7.2-15.9.2 14.5.2 1.4.2 1.5.2-24.6.1 28.9.2-14.5.2 10.2.2 10.1.2-1.5.1-10.1.2 1.5.2 11.5.2-17.3.2-5.8.2 23.1.1-8.7.2-10.1.2 5.8.2-8.7.2 14.5.1-14.5.2 5.8.2-1.4.2 0 .2-11.6.2 20.2.1 1.5.2 14.4.2-18.7.2 5.7.2 1.5.1-8.7.2 1.5.2 5.7.2-1.4.2 7.2.1-23.1.2 7.2.2-7.2.2 11.6.2 4.3.2-13 .1 13 .2-10.1.2 5.8.2-1.5.2-1.4.1 7.2.2-1.5.2 7.3.2-5.8.2-4.3.2 0 .1 7.2.2-1.5.2-5.7.2-2.9.2-7.3.1 5.8.2-14.4.2-2.9.2 24.5.2-8.6.2-1.5.1 10.1.2 0 .2-21.6.2 31.8.2-21.7.1 13 .2-8.7.2 8.7.2 13 .2-5.8.2-7.2.1-11.6.2 7.3.2-4.4.2 0 .2 13 .1-8.6.2-11.6.2 8.7.2-8.7.2 15.9.1-8.7.2-1.4.2 10.1.2-10.1.2 4.3.2 5.8.1 2.9.2-27.5.2 17.4.2 7.2.2-17.3.1 10.1.2-2.9.2 13 .2-20.2.2 13 .2 8.6.1-13 .2 0 .2-7.2.2 0 .2 8.7.1 1.4.2 7.2.2-5.7.2 7.2.2-2.9.2-5.8.1-2.9.2 13 .2-4.3.2 1.4.2-5.7.1-8.7.2 0 .2 0 .2 11.5.2-5.7.1 11.5.2-21.6.2 2.8.2 20.3.2-2.9.2-18.8.1 4.3.2-5.7.2 13 .2-14.5.2 8.7.1 13 .2-10.1.2-15.9.2 27.4.2 0 .2-1.4.1-4.4.2 4.4.2-7.2.2 0 .2-14.5.1 10.1.2-2.9.2-1.4.2 1.4.2 18.8.2-28.9.1 10.1.2 1.5.2-4.4.2-13 .2 23.2.1-4.4.2 10.1.2 4.4.2-13 .2-4.4.2 1.5.1 10.1.2-4.3.2-13 .2 4.3.2-2.9.1 8.7.2 0 .2 1.4.2 7.2.2-8.6.1-4.4.2 13 .2 0 .2 2.9.2-11.5.2 5.7.1 0 .2-5.7.2 0 .2-2.9.2 8.6.1-8.6.2-11.6.2 11.6.2-7.2.2 21.6.2-17.3.1 1.4.2 0 .2 2.9.2 11.6.2 5.8.1-8.7.2-7.2.2-17.4.2 0 .2 20.3.2-5.8.1 4.3.2 5.8.2 7.2.2-4.3.2-14.5.1 7.3.2 10.1.2-13 .2 10.1.2 0 .1-14.5.2 1.5.2-2.9.2-10.1.2 7.2.2 18.8.1-2.9.2-14.5.2 1.5.2 5.8.2 17.3.1-34.7.2 17.4.2-2.9.2 0 .2-8.7.2 11.6.1 8.6.2-7.2.2-2.9.2 8.7.2 2.9.1-11.6.2 1.5.2 7.2.2-13 .2 4.3.2 10.1.1-15.9.2-8.6.2 18.8.2-14.5.2 17.3.1 8.7.2-14.4.2-4.4.2-1.4.2-2.9.2 11.6.1 7.2.2-2.9.2-5.8.2-1.4.2 0 .1-8.7.2 4.3.2 7.3.2 11.5.2-7.2.1-7.2.2 10.1.2-1.5.2-5.7.2-8.7.2 1.4.1 20.3.2-15.9.2 13 .2-18.8.2-10.1.1 23.1.2-11.6.2 10.1.2-4.3.2-4.3.2 13 .1-14.5.2 7.3.2-7.3.2-2.9.2 21.7.1-14.4.2 2.9.2 5.7.2-23.1.2 14.5.2 1.4.1 1.5.2 4.3.2-23.1.2 11.5.2-7.2.1 10.1.2 8.7.2-27.5.2 4.4.2 30.3.2-13 .1-1.4.2-14.5.2 17.4.2 2.8.2-7.2.1-1.4.2-4.4.2 1.5.2-4.3.2 21.6.1-1.4.2 4.3.2-31.8.2 24.6.2-10.1.2 4.3.1-7.2.2 26 .2-2.9.2-21.7.2 13 .1-23.1.2 20.2.2-8.6.2-1.5.2 4.4.2 14.4.1-2.9.2-15.9.2 1.5.2 15.9.2-1.5.1-1.4.2-13 .2 18.8.2-15.9.2-1.5.2 0 .1 8.7.2 2.9.2-10.1.2-2.9.2 4.3.1-2.9.2-20.2.2 15.9.2 1.4.2 7.3.1 0 .2-4.4.2-2.9.2 13 .2-11.5.2 4.3.1-7.2.2 5.8.2 10.1.2-13 .2 4.3.1-1.4.2-8.7.2 21.7.2-2.9.2 0 .2-1.5.1-7.2.2 4.3.2-13 .2 8.7.2 10.1.1-1.4.2-2.9.2-10.1.2 5.8.2 0 .2 5.7.1-8.6.2 10.1.2-8.7.2 10.1.2-21.6.1 20.2.2 1.4.2-1.4.2-14.5.2 13 .2-2.9.1-5.7.2 8.6.2-2.9.2-11.5.2 5.8.1 1.4.2 7.2.2-18.7.2 20.2.2-15.9.1 5.8.2-4.4.2-1.4.2-2.9.2 14.4.2 7.3.1-15.9.2-2.9.2 13 .2-13 .2 8.7.1-5.8.2 14.4.2-21.6.2 11.5.2-2.9.2 7.2.1-2.8.2 2.8.2 4.4.2-10.1.2 10.1.1 5.8.2-15.9.2 13 .2-7.3.2-23.1.2 27.5.1 1.4.2-2.9.2-1.4.2-14.5.2 15.9.1 15.9.2-24.5.2-5.8.2-2.9.2 14.4.1-5.7.2 5.7.2 4.4.2-10.1.2 17.3.2-11.6.1 2.9.2-13 .2 2.9.2 4.4.2 2.8.1-2.8.2 2.8.2 10.2.2-14.5.2 5.8.2-7.2.1-1.5.2 0 .2 8.7.2-1.5.2 0 .1 2.9.2-7.2.2 4.3.2 5.8.2-11.5.2-7.3.1 1.5.2 8.7.2-8.7.2 20.2.2-20.2.1-8.7.2 21.7.2-7.2.2 15.9.2-20.3.2-4.3.1 10.1.2-8.7.2 13 .2-8.6.2-2.9.1 14.4.2-10.1.2-4.3.2 8.7.2-2.9.1 17.3.2-18.8.2 7.2.2 1.5.2-11.6.2-2.9.1 1.5.2 1.4.2 5.8.2-5.8.2-13 .1 1.5.2 15.9.2-7.3.2 13 .2 8.7.2-8.7.1 7.3.2-14.5.2 1.5.2 2.9.2-7.3.1 17.4.2-27.5.2 10.1.2 0 .2 14.5.2-11.6.1 8.7.2 13 .2-21.7.2-10.1.2 4.3.1 8.7.2 11.6.2-15.9.2 4.3.2 4.3.1-5.7.2 5.7.2-13 .2 14.5.2-18.8.2 20.2.1-5.7.2-2.9.2-7.3.2 21.7.2-11.5.1-4.4.2 13 .2-10.1.2 7.2.2-18.7.2 4.3.1-1.5.2 10.2.2-2.9.2-2.9.2 10.1.1 0 .2-8.7.2-1.4.2 10.1.2 7.2.2-14.4.1 5.7.2 2.9.2-11.5.2-4.4.2 1.5.1 20.2.2-8.7.2 1.5.2-4.3.2 11.5.2-11.5.1 2.8.2-5.7.2-2.9.2 2.9.2-8.7.1 20.2.2-1.4.2-1.5.2-1.4.2-7.2.1-7.3.2 15.9.2-2.9.2 1.5.2-10.1.2 0 .1 1.4.2 10.1.2-7.2.2-8.7.2 2.9.1 0 .2-2.9.2 13 .2-5.7.2 2.9.2-4.4.1 11.6.2-13 .2 2.9.2 2.9.2 0 .1 13 .2-15.9.2 8.6.2 1.5.2 7.2.2-17.3.1 2.9.2 5.7.2-17.3.2-5.8.2 27.5.1-1.5.2-27.4.2 21.6.2-17.3.2 10.1.1 14.5.2-30.4.2 18.8.2 0 .2 0 .2 5.8.1-5.8.2 4.3.2 2.9.2 4.4.2-34.7.1 14.4.2 17.4.2-13 .2 11.5.2 5.8.2-20.2.1 14.4.2-10.1.2 4.4.2 5.7.2 0 .1-1.4.2-7.2.2 10.1.2-8.7.2 8.7.2 2.9.1-13 .2 0 .2 5.7.2-11.5.2 14.4.1 1.5.2-7.2.2-4.4.2 17.4.2-13 .2-4.4.1 7.2.2-21.6.2 33.2.2-10.1.2-14.5.1-1.4.2-2.9.2 0 .2 1.5.2 5.7.1 0 .2 7.3.2-8.7.2 8.7.2-2.9.2 7.2.1-23.1.2 30.3.2-15.9.2 21.7.2-21.7.1 10.1.2-13 .2 13 .2 2.9.2-8.6.2 5.7.1-8.6.2 10.1.2-2.9.2 4.3.2 13 .1-7.2.2-18.8.2 0 .2 13 .2-4.3.2-24.6.1 5.8.2 5.8.2 13 .2-24.6.2 18.8.1 0 .2 15.9.2-7.2.2 1.4.2-5.8.2-7.2.1-10.1.2 20.2.2-1.4.2 8.7.2-14.5.1 8.7.2 4.3.2-13 .2-4.3.2-11.6.1 27.5.2-21.7.2 14.4.2-8.6.2 2.9.2 2.9.1-2.9.2 7.2.2-10.1.2-1.5.2 14.5.1-8.7.2 10.1.2-2.9.2-7.2.2-7.2.2 15.9.1-10.1.2 21.6.2-5.7.2-14.5.2 5.8.1-8.7.2 2.9.2-4.3.2 4.3.2 13 .2-15.9.1-7.2.2 17.3.2-18.7.2 2.8.2 14.5.1-8.7.2 11.6.2-8.7.2 8.7.2-1.5.1-8.6.2-4.4.2 10.1.2 4.4.2-4.4.2 5.8.1-11.5.2 1.4.2 1.5.2 8.6.2-17.3.1-5.8.2 10.1.2 15.9.2-13 .2-8.7.2 5.8.1 13 .2 4.4.2-2.9.2-4.4.2 4.4.1-11.6.2 4.3.2-8.6.2 15.9.2-10.1.2 10.1.1-4.4.2 0 .2 7.3.2-21.7.2 15.9.1-18.8.2 10.1.2 7.2.2-5.7.2 2.8.2-4.3.1-2.9.2 2.9.2-11.5.2 24.5.2-14.4.1 13 .2-17.4.2-2.9.2 18.8.2-17.3.1 18.8.2 8.6.2-26 .2 1.5.2 14.4.2-5.8.1-2.8.2-10.2.2 14.5.2-11.6.2 4.4.1-11.6.2 26 .2-13 .2 4.3.2 14.5.2-24.6.1 27.5.2-23.1.2 7.2.2-14.5.2 0 .1 17.4.2-10.1.2 8.6.2-7.2.2 1.5.2 8.6.1-4.3.2-8.7.2 13 .2-10.1.2 0 .1 14.5.2-7.3.2-14.4.2 4.3.2 10.1.1-5.7.2-10.2.2 7.3.2 21.6.2-24.5.2 11.5.1-2.9.2-4.3.2-17.3.2 17.3.2 10.1.1-10.1.2 10.1.2-8.6.2 11.5.2-11.5.2-1.5.1 5.8.2-10.1.2 5.8.2 0 .2-7.3.1 10.1.2-8.6.2 4.3.2 7.2.2-20.2.2 27.5.1-18.8.2 0 .2 10.1.2-5.8.2 7.2.1-2.9.2 1.5.2 0 .2-5.8.2 10.1.2-2.9.1-10.1.2 8.7.2-8.7.2 1.5.2-10.1.1 21.6.2-5.8.2 1.5.2 5.8.2 0 .1-14.5.2 1.5.2-10.1.2 1.4.2 8.7.2 8.6.1 1.5.2-8.7.2 7.2.2 0 .2-5.7.1-2.9.2 15.9.2-5.8.2 0 .2 5.8.2-4.4.1-14.4.2 11.5.2-8.6.2 2.9.2-18.8.1 21.6.2-10.1.2-11.5.2-1.5.2 26 .2-10.1.1-10.1.2 7.2.2-4.3.2 10.1.2 10.1.1-13 .2 2.9.2-4.3.2-4.4.2 17.4.1-7.2.2 4.3.2-7.2.2 7.2.2-7.2.2-5.8.1 11.5.2 4.4.2-7.2.2-5.8.2-1.5.1 10.1.2-10.1.2-11.5.2 10.1.2 0 .2 7.2.1 8.7.2-10.1.2 8.6.2-10.1.2 1.5.1-2.9.2-5.8.2 8.7.2 5.7.2-8.6.2 1.4.1 7.2.2-15.8.2 4.3.2 8.7.2 8.6.1 0 .2-15.9.2 10.1.2-7.2.2 8.7.2 10.1.1 4.3.2-11.5.2-13 .2 11.5.2-1.4.1 0 .2 8.7.2-15.9.2-5.8.2 27.4.1-20.2.2 5.8.2 4.3.2-20.2.2 4.3.2 2.9.1-1.4.2 2.9.2-17.4.2 17.4.2-7.3.1 14.5.2-10.1.2 13 .2 0 .2-17.4.2 14.5.1-1.5.2 4.4.2-2.9.2-23.1.2 26 .1-2.9.2 7.2.2-7.2.2-18.8.2 20.2.2-11.5.1 14.4.2-4.3.2-5.8.2 1.5.2-7.3.1 17.4.2-11.6.2 8.7.2 1.4.2-10.1.2 7.2.1-5.7.2-13 .2 13 .2 8.6.2-10.1.1-8.7.2 1.5.2 18.8.2-4.4.2-10.1.1 10.1.2 7.3.2-7.3.2 1.5.2-8.7.2 8.7.1-8.7.2 11.6.2-13 .2-8.7.2 8.7.1-1.5.2-4.3.2 0 .2 11.5.2 4.4.2-1.5.1-8.6.2 2.9.2-1.5.2 4.3.2-5.7.1-15.9.2-1.5.2 15.9.2-7.2.2 18.8.2-26 .1 24.5.2 2.9.2-8.6.2 7.2.2-11.6.1-21.6.2 34.6.2-20.2.2-2.9.2-10.1.1 10.1.2 18.8.2 0 .2 2.9.2-8.7.2-1.4.1-20.3.2 28.9.2-1.4.2-4.3.2 2.8.1 5.8.2 0 .2-18.8.2 10.2.2-10.2.2 4.4.1 1.4.2-7.2.2 18.8.2-8.7.2-1.4.1-10.1.2 11.5.2-4.3.2 10.1.2 1.4.2-1.4.1-1.5.2-7.2.2 11.6.2-10.1.2 5.7.1 14.5.2-30.3.2 10.1.2-2.9.2 11.5.2-15.9.1 13 .2-7.2.2 1.5.2 14.4.2-13 .1-13 .2 13 .2 0 .2 5.8.2 5.8.1-7.3.2 0 .2-2.8.2 5.7.2-14.4.2 15.9.1 1.4.2-31.8.2 40.5.2-8.7.2-17.3.1 7.2.2 5.8.2 7.2.2-24.5.2 2.8.2 15.9.1-2.9.2 0 .2 0 .2-15.8.2 5.7.1 7.3.2-1.5.2-5.8.2 13 .2 2.9.2-20.2.1 18.8.2-2.9.2 1.4.2-15.9.2 13 .1 0 .2 8.7.2-23.1.2 8.7.2 8.6.1 1.5.2-8.7.2 13 .2-26 .2 21.7.2-24.6.1 23.1.2 4.4.2-7.3.2 0 .2-28.8.1 39 .2-5.8.2-4.4.2-5.7.2-2.9.2 4.3.1 8.7.2-4.4.2-2.8.2 8.6.2-4.3.1 5.8.2-27.5.2 17.4.2 7.2.2-10.1.2 10.1.1-1.5.2 4.4.2-4.4.2 2.9.2-13 .1 10.1.2-2.9.2-10.1.2 18.8.2-15.9.2 4.4.1-4.4.2 4.4.2 2.8.2-11.5.2 8.7.1 8.6.2-4.3.2-21.7.2 23.1.2-1.4.1-5.8.2-1.4.2 13 .2-10.1.2 0 .2-10.2.1 14.5.2 1.4.2-15.9.2 8.7.2 10.1.1-11.5.2-1.5.2 2.9.2 4.3.2 0 .2 4.4.1-11.6.2 4.4.2 8.6.2-8.6.2 2.8.1 7.3.2-23.1.2 26 .2-7.3.2 8.7.2-34.7.1 23.1.2-7.2.2 7.2.2 8.7.2-15.9.1 13 .2-11.5.2 1.4.2-2.9.2 17.4.1-21.7.2 7.2.2 1.5.2 0 .2 7.2.2-18.8.1 17.3.2-18.7.2 13 .2-13 .2 10.1.1 8.6.2-17.3.2 4.3.2 2.9.2 8.7.2-17.3.1 11.5.2 0 .2 5.8.2 5.8.2-13 .1 14.4.2-11.5.2 7.2.2-10.1.2-11.6.2 21.7.1 1.4.2-5.8.2-2.8.2 13 .2-21.7.1 5.8.2 17.3.2-15.9.2-10.1.2 4.3.2 17.4.1-10.1.2 7.2.2-7.2.2-7.3.2 1.5.1-4.4.2 14.5.2-10.1.2 2.9.2-1.5.1 14.5.2-13 .2-4.4.2 1.5.2 14.4.2-14.4.1 11.5.2-8.6.2 10.1.2-11.6.2 2.9.1 5.8.2 0 .2 1.4.2-5.7.2 5.7.2-10.1.1 1.5.2 11.5.2-13 .2-15.9.2 18.8.1 8.7.2-11.6.2-2.9.2 13 .2-2.9.2-11.5.1 17.3.2-8.6.2 2.8.2 5.8.2 4.4.1-7.3.2-1.4.2 5.8.2-4.4.2-10.1.1-2.9.2 30.4.2-8.7.2-4.3.2-21.7.2 23.1.1 5.8.2-39 .2 28.9.2-2.9.2 7.2.1-2.9.2 8.7.2-10.1.2-8.7.2-1.4.2 1.4.1-5.8.2 18.8.2-4.3.2-1.5.2 0 .1-10.1.2 8.7.2 13 .2-10.1.2-7.2.2 4.3.1 4.3.2-11.5.2 5.7.2-2.8.2 0 .1 5.7.2 5.8.2-14.4.2-17.4.2 27.5.2-7.2.1 0 .2 2.8.2 14.5.2-26 .2 0 .1 13 .2-18.8.2-10.1.2 24.6.2 5.7.1-13 .2 24.6.2 0 .2-14.5.2-4.3.2 0 .1 4.3.2 10.2.2-20.3.2-1.4.2 2.9.1 13 .2-10.1.2-4.4.2 0 .2 5.8.2 8.7.1-8.7.2 14.5.2-1.5.2-7.2.2-7.2.1 11.5.2-15.9.2 5.8.2 1.5.2 0 .2 0 .1 10.1.2-15.9.2 5.8.2-1.5.2 10.1.1-26 .2 8.7.2 20.2.2-17.3.2 17.3.2-5.8.1-13 .2 4.4.2-1.5.2 1.5.2 17.3.1-11.6.2 4.4.2-2.9.2 4.3.2-17.3.1 2.9.2 13 .2-10.1.2-2.9.2 11.5.2 4.4.1-17.4.2 10.1.2-5.7.2 0 .2 5.7.1 0 .2-10.1.2-4.3.2 10.1.2 10.1.2-14.4.1 2.9.2 8.6.2-7.2.2-4.3.2 8.6.1-5.7.2 1.4.2 0 .2-4.3.2 8.6.2-8.6.1-4.4.2 4.4.2 11.5.2 8.7.2-20.2.1 2.9.2-7.3.2 10.2.2 4.3.2 1.4.1 1.5.2-11.6.2 8.7.2-1.5.2 0 .2-10.1.1 0 .2 13 .2-13 .2 15.9.2-15.9.1-1.4.2 13 .2 0 .2 4.3.2-10.1.2 13 .1-8.7.2-5.7.2 15.9.2-10.2.2 8.7.1 5.8.2-24.6.2-1.4.2 5.8.2 7.2.2 0 .1 4.3.2-13 .2 14.5.2-18.8.2 4.3.1 4.4.2-1.5.2-10.1.2 8.7.2-2.9.2 11.5.1 1.5.2 4.3.2 1.5.2-13 .2-2.9.1-5.8.2 11.5.2 1.5.2-8.7.2 11.6.1-13 .2 20.2.2 2.9.2-18.8.2 7.2.2 1.5.1-13 .2 1.4.2 13 .2 4.4.2-14.5.1-17.3.2 13 .2 1.4.2 11.6.2-14.5.2 10.1.1-4.3.2 1.5.2-2.9.2-4.4.2 17.4.1-2.9.2-18.8.2 21.7.2-17.4.2-4.3.2 20.2.1-15.9.2 17.4.2-7.3.2-10.1.2 24.6.1-43.3.2 36.1.2 0 .2-2.9.2 5.8.1-26 .2 17.3.2-8.7.2 0 .2 2.9.2 5.8.1 1.4.2-8.6.2 5.7.2 11.6.2-11.6.1-10.1.2 7.3.2 4.3.2-10.1.2-13 .2 24.5.1-13 .2 10.1.2-5.7.2 10.1.2 1.4.1-8.6.2-1.5.2 1.5.2 0 .2-1.5.2 7.2.1 1.5.2 5.8.2-15.9.2 8.6.2-7.2.1 7.2.2-10.1.2 0 .2 1.5.2 0 .2 1.4.1-1.4.2 0 .2-8.7.2 11.6.2 8.6.1-13 .2 13 .2 5.8.2-5.8.2-8.6.1 2.8.2-13 .2 5.8.2 10.1.2-17.3.2 0 .1 11.6.2-1.5.2-2.9.2-1.4.2 11.5.1 7.3.2-4.4.2-13 .2 1.5.2-14.5.2 27.5.1-11.6.2 4.3.2-7.2.2 10.1.2-17.3.1 7.2.2 17.4.2-20.3.2 4.4.2-2.9.2-13 .1 27.4.2-11.5.2 0 .2 20.2.2-23.1.1 4.3.2 11.6.2-21.7.2 7.2.2 15.9.1 0 .2 1.5.2-10.2.2-10.1.2 2.9.2 11.6.1 2.9.2-17.4.2 7.3.2-10.2.2 13 .1-5.7.2 11.5.2 4.4.2-18.8.2 11.5.2-8.6.1 2.9.2 0 .2 5.7.2-15.9.2 10.2.1 2.8.2 4.4.2-7.2.2 18.7.2-13 .2-7.2.1 11.6.2-11.6.2 20.2.2-23.1.2-8.6.1 2.8.2 10.2.2 5.7.2 1.5.2 1.4.2-27.4.1 15.9.2 2.9.2 10.1.2-5.8.2 1.4.1 11.6.2-14.5.2 1.5.2-4.3.2 4.3.1 8.7.2-17.4.2 10.1.2 5.8.2-11.5.2-1.5.1 10.1.2-10.1.2 4.3.2-11.5.2 14.4.1 5.8.2-1.4.2-18.8.2 15.9.2 1.4.2 1.5.1-11.6.2 10.1.2-8.6.2 7.2.2-15.9.1 23.1.2-8.7.2-1.4.2-21.7.2 23.1.2-7.2.1-7.2.2 13 .2-5.8.2 13 .2-17.3.1 1.4.2 8.7.2-5.8.2 0 .2 10.1.2-1.4.1-4.4.2 2.9.2 4.4.2-13 .2-1.5.1 10.1.2 7.3.2-15.9.2 0 .2 0 .1 11.5.2-8.6.2 5.7.2-15.9.2 5.8.2 10.1.1 1.5.2 5.8.2-1.5.2-18.8.2 10.1.1 8.7.2-15.9.2 15.9.2-5.8.2-5.7.2-13 .1 15.8.2-5.7.2-4.4.2 7.3.2 13 .1-17.4.2 8.7.2 7.2.2-24.5.2 7.2.2 27.4.1 1.5.2-26 .2 5.7.2-8.6.2 10.1.1-10.1.2 18.8.2 1.4.2-2.9.2 0 .1-13 .2 4.3.2-15.8.2 17.3.2-4.3.2 8.6.1-10.1.2 7.2.2 8.7.2-15.9.2-11.5.1 13 .2 14.4.2-2.9.2-14.4.2 7.2.2-10.1.1 8.6.2-5.7.2-15.9.2 26 .2-2.9.1 1.4.2-8.6.2 7.2.2 0 .2 2.9.2-17.4.1 2.9.2 13 .2-1.4.2 5.8.2-4.4.1 0 .2-7.2.2 8.7.2-7.2.2 7.2.2 0 .1-14.5.2 10.1.2 4.4.2 1.4.2 1.5.1-7.3.2-5.7.2-1.5.2 14.5.2-10.1.1 5.7.2-10.1.2-4.3.2 13 .2-1.5.2 5.8.1 4.4.2-2.9.2 2.9.2 0 .2-8.7.1 2.9.2-8.7.2-2.9.2 0 .2 14.5.2 0 .1-5.8.2-5.8.2 4.3.2 1.5.2 8.7.1-21.7.2 8.7.2-4.4.2-1.4.2 8.6.2-5.7.1-2.9.2-4.4.2 10.2.2 11.5.2-15.9.1 17.4.2-10.2.2 4.4.2-4.4.2 14.5.1-28.9.2 15.9.2 0 .2-11.6.2 10.1.2 1.5.1-4.3.2-4.4.2-2.9.2 7.3.2 2.8.1 1.5.2-10.1.2-11.6.2 23.1.2-2.9.2-5.7.1 11.5.2-4.3.2 1.4.2-1.4.2-10.1.1 14.4.2-4.3.2-10.1.2 10.1.2-14.5.2 21.7.1-17.3.2 4.3.2-11.5.2 1.4.2 7.2.1 10.1.2-8.6.2 17.3.2-17.3.2 11.5.2-5.8.1-11.5.2 20.2.2 7.2.2-5.7.2-4.4.1-15.9.2 4.4.2-7.3.2 4.4.2 5.8.1 2.8.2 1.5.2 4.3.2-8.6.2 7.2.2 11.5.1-30.3.2 17.3.2 1.5.2-14.5.2 0 .1-2.9.2 18.8.2 8.7.2-11.6.2-13 .2 27.5.1-27.5.2-1.4.2 0 .2 23.1.2-4.3.1-1.5.2-8.6.2 5.7.2-10.1.2 10.1.2 2.9.1-11.5.2 5.7.2-2.8.2-10.2.2 18.8.1-10.1.2 1.5.2 7.2.2 5.8.2-5.8.1-2.9.2-10.1.2 11.5.2-7.2.2 20.2.2-14.4.1 0 .2-7.2.2 8.6.2-10.1.2 11.6.1-2.9.2-13 .2 2.9.2 1.4.2 0 .2 0 .1 1.5.2 8.6.2-14.4.2 8.7.2-1.5.1-7.2.2 14.4.2-10.1.2 15.9.2-2.9.2-18.8.1 17.4.2-13 .2 8.6.2 0 .2 7.3.1-13 .2 14.4.2-21.7.2 14.5.2 7.2.2-15.9.1 10.1.2-2.9.2 2.9.2 0 .2-1.4.1-7.2.2 17.3.2-27.4.2 4.3.2 11.5.1 1.5.2 5.8.2-5.8.2-1.5.2 2.9.2 13 .1-18.7.2-2.9.2 15.9.2-14.5.2 10.1.1-10.1.2 4.3.2 8.7.2-2.9.2-1.4.2-10.1.1 0 .2 15.9.2-8.7.2-7.2.2-5.8.1 27.4.2-15.9.2-5.7.2 0 .2 7.2.2-5.8.1 18.8.2-14.5.2 14.5.2-14.5.2-2.8.1 13 .2-7.3.2-8.6.2 11.5.2-5.8.2-2.8.1 0 .2 0 .2-2.9.2-1.5.2 1.5.1 2.9.2-8.7.2 8.7.2-2.9.2 10.1.1-4.4.2-7.2.2-4.3.2 11.5.2 10.2.2 1.4.1-17.3.2 10.1.2 5.8.2 4.3.2-14.5.1-8.6.2 0 .2 13 .2-10.1.2-5.8.2 21.7.1-14.5.2 0 .2 4.3.2 1.5.2 1.4.1 1.5.2-2.9.2 13 .2-2.9.2-18.8.2 1.5.1 2.9.2 2.8.2 4.4.2-17.4.2 15.9.1-10.1.2 8.7.2 0 .2 0 .2-8.7.1 0 .2 7.2.2-2.8.2 11.5.2 0 .2-7.2.1 2.9.2-4.4.2-5.7.2 0 .2 13 .1-14.5.2 7.2.2-4.3.2 13 .2-18.8.2 18.8.1-17.3.2 10.1.2 1.4.2-10.1.2 11.6.1-8.7.2-5.8.2 5.8.2 11.6.2-7.3.2 2.9.1-5.7.2 11.5.2 0 .2-8.7.2-13 .1 21.7.2-5.8.2-1.4.2 1.4.2 7.3.2-1.5.1-11.5.2-1.5.2 4.3.2-11.5.2 11.5.1 11.6.2-2.9.2-20.2.2 11.5.2 0 .1-10.1.2 18.8.2-18.8.2-10.1.2 17.4.2 2.8.1 2.9.2 4.4.2-14.5.2 13 .2-2.9.1 4.4.2-13 .2-1.5.2 7.2.2 5.8.2-10.1.1 4.3.2 7.3.2-21.7.2 14.4.2-2.8.1-5.8.2 4.3.2 11.6.2-11.6.2-1.4.2-11.6.1 26 .2 1.5.2-7.3.2 4.4.2 1.4.1-8.7.2-5.7.2-1.5.2 10.1.2 2.9.1 8.7.2-5.8.2-11.5.2 4.3.2 2.9.2-14.5.1 10.1.2-2.8.2 4.3.2 1.4.2-1.4.1 21.7.2-15.9.2 0 .2-1.5.2 1.5.2-2.9.1-8.7.2 5.8.2 4.3.2-5.8.2-5.7.1-1.5.2 4.4.2 5.7.2 0 .2-1.4.2-11.6.1 1.5.2 11.5.2-2.9.2-4.3.2-5.8.1 4.4.2 10.1.2-1.5.2-1.4.2-11.6.2 1.5.1 1.4.2 7.2.2 7.3.2-23.1.2 15.8.1 2.9.2-5.7.2 10.1.2-11.6.2 7.2.1-14.4.2 11.5.2-4.3.2 1.5.2 2.8.2 15.9.1-26 .2 11.6.2 1.4.2-11.5.2-1.5.1 17.4.2-1.5.2-15.9.2 4.4.2 2.9.2-5.8.1 8.6.2 4.4.2-13 .2-5.8.2 2.9.1-2.9.2 14.4.2-5.7.2 11.5.2-34.6.2 37.5.1-4.3.2 4.3.2-4.3.2-11.6.2-1.4.1 11.5.2 0 .2-15.9.2 8.7.2-11.5.1 15.8.2 2.9.2 11.6.2-14.5.2-15.8.2 18.7.1 2.9.2-5.8.2 2.9.2 4.4.2 0 .1-5.8.2 10.1.2-31.8.2 17.4.2 0 .2 5.7.1 11.6.2-5.8.2-4.3.2-2.9.2 10.1.1-1.4.2-14.5.2 4.3.2 10.2.2-27.5.2 28.9.1-23.1.2 13 .2 4.3.2-13 .2 10.1.1 5.8.2 5.8.2-24.6.2 1.5.2 1.4.2 13 .1 10.1.2-23.1.2-1.4.2 5.8.2 14.4.1-7.2.2-11.6.2 0 .2 1.5.2-10.1.1 2.8.2 17.4.2-7.2.2 2.8.2-4.3.2 8.7.1-11.6.2 8.7.2-4.3.2 4.3.2-1.5.1-5.7.2 2.9.2-2.9.2-4.4.2 5.8.2-8.7.1 14.5.2 14.4.2-5.7.2-8.7.2 5.8.1-17.4.2 5.8.2 11.6.2-18.8.2 14.4.2-1.4.1-21.7.2 27.5.2-17.4.2 17.4.2 0 .1 4.3.2-8.7.2 8.7.2 5.8.2-27.5.1 11.6.2-7.2.2 11.5.2-10.1.2 0 .2 1.5.1 7.2.2-1.5.2 7.3.2-2.9.2 1.4.1-11.5.2 0 .2 14.4.2-8.7.2 0 .2-2.9.1 0 .2 0 .2-7.2.2 2.9.2-1.4.1 10.1.2 1.4.2-8.6.2 11.5.2 2.9.2-8.7.1-1.4.2-10.1.2 24.5.2-13 .2-1.4.1 1.4.2-1.4.2 2.9.2 0 .2-11.6.2 1.5.1 11.5.2-8.6.2 4.3.2-13 .2 4.3.1 2.9.2-2.9.2-18.8.2 27.5.2 1.4.1-10.1.2-8.6.2 7.2.2 8.6.2 0 .2 0 .1-5.7.2-8.7.2 15.9.2-15.9.2 8.7.1 7.2.2 7.2.2-7.2.2 4.3.2-8.6.2 2.8.1 5.8.2-11.5.2 1.4.2 7.2.2-8.6.1 13 .2-10.1.2 5.7.2 1.5.2 2.9.2-10.1.1 7.2.2 0 .2-2.9.2 2.9.2 5.8.1-17.4.2 1.5.2 1.4.2 5.8.2-18.8.2-4.3.1 17.3.2-1.4.2-7.3.2 27.5.2-21.7.1 0 .2-2.9.2 14.5.2-2.9.2-1.5.1 8.7.2-13 .2-1.4.2-2.9.2 4.3.2 20.2.1-11.5.2-4.4.2-2.8.2 14.4.2-2.9.1-5.8.2-2.9.2 0 .2-17.3.2 7.2.2 13 .1-7.2.2 4.3.2 14.5.2-8.7.2 2.9.1-21.7.2 8.7.2 11.6.2-15.9.2 14.4.2-8.6.1 0 .2 11.5.2-21.7.2 7.3.2 14.4.1-8.7.2 8.7.2-7.2.2 17.3.2-21.6.1 10.1.2-13 .2 0 .2 5.7.2 0 .2-8.6.1 5.8.2 13 .2-18.8.2-4.4.2 20.3.1-15.9.2 8.6.2-7.2.2 2.9.2 13 .2-2.9.1 0 .2-4.3.2-5.8.2-7.2.2 13 .1-26 .2 40.4.2-5.7.2-18.8.2 14.4.2-2.9.1-8.6.2 23.1.2-17.4.2-8.6.2 8.6.1 7.3.2-14.5.2-5.8.2 8.7.2 1.5.2-1.5.1-2.9.2 4.4.2 11.5.2-4.3.2-8.7.1-1.4.2 14.4.2-2.9.2-23.1.2 11.6.1 20.2.2-13 .2-13 .2-2.9.2 11.6.2 5.7.1-10.1.2-5.8.2 14.5.2-4.3.2 5.7.1 0 .2-11.5.2 10.1.2 5.8.2-18.8.2 8.7.1 8.6.2-10.1.2-4.3.2 1.4.2 4.4.1 21.6.2-28.9.2 15.9.2-4.3.2-4.3.2 7.2.1 0 .2-10.1.2 1.4.2 7.2.2-11.5.1 13 .2-14.5.2 14.5.2 13 .2-5.8.1-15.9.2 1.5.2 0 .2-13 .2 17.3.2-8.7.1-1.4.2 5.8.2-5.8.2 4.3.2-13 .1 14.5.2-7.3.2 14.5.2-7.2.2 11.5.2-7.2.1-7.2.2 2.9.2-2.9.2 15.9.2-7.3.1 2.9.2-14.4.2 4.3.2 0 .2 11.6.2-7.3.1 1.5.2-1.5.2-4.3.2 10.1.2-2.9.1 2.9.2-11.5.2 13 .2-7.3.2-11.5.2 8.7.1-20.3.2 17.4.2 21.6.2-13 .2-5.7.1 8.6.2-18.8.2 10.2.2 5.7.2 5.8.1-5.8.2-11.5.2 18.8.2-15.9.2 2.9.2-4.4.1 4.4.2 8.6.2-8.6.2 7.2.2 4.3.1-7.2.2-18.8.2 24.6.2-4.4.2-2.9.2-15.8.1 24.5.2-2.9.2-5.8.2-13 .2 7.3.1 13 .2-14.5.2 1.5.2-1.5.2 7.2.2-2.8.1 10.1.2-2.9.2-10.1.2 2.9.2 2.8.1 14.5.2-28.9.2 10.1.2 5.8.2 0 .1 10.1.2-21.7.2 24.6.2-7.2.2-13 .2 14.4.1-13 .2-10.1.2 10.1.2-4.3.2 20.2.1-15.9.2 1.5.2-2.9.2 2.9.2 14.4.2-11.6.1-4.3.2 5.8.2 7.2.2-7.2.2 5.8.1-13 .2 15.9.2-14.5.2-5.8.2 7.3.2 4.3.1-1.5.2 5.8.2-5.8.2 11.6.2-10.1.1 7.2.2-7.2.2 17.3.2-13 .2-4.3.2 14.4.1-15.9.2-2.8.2 13 .2-8.7.2-1.5.1 2.9.2 5.8.2-20.2.2 20.2.2-4.3.1-14.5.2 21.7.2-23.1.2 7.2.2 20.2.2-8.6.1-4.4.2 0 .2-14.4.2 18.8.2-4.4.1 8.7.2-8.7.2-10.1.2 21.7.2-7.2.2 7.2.1-21.7.2 23.1.2-18.7.2-2.9.2 7.2.1 0 .2-7.2.2 11.5.2 11.6.2-20.2.2-5.8.1 4.3.2-10.1.2 15.9.2-7.2.2 10.1.1-14.5.2 10.1.2 0 .2-7.2.2 15.9.2-11.5.1 13 .2-1.5.2 0 .2-11.5.2 17.3.1-27.5.2 8.7.2 10.1.2 0 .2-8.6.1 14.4.2-14.4.2 4.3.2 7.2.2-5.8.2 0 .1-2.9.2-4.3.2 13 .2-5.8.2 1.5.1-2.9.2-7.2.2 1.4.2 10.1.2-4.3.2-13 .1 5.8.2 17.3.2-7.2.2-1.5.2 0 .1 5.8.2-18.8.2 13 .2 4.4.2 0 .2 14.4.1-28.9.2 10.1.2 0 .2 2.9.2-5.8.1-8.6.2 10.1.2 10.1.2 2.9.2-14.5.1 7.3.2-1.5.2-5.8.2-7.2.2 0 .2 4.4.1 5.7.2-8.6.2 2.9.2 2.8.2-4.3.1 5.8.2-7.2.2 5.7.2 8.7.2-17.3.2 1.4.1-4.3.2 21.7.2-7.3.2-5.7.2 8.6.1-8.6.2 4.3.2 0 .2 10.1.2-24.6.2 23.2.1-7.3.2-13 .2 5.8.2-2.9.2 10.1.1 0 .2-8.6.2-7.3.2-2.8.2 8.6.2-5.8.1 17.4.2-2.9.2 5.8.2-20.3.2 20.3.1 1.4.2-4.3.2-4.4.2-8.6.2 24.5.1-10.1.2 1.5.2-2.9.2-8.7.2-5.8.2 14.5.1-11.6.2 1.5.2 0 .2 24.5.2-8.6.1-14.5.2 14.5.2 7.2.2-28.9.2 14.4.2-2.9.1 4.4.2-14.5.2 14.5.2 0 .2-2.9.1 1.4.2-2.9.2-14.4.2 18.8.2-8.7.2 7.2.1-17.3.2 5.8.2 5.8.2 7.2.2-18.8.1 5.8.2 2.9.2-5.8.2 18.8.2-20.3.1 10.2.2-5.8.2 15.9.2 7.2.2-21.7.2 1.5.1 10.1.2-7.2.2 5.7.2-11.5.2 1.4.1 0 .2 0 .2 10.1.2 0 .2-7.2.2 8.7.1 2.9.2-2.9.2-2.9.2-1.5.2 5.8.1-5.8.2 2.9.2 1.5.2-4.4.2 5.8.2-8.6.1-4.4.2-2.9.2 10.1.2 7.3.2-10.1.1-13 .2 7.2.2-2.9.2 17.3.2-11.5.2-1.5.1 1.5.2 15.9.2-7.3.2-5.7.2 8.6.1-1.4.2 5.8.2-14.5.2-5.8.2 10.1.1 5.8.2-8.6.2-8.7.2 15.9.2-1.5.2-1.4.1 14.4.2-7.2.2 11.6.2-24.6.2 11.6.1-1.5.2-18.8.2 8.7.2 5.8.2-5.8.2 7.2.1 4.4.2-17.4.2 17.4.2-7.3.2 1.5.1 4.3.2-20.2.2 24.6.2-2.9.2-2.9.2-4.4.1-4.3.2 1.5.2 2.8.2 2.9.2-2.9.1 2.9.2-11.5.2 24.5.2-21.6.2 13 .1-14.5.2-13 .2 10.1.2 5.8.2 8.7.2-8.7.1-4.3.2-5.8.2 14.4.2 1.5.2-1.5.1 11.6.2-15.9.2 7.2.2-1.4.2 1.4.2 2.9.1-18.8.2 10.2.2-4.4.2-4.3.2 20.2.1-8.7.2 4.4.2-10.1.2 8.6.2 0 .2 1.5.1-14.5.2 10.1.2-2.8.2 11.5.2-1.4.1-13 .2 1.4.2 7.2.2-1.4.2-8.7.2 10.1.1-1.4.2-15.9.2 20.2.2-2.9.2-2.9.1 1.5.2-7.2.2 2.9.2 10.1.2-14.5.1 13 .2-1.4.2-18.8.2 2.9.2 11.5.2 0 .1 8.7.2-15.9.2 1.5.2-2.9.2 0 .1 17.3.2-15.9.2 1.5.2 24.5.2-21.6.2 7.2.1-11.6.2 17.4.2-17.4.2-1.4.2-4.4.1 21.7.2-14.4.2 8.6.2 8.7.2-10.1.2 4.3.1-15.9.2 10.1.2 1.5.2-8.7.2 11.6.1-2.9.2-21.7.2 23.1.2-11.5.2 23.1.1-10.1.2-10.1.2 14.4.2-8.7.2-8.6.2 8.6.1-4.3.2-4.3.2 11.5.2-7.2.2-10.1.1 24.6.2-14.5.2 5.8.2 1.4.2 1.5.2-14.5.1 7.3.2 4.3.2-10.1.2 11.5.2 1.5.1-2.9.2 0 .2 1.4.2 4.4.2 0 .2-17.4.1-10.1.2 21.7.2-1.5.2 0 .2 0 .1-2.8.2 4.3.2 2.9.2-10.1.2 7.2.2-1.5.1-11.5.2 20.2.2-1.4.2-2.9.2-11.6.1 10.1.2-5.7.2 11.5.2 5.8.2-17.3.1 11.5.2-11.5.2 13 .2-14.5.2 5.8.2-1.5.1 7.3.2-10.1.2 5.7.2-5.7.2-5.8.1 8.6.2-11.5.2 8.7.2-8.7.2 18.8.2 2.9.1-4.4.2-14.4.2 5.8.2-1.5.2-1.4.1 0 .2 8.6.2-7.2.2 8.7.2-11.6.2-4.3.1 14.4.2-8.6.2 15.9.2-15.9.2 1.4.1-5.8.2 5.8.2-4.3.2 13 .2-14.5.2 26 .1-18.7.2 4.3.2-8.7.2 10.1.2 5.8.1-2.9.2-10.1.2 10.1.2-14.4.2 18.8.1-23.2.2 10.2.2-10.2.2 10.2.2-4.4.2-1.4.1 2.9.2 0 .2 10.1.2 0 .2-4.4.1-5.7.2 7.2.2-14.5.2 14.5.2 2.9.2-1.5.1-14.4.2 2.9.2 18.8.2-5.8.2 1.4.1 1.5.2-1.5.2-17.3.2 4.3.2 7.2.2 14.5.1-8.7.2-2.9.2-1.4.2 5.8.2 7.2.1 0 .2-20.2.2 17.3.2-17.3.2 15.9.1-2.9.2 1.4.2-20.2.2 18.8.2-10.1.2 2.8.1 7.3.2-10.1.2-7.3.2 1.5.2 26 .1-23.1.2 5.7.2 15.9.2-18.7.2-2.9.2 17.3.1-14.4.2 13 .2-13 .2 10.1.2 7.2.1-24.6.2 5.8.2 4.3.2 1.5.2-4.3.2 4.3.1 4.3.2-1.4.2-11.6.2 7.2.2 4.4.1 4.3.2-7.2.2 8.7.2 4.3.2-14.5.2 14.5.1-20.2.2 8.6.2-1.4.2 0 .2 1.4.1 0 .2-7.2.2-10.1.2 15.9.2 4.3.1-17.3.2 17.3.2-14.4.2 13 .2-21.7.2 13 .1-8.7.2 10.2.2 0 .2 10.1.2 7.2.1-18.8.2 13 .2-8.7.2-4.3.2-5.8.2 17.4.1-13 .2 0 .2 11.5.2-1.4.2-8.7.1-18.8.2 34.7.2-5.8.2 10.1.2-5.7.2-21.7.1 28.9.2-27.5"/>
<text class="tk" clip-path="url(#c10)" x="-19.73 0.59" transform="translate(247.00 732.60) scale(0.930 1)">10</text>
<text class="tk" x="-20.81 0.59" transform="translate(392.30 732.60) scale(0.930 1)">20</text>
<text class="tk" x="-20.81 0.59" transform="translate(537.59 732.60) scale(0.930 1)">30</text>
<text class="tk" x="-20.81 0.59" transform="translate(682.88 732.60) scale(0.930 1)">40</text>
<text class="tk" x="-20.81 0.59" transform="translate(828.16 732.60) scale(0.930 1)">50</text>
<text class="tk" x="-20.81 0.59" transform="translate(973.46 732.60) scale(0.930 1)">60</text>
<text class="tk" x="-20.81 0.59" transform="translate(1118.74 732.60) scale(0.930 1)">70</text>
<text class="tk" x="-20.81 0.59" transform="translate(1264.03 732.60) scale(0.930 1)">80</text>
<text class="tk" x="-20.81 0.59" transform="translate(1409.32 732.60) scale(0.930 1)">90</text>
<text class="tk" clip-path="url(#c100m)" x="-31.02 -10.56 10.57" transform="translate(1554.61 732.60) scale(0.930 1)">100</text>
<text class="tk" x="-21.40" transform="translate(161.55 701.60) scale(0.930 1)">0</text>
<text class="tk" clip-path="url(#c100e)" x="-63.55 -42.80 -21.40" transform="translate(161.55 557.15) scale(0.930 1)">100</text>
<text class="tk" x="-64.19 -42.80 -21.40" transform="translate(161.55 412.70) scale(0.930 1)">200</text>
<text class="lb" font-weight="bold" font-size="33.0px" transform="translate(1492.60 615) scale(0.958 1)">B<tspan font-weight="normal" font-size="30.0px" x="24.79" y="-1">)</tspan></text>
</g>
<g id="panel-A">
<path class="t" d="M247.00 1046.90V1035.10M247.00 758.00V769.80M319.65 1046.90V1040.40M319.65 758.00V764.50M392.30 1046.90V1035.10M392.30 758.00V769.80M464.94 1046.90V1040.40M464.94 758.00V764.50M537.59 1046.90V1035.10M537.59 758.00V769.80M610.23 1046.90V1040.40M610.23 758.00V764.50M682.88 1046.90V1035.10M682.88 758.00V769.80M755.52 1046.90V1040.40M755.52 758.00V764.50M828.16 1046.90V1035.10M828.16 758.00V769.80M900.81 1046.90V1040.40M900.81 758.00V764.50M973.46 1046.90V1035.10M973.46 758.00V769.80M1046.10 1046.90V1040.40M1046.10 758.00V764.50M1118.74 1046.90V1035.10M1118.74 758.00V769.80M1191.39 1046.90V1040.40M1191.39 758.00V764.50M1264.03 1046.90V1035.10M1264.03 758.00V769.80M1336.68 1046.90V1040.40M1336.68 758.00V764.50M1409.32 1046.90V1035.10M1409.32 758.00V769.80M1481.97 1046.90V1040.40M1481.97 758.00V764.50M174.10 974.68H180.60M174.10 902.45H185.90M174.10 830.23H180.60"/>
<rect class="fr" x="174.10" y="758.00" width="1380.20" height="288.90"/>
<path class="d" stroke="#000000" d="M174.4 934.2l.1 4.4.2-21.7.2-7.2.2 15.9.2 11.5.1-7.2.2 5.8.2-20.2.2 31.7.2-21.6.2-17.4.1 26 .2 0 .2-2.9.2 0 .2-20.2.1 43.4.2-23.2.2-33.2.2 8.7.2 39 .2-21.7.1 17.4.2-23.2.2-1.4.2 8.7.2 36.1.1-21.7.2-5.8.2 17.4.2-18.8.2-7.2.2 21.6.1 5.8.2-11.5.2 5.7.2-23.1.2 17.4.1-27.5.2 4.3.2 33.3.2-21.7.2-8.7.2 20.3.1-20.3.2 21.7.2-37.6.2 26 .2 18.8.1-39 .2 41.9.2-13 .2 8.7.2-1.5.1-14.4.2 15.9.2 2.9.2-10.1.2-4.4.2 17.4.1-14.5.2 10.1.2-2.9.2-11.5.2 2.9.1-2.9.2 11.5.2 0 .2-24.5.2-7.2.2 23.1.1-18.8.2 31.8.2-31.8.2 14.4.2-17.3.1 23.1.2-4.3.2 2.9.2 7.2.2-7.2.2-1.5.1-1.4.2-14.5.2 11.6.2 28.9.2-26 .1-15.9.2 34.7.2-18.8.2 7.2.2 0 .1 10.1.2-27.4.2 2.9.2 28.8.2-28.8.2 17.3.1-7.2.2 14.4.2-14.4.2-7.3.2-24.5.1 30.3.2 0 .2 17.4.2 2.8.2-23.1.2 8.7.1 18.8.2-26 .2 10.1.2-5.8.2 0 .1 17.3.2-36.1.2 33.3.2-20.3.2 2.9.2 13 .1 1.5.2-4.4.2 2.9.2-11.5.2-17.4.1 20.3.2 0 .2-1.5.2 37.6.2-24.6.2 1.5.1-4.4.2 5.8.2 0 .2 21.7.2-36.1.1 4.3.2 4.3.2-1.4.2-13 .2 7.2.1-1.4.2 24.5.2-30.3.2 14.4.2-8.6.2 7.2.1 5.8.2 2.8.2-1.4.2-17.3.2 7.2.1 4.3.2-11.5.2 10.1.2 17.3.2-26 .2-8.7.1 20.3.2 15.9.2-8.7.2 0 .2-7.2.1-8.7.2 21.7.2-21.7.2 11.6.2 7.2.2 2.9.1-15.9.2 4.3.2-5.8.2 0 .2-14.4.1 20.2.2 24.6.2-31.8.2-2.9.2 13 .2-2.9.1-17.3.2 26 .2 4.3.2-13 .2 15.9.1-20.2.2 23.1.2-14.5.2-17.3.2-7.2.1 26 .2-15.9.2 2.9.2 5.8.2 4.3.2 2.9.1 5.8.2 20.2.2-30.3.2 10.1.2 13 .1-11.6.2-41.9.2 31.8.2-5.8.2 18.8.2-26 .1 4.3.2 15.9.2-1.4.2-4.4.2 17.4.1-20.2.2-8.7.2-8.7.2 26 .2 1.5.2 5.7.1-15.8.2-1.5.2 13 .2-23.1.2 5.8.1 7.2.2 5.8.2 2.9.2-23.1.2 36.1.1-5.8.2 0 .2-4.3.2-11.6.2 8.7.2 4.3.1-20.2.2 18.8.2-1.5.2-30.3.2 31.8.1-8.7.2 2.9.2-4.4.2 20.3.2-26 .2 34.6.1-23.1.2 1.5.2 1.4.2-13 .2 21.7.1-2.9.2-20.2.2 7.2.2 21.7.2-14.5.2 5.8.1 10.1.2-17.3.2 14.4.2-1.4.2-20.3.1-5.7.2-1.5.2 24.6.2-23.1.2 4.3.2-1.4.1 7.2.2-4.4.2-1.4.2 1.4.2-5.7.1 18.7.2 11.6.2-18.8.2 15.9.2-7.2.1-17.3.2 18.7.2-15.9.2 15.9.2 5.8.2-20.2.1 23.1.2-18.8.2 10.1.2-20.2.2 21.7.1 2.9.2-8.7.2 13 .2-8.7.2-21.6.2 20.2.1 1.4.2-15.9.2 7.3.2 0 .2 10.1.1-8.7.2 8.7.2-28.9.2 33.2.2-26 .2 20.2.1-15.9.2 7.3.2 7.2.2-7.2.2-1.5.1 8.7.2-28.9.2 31.8.2 8.6.2 5.8.1-8.6.2-8.7.2 15.9.2-7.2.2-13 .2-8.7.1 18.8.2 0 .2-5.8.2 7.2.2-13 .1 5.8.2-2.9.2 13 .2-8.7.2 5.8.2-8.7.1-5.7.2 13 .2 17.3.2-11.6.2-15.8.1 2.8.2-18.7.2 13 .2 14.4.2 0 .2-36.1.1 37.6.2-17.4.2-11.5.2 50.5.2-17.3.1-13 .2 10.1.2-8.7.2-1.4.2 1.4.2 10.1.1-18.7.2 17.3.2-1.4.2-10.2.2 8.7.1-27.4.2 21.6.2-2.9.2-14.4.2 23.1.1-20.2.2 10.1.2 28.9.2-13 .2-7.2.2-4.4.1 5.8.2 5.8.2-7.2.2 4.3.2-10.1.1-5.8.2 0 .2 11.6.2-7.3.2 24.6.2-17.3.1 18.7.2-7.2.2-20.2.2 0 .2 17.3.1-18.7.2 30.3.2 0 .2-23.1.2 2.9.2-8.7.1-2.9.2 14.5.2-1.5.2-7.2.2 5.8.1 14.4.2-11.5.2 13 .2-1.5.2-4.3.1 10.1.2-31.8.2 21.7.2 1.4.2-21.6.2 14.4.1-1.4.2 2.8.2 0 .2-14.4.2 15.9.1-28.9.2 17.3.2 1.5.2 0 .2 2.9.2 0 .1 5.7.2-2.8.2 4.3.2 13 .2-14.5.1 10.2.2-18.8.2 7.2.2-11.6.2 26 .2-13 .1 2.9.2-24.5.2 36.1.2-17.3.2 4.3.1 4.3.2-14.4.2 14.4.2-5.8.2 17.4.2-11.6.1-4.3.2 0 .2-4.3.2 5.7.2-5.7.1 8.6.2 4.4.2 0 .2-8.7.2 2.9.1-4.4.2 13 .2-1.4.2-7.2.2 13 .2 4.3.1-17.3.2-5.8.2 5.8.2-4.4.2-1.4.1-2.9.2 7.2.2 5.8.2-2.9.2 4.4.2-4.4.1-15.9.2 23.1.2-14.4.2 1.4.2-11.5.1 28.9.2-11.6.2-5.8.2 11.6.2-10.1.2-1.5.1 1.5.2 7.2.2 0 .2-11.5.2 14.4.1 14.4.2-17.3.2 7.2.2-11.5.2-1.5.2 10.1.1-13 .2 8.7.2-10.1.2 1.4.2-8.6.1 21.6.2-21.6.2 13 .2 0 .2-1.5.1 5.8.2-4.3.2-4.4.2-5.7.2 7.2.2 8.7.1-10.2.2 20.3.2-37.6.2 23.1.2-2.9.1 8.7.2-11.6.2 0 .2 14.5.2-2.9.2 15.9.1-23.1.2 4.3.2 4.3.2 13 .2-23.1.1-1.4.2 7.2.2 11.6.2-14.5.2 4.4.2-10.2.1 15.9.2-5.7.2 2.8.2-1.4.2 5.8.1-13 .2 5.8.2-4.4.2-8.6.2 7.2.1 1.4.2 4.4.2 2.8.2 2.9.2 1.5.2-1.5.1-10.1.2 11.6.2-1.5.2-1.4.2 0 .1-4.3.2 2.8.2-10.1.2 17.4.2-8.7.2-15.9.1 10.1.2 10.1.2-10.1.2-2.9.2 8.7.1 4.3.2-7.2.2 13 .2-24.5.2 11.5.2 0 .1 14.5.2-7.3.2-20.2.2 20.2.2-7.2.1 5.8.2 8.7.2-11.6.2-5.8.2 11.6.2 5.8.1-23.2.2 23.2.2 0 .2-13 .2-5.8.1 10.1.2 11.5.2-4.3.2-1.4.2-4.4.1 2.9.2-20.2.2 5.8.2 11.5.2 4.4.2-15.9.1 4.3.2 8.7.2-4.4.2-10.1.2 18.8.1-15.9.2 17.4.2-2.9.2-8.7.2 10.1.2-8.7.1-4.3.2 11.6.2-15.9.2 13 .2-1.5.1 2.9.2 0 .2-7.2.2-15.9.2 13 .2-2.9.1 8.7.2 11.5.2 1.5.2 2.9.2-26 .1 15.9.2 0 .2-4.4.2 5.8.2-11.5.1 0 .2 11.5.2 4.3.2-26 .2 18.8.2 8.7.1-11.6.2-5.7.2-1.5.2 20.2.2-14.4.1 5.8.2-23.1.2 21.6.2-15.9.2 17.4.2 2.9.1-27.5.2 18.8.2 21.7.2-24.6.2 8.7.1-7.3.2 7.3.2 0 .2 0 .2-10.1.2 7.2.1-11.6.2 0 .2 15.9.2 0 .2-5.8.1 5.8.2-5.8.2-4.3.2-5.8.2 2.9.2-2.9.1 23.1.2-10.1.2-7.2.2 5.8.2 4.3.1-1.4.2-4.4.2 10.1.2 7.3.2-17.4.1 7.3.2 7.2.2-14.5.2-14.4.2 15.9.2 8.6.1-8.6.2 0 .2-5.8.2-8.7.2 2.9.1 21.7.2-21.7.2 17.4.2-18.8.2 17.3.2 4.3.1-11.5.2-1.5.2 14.5.2-10.1.2 2.9.1 0 .2-5.8.2-1.5.2 0 .2-1.4.2-10.1.1 24.5.2-26 .2 15.9.2-10.1.2 8.7.1-1.5.2 4.4.2-1.5.2-5.7.2 0 .1 4.3.2-8.7.2 4.4.2-5.8.2-5.8.2 20.2.1-7.2.2 1.4.2 0 .2 5.8.2 7.2.1-15.8.2 7.2.2 1.4.2 1.5.2-7.3.2 1.5.1 4.3.2-7.2.2 10.1.2 4.3.2-7.2.1-8.6.2 7.2.2 8.6.2-14.4.2 1.4.2 13 .1-2.8.2 2.8.2-23.1.2-5.7.2 17.3.1 1.4.2 5.8.2 1.5.2 4.3.2-13 .2 0 .1 2.9.2 10.1.2 0 .2-17.3.2 18.7.1-15.9.2 1.5.2 13 .2-15.9.2 7.2.1 0 .2 1.5.2-8.7.2 23.1.2-17.3.2 13 .1-20.2.2 4.3.2-11.6.2 20.3.2-8.7.1 0 .2-8.7.2 11.6.2 1.4.2-15.9.2-2.9.1 17.4.2 0 .2 2.9.2-5.8.2 14.4.1-11.5.2-7.2.2 0 .2 4.3.2-1.5.2 0 .1 2.9.2 11.6.2-21.7.2-1.4.2 0 .1-2.9.2 13 .2 4.3.2-10.1.2 5.8.2 0 .1-2.9.2 21.7.2-14.5.2-2.9.2 20.3.1-15.9.2-7.3.2 8.7.2-11.5.2 21.6.1-11.5.2-18.8.2 21.7.2-7.3.2 11.6.2-1.5.1-11.5.2 13 .2-24.6.2 0 .2 18.8.1-10.1.2 8.7.2-4.4.2 14.5.2 0 .2-26 .1-4.4.2 11.6.2 11.6.2-10.2.2 4.4.1 8.6.2-23.1.2 10.1.2 14.5.2-11.6.2 11.6.1-26 .2 17.3.2 8.7.2-4.3.2-10.2.1 0 .2 13 .2-7.2.2 11.6.2-20.2.1 2.8.2 1.5.2 4.3.2 10.1.2-41.9.2 23.2.1 2.8.2 1.5.2-4.3.2 10.1.2 1.4.1-7.2.2-10.1.2 23.1.2-4.3.2-14.5.2 0 .1 14.5.2 4.3.2-13 .2 4.3.2-28.9.1 26 .2 2.9.2 8.7.2-11.6.2 0 .2-5.7.1 17.3.2-8.7.2 10.1.2-18.7.2 15.8.1-5.7.2 2.9.2-2.9.2 0 .2 2.9.2 2.8.1-14.4.2 7.2.2 0 .2-2.9.2-18.7.1 18.7.2 11.6.2-7.2.2-8.7.2-1.4.1 11.5.2-11.5.2-5.8.2 5.8.2 7.2.2-4.4.1 1.5.2 4.3.2-5.8.2-14.4.2 13 .1 11.6.2-8.7.2-5.8.2-2.9.2 0 .2 14.5.1-11.6.2 14.5.2 7.2.2-11.6.2-5.8.1 2.9.2 0 .2 0 .2 0 .2-1.4.2-23.1.1 28.9.2-5.8.2 20.2.2-24.5.2 7.2.1-14.5.2 10.1.2 1.5.2-15.9.2 24.6.1 0 .2-8.7.2-10.1.2 7.2.2 0 .2 1.4.1-2.8.2 0 .2-5.8.2 1.4.2-1.4.1 0 .2-1.5.2-1.4.2-2.9.2 1.4.2 23.2.1-40.5.2 17.3.2 1.5.2 2.9.2 1.4.1 10.1.2 2.9.2 4.4.2 5.7.2-5.7.2-28.9.1 17.3.2 1.4.2-13 .2 17.4.2-18.8.1 24.6.2-26 .2-7.3.2 27.5.2-20.2.2 17.3.1 14.4.2-14.4.2-27.5.2 17.4.2 7.2.1-1.4.2-1.5.2 2.9.2-23.1.2 20.2.1 5.8.2 1.4.2-17.3.2-8.7.2 13 .2-1.4.1 14.4.2-1.4.2-15.9.2 11.6.2-4.4.1 8.7.2-14.5.2-2.8.2 20.2.2-11.6.2 0 .1 4.4.2-8.7.2 21.7.2-17.4.2 2.9.1 2.9.2-20.2.2 13 .2-8.7.2 7.2.2 1.5.1-1.5.2 5.8.2 1.5.2-5.8.2 7.2.1 2.9.2-15.9.2 18.8.2-23.1.2-5.8.1 20.2.2-18.8.2 7.3.2 14.4.2-8.7.2 5.8.1-4.3.2 7.2.2-24.6.2 13 .2 13 .1-27.4.2 23.1.2 1.5.2 1.4.2 7.2.2-5.8.1-2.8.2-8.7.2 4.3.2 5.8.2-10.1.1 20.2.2-21.7.2 14.5.2 5.8.2-18.8.2-10.1.1 7.2.2 7.2.2-2.9.2 10.1.2-11.5.1-1.5.2-8.6.2 11.5.2 7.3.2-18.8.2 23.1.1-27.5.2 1.5.2-2.9.2 13 .2 7.2.1-8.6.2 4.3.2-14.5.2 26 .2-21.6.1 21.6.2-14.4.2-2.9.2 0 .2 7.2.2-7.2.1 13 .2 8.7.2-28.9.2 5.8.2 5.7.1-11.5.2 17.3.2-10.1.2 5.8.2-1.5.2 0 .1-11.5.2 8.7.2 11.5.2-14.4.2-15.9.1 47.6.2-27.4.2-1.4.2-2.9.2 7.2.2 8.7.1-7.3.2-15.9.2-1.4.2 23.1.2-23.1.1 15.9.2 1.4.2-13 .2-8.6.2 30.3.1-8.7.2-8.6.2 4.3.2-1.4.2 0 .2-13 .1 15.8.2 4.4.2-10.1.2 0 .2-14.5.1 14.5.2-2.9.2-7.2.2 0 .2 15.8.2 4.4.1-17.4.2-5.7.2 2.9.2 5.7.2 18.8.1-11.5.2-5.8.2-18.8.2 5.8.2 20.2.2 2.9.1-23.1.2 24.5.2-23.1.2 5.8.2 14.4.1-27.4.2 11.6.2 4.3.2 8.7.2-13 .2 7.2.1 7.2.2-13 .2 8.7.2-8.7.2-14.4.1 15.8.2 13 .2-31.7.2 17.3.2 0 .1 1.4.2-5.7.2-7.3.2 13 .2 0 .2 8.7.1 1.5.2-10.2.2-2.8.2 10.1.2-13 .1 1.4.2-1.4.2 1.4.2 18.8.2-30.3.2 28.8.1-18.7.2 14.4.2-14.4.2 0 .2 1.4.1 8.7.2-20.2.2 24.5.2-10.1.2 5.8.2 10.1.1-18.8.2 14.5.2-11.6.2-1.4.2-13 .1 27.4.2-10.1.2-7.2.2-2.9.2-8.7.2 34.7.1-15.9.2 11.5.2-41.8.2 31.7.2-18.7.1 23.1.2-4.4.2-10.1.2 5.8.2 18.8.1-15.9.2-7.2.2 13 .2-21.7.2-1.4.2 18.7.1-7.2.2 5.8.2-8.7.2 2.9.2-13 .1 15.9.2 10.1.2-13 .2 5.8.2-14.5.2 8.7.1 26 .2-28.9.2 5.8.2 13 .2-17.3.1 0 .2-10.1.2 11.5.2-10.1.2 1.4.2 17.4.1-20.2.2 13 .2-27.5.2 17.3.2 0 .1 13 .2-8.6.2 7.2.2 0 .2-10.1.1 13 .2-2.9.2-4.3.2 1.4.2 11.6.2-18.8.1 13 .2-23.1.2 18.8.2-1.5.2 4.3.1-5.7.2-8.7.2-4.3.2 17.3.2 10.1.2-10.1.1-5.8.2 7.2.2-4.3.2-7.2.2 24.5.1-24.5.2 4.3.2 4.4.2-10.2.2 1.5.2 20.2.1-5.8.2 13 .2-36.1.2-2.9.2 36.1.1-17.3.2-8.7.2-4.3.2-7.2.2-4.3.2 31.7.1-8.6.2-10.1.2-5.8.2 26 .2-5.8.1 15.9.2-14.5.2-2.8.2-28.9.2 20.2.1 13 .2 8.7.2-26 .2 0 .2-14.5.2 10.1.1 0 .2 20.2.2-1.4.2 2.9.2-13 .1 11.5.2-8.6.2 1.4.2-13 .2 18.8.2-2.9.1-7.2.2 14.4.2-21.6.2 5.7.2-2.8.1 4.3.2-13 .2-7.2.2 26 .2-5.8.2-15.9.1 5.8.2 4.3.2-10.1.2 23.1.2-2.9.1-10.1.2-2.9.2 14.5.2-5.8.2-15.9.1 15.9.2 8.7.2-1.5.2-20.2.2 34.7.2-14.5.1 7.2.2-7.2.2 1.5.2-11.6.2-1.4.1 1.4.2-1.4.2-7.3.2 52 .2-14.4.2-11.6.1-5.7.2-27.5.2 7.2.2 2.9.2-10.1.1 1.5.2 24.5.2-13 .2 4.3.2-10.1.2-4.3.1 7.2.2-7.2.2 10.1.2 4.3.2 17.4.1-47.7.2 28.9.2 14.4.2-40.4.2 27.4.2 15.9.1-26 .2-10.1.2 5.8.2 23.1.2-28.9.1 36.1.2 0 .2-20.2.2 24.6.2-7.3.1-7.2.2-10.1.2 26 .2-31.8.2-10.1.2-11.5.1 23.1.2 1.4.2 23.1.2-14.4.2 0 .1-33.2.2 31.7.2-2.8.2-1.5.2 2.9.2 14.4.1-23.1.2-14.4.2 20.2.2 18.8.2-21.7.1 2.9.2 8.7.2-27.5.2 31.8.2 2.9.2-8.7.1-15.9.2 10.2.2-8.7.2 14.4.2-20.2.1 2.9.2-7.2.2 18.8.2 7.2.2-24.6.1 40.5.2-33.3.2 2.9.2 4.4.2 13 .2-20.3.1-4.3.2 1.5.2 1.4.2 11.6.2-2.9.1 1.4.2 14.5.2-14.5.2-21.7.2 18.8.2-27.4.1 7.2.2 5.8.2 2.9.2 10.1.2-15.9.1 18.8.2-21.7.2-13 .2 26 .2 5.8.2-21.7.1 28.9.2-7.2.2 5.8.2-39 .2 17.3.1-7.2.2 24.5.2-37.5.2 27.4.2-7.2.2-5.8.1 13 .2-1.4.2-36.2.2-5.7.2 41.9.1-36.2.2 40.5.2-27.4.2-4.4.2 13 .1 8.7.2-2.9.2-13 .2-4.3.2 1.4.2 13 .1 20.2.2-49.1.2 44.8.2 4.3.2-21.6.1-2.9.2 2.9.2 7.2.2-1.5.2-10.1.2 14.5.1-2.9.2 14.4.2-13 .2 24.6.2-34.7.1-17.3.2 52 .2-30.3.2 24.5.2 2.9.2-15.9.1-5.8.2 17.4.2-8.7.2-2.9.2 8.7.1-5.8.2-10.1.2-4.3.2 23.1.2-5.8.2 0 .1 0 .2 13 .2-8.7.2 18.8.2-26 .1-4.3.2 27.4.2-14.4.2-2.9.2 1.4.1 10.1.2-17.3.2 4.3.2 7.3.2-17.4.2 36.1.1-20.2.2-24.5.2 37.5.2-14.4.2-7.3.1 15.9.2-17.3.2 17.3.2-20.2.2 27.5.2-17.4.1-18.8.2 28.9.2-10.1.2 13 .2-39 .1 13 .2-11.5.2 30.3.2 7.2.2-11.5.2 10.1.1-27.5.2 27.5.2-20.2.2 17.3.2-13 .1 21.7.2-24.6.2 5.8.2 2.9.2 15.9.1 2.8.2-28.8.2 10.1.2-17.4.2 23.1.2-18.7.1 15.9.2 11.5.2-18.8.2 8.7.2-8.7.1 8.7.2-17.3.2 18.7.2 7.3.2-2.9.2-8.7.1-1.4.2-2.9.2 2.9.2 0 .2 11.5.1-7.2.2 5.8.2 4.3.2-26 .2 0 .2 27.5.1-1.5.2-24.5.2 24.5.2-17.3.2-13 .1 14.4.2 11.6.2 11.5.2-37.5.2 18.8.2-2.9.1 5.7.2-11.5.2 5.8.2-20.3.2 20.3.1-11.6.2 23.1.2-23.1.2 5.8.2 11.5.1 24.6.2-31.8.2 18.8.2-15.9.2-2.9.2 5.8.1-13 .2 7.2.2 14.5.2 2.9.2-31.8.1 21.6.2-27.4.2 28.9.2 8.7.2-2.9.2-26 .1 10.1.2-1.5.2 4.4.2 0 .2-8.7.1-4.3.2 24.5.2-5.8.2-1.4.2 5.8.2-8.7.1 1.5.2 11.5.2 7.2.2-30.3.2 20.2.1-8.6.2 7.2.2-10.1.2-10.1.2 10.1.1-4.4.2 17.4.2-8.7.2-5.8.2 2.9.2-15.9.1 5.8.2 5.8.2 13 .2-18.8.2 5.8.1 5.8.2 1.4.2-24.6.2 20.3.2 17.3.2-20.2.1-7.2.2 11.5.2-2.9.2 21.7.2-37.6.1 21.7.2-2.9.2-13 .2 11.6.2 2.9.2-14.5.1-14.4.2 20.2.2-5.8.2 21.7.2 4.3.1-18.8.2 8.7.2 2.9.2 4.3.2-11.5.2 7.2.1-10.1.2 1.4.2-24.5.2 36.1.2-5.8.1-17.3.2 11.5.2-4.3.2 2.9.2 15.9.1-13 .2 21.6.2-31.7.2 10.1.2 11.5.2 2.9.1-18.8.2 1.5.2 28.9.2-15.9.2 2.9.1-14.5.2-7.2.2-4.3.2 20.2.2 8.7.2-11.6.1-14.4.2-5.8.2 4.3.2 31.8.2 7.2.1-11.5.2-13 .2-1.5.2-30.3.2 43.3.2-27.4.1-1.5.2 26 .2 1.5.2-13 .2 10.1.1-7.2.2 11.5.2 4.3.2-14.4.2 10.1.1 0 .2-15.9.2 15.9.2-17.3.2-7.2.2 4.3.1-10.1.2 23.1.2-26 .2 21.7.2 10.1.1-23.1.2 7.2.2 5.8.2 11.5.2-11.5.2 14.4.1 0 .2-18.8.2 0 .2 2.9.2 17.3.1-2.8.2-26 .2 28.8.2-8.6.2 11.5.2-5.7.1 1.4.2-23.1.2-5.8.2-7.2.2 17.3.1 5.8.2 0 .2-1.4.2-11.6.2 13 .2-24.6.1 24.6.2-17.3.2 28.9.2-24.6.2 13 .1-13 .2 23.1.2-11.5.2 0 .2 2.8.1-5.7.2-2.9.2-13 .2 33.2.2-10.1.2-18.8.1 18.8.2-8.7.2 5.8.2 1.4.2-4.3.1-2.9.2-10.1.2-18.8.2 49.1.2-20.2.2 11.6.1 2.9.2-21.7.2-4.3.2 17.3.2-20.2.1 11.5.2 17.4.2-11.6.2 5.8.2-4.3.2 13 .1-4.4.2-24.5.2 1.4.2 15.9.2 2.9.1-27.5.2 23.2.2-5.8.2 5.8.2 1.4.1-17.3.2 1.4.2 0 .2 30.3.2-21.6.2-15.9.1 36.1.2-14.4.2-4.4.2 13 .2-27.4.1 18.8.2-27.5.2 28.9.2 1.4.2-20.2.2-1.4.1 7.2.2 7.2.2-1.4.2-1.5.2-4.3.1 14.4.2-23.1.2 11.6.2 1.4.2 7.3.2-2.9.1-1.5.2-4.3.2 31.8.2-28.9.2 17.3.1-14.4.2 14.4.2-10.1.2-15.9.2 13 .2 1.5.1-4.4.2-2.9.2-7.2.2 10.1.2 2.9.1-28.9.2 49.1.2-34.6.2 13 .2 2.9.1-5.8.2 7.2.2 4.3.2-21.6.2 26 .2-18.8.1-1.5.2 36.2.2-52 .2 14.4.2-8.7.1 28.9.2-36.1.2 26 .2 15.9.2-8.7.2-11.5.1-17.4.2 23.2.2-13 .2-10.2.2 27.5.1-17.3.2-2.9.2 8.6.2 11.6.2-4.3.2-1.5.1 14.5.2-26 .2 23.1.2-14.5.2 8.7.1-26 .2 17.3.2 10.1.2-36.1.2 21.7.2-17.3.1 34.6.2-39 .2 7.2.2 5.8.2 18.8.1-4.3.2-26 .2 21.6.2 0 .2-20.2.1 8.7.2 18.8.2-10.2.2 4.4.2 5.8.2-21.7.1-24.6.2-2.9.2 13 .2 49.2.2-49.2.1 30.4.2-14.5.2-4.3.2 10.1.2-11.5.2 5.7.1-17.3.2-4.3.2 8.6.2 26 .2-13 .1-5.7.2-23.2.2 28.9.2-10.1.2-10.1.2-7.2.1 15.9.2-2.9.2 0 .2 13 .2-13 .1 27.4.2-1.4.2-24.6.2 20.3.2-36.2.1 21.7.2 11.6.2-15.9.2 0 .2 1.4.2 5.8.1-8.7.2 4.4.2 20.2.2 2.9.2-28.9.1 7.2.2-2.9.2 10.1.2-1.4.2 13 .2-10.1.1-10.1.2-5.8.2 50.5.2-18.7.2-10.1.1 18.7.2-1.4.2 2.9.2-14.5.2 15.9.2-21.6.1 18.7.2-18.7.2 36.1.2-17.4.2-27.4.1 14.4.2-1.4.2 17.3.2-34.6.2 24.5.2-27.4.1 0 .2 26 .2 5.7.2-10.1.2 8.7.1 0 .2-8.7.2-21.6.2 17.3.2 1.4.1 4.4.2 14.4.2-17.3.2-7.2.2-2.9.2 28.9.1-7.3.2-1.4.2-26 .2 18.8.2-8.7.1 17.3.2 7.3.2-26 .2 0 .2 1.4.2 7.2.1 8.7.2-7.2.2 7.2.2 7.2.2-15.9.1-15.9.2 15.9.2 10.1.2-17.3.2 15.9.2-5.8.1 1.5.2 2.9.2 1.4.2-2.9.2-31.8.1 13 .2 24.6.2 10.1.2-26 .2 15.9.1-26 .2 18.8.2 1.4.2 8.7.2-30.4.2 5.8.1 2.9.2-8.7.2 21.7.2 1.5.2 4.3.1 4.3.2-7.2.2-1.4.2 0 .2-14.5.2 10.1.1-17.3.2 8.7.2 26 .2-11.6.2-15.9.1 26 .2-20.2.2 10.1.2 13 .2-20.2.2 13 .1-11.6.2-13 .2 21.7.2 15.9.2-15.9.1-17.3.2 21.6.2 1.5.2-18.8.2 13 .2-24.6.1 20.3.2 0 .2-2.9.2 11.5.2 0 .1 7.2.2-18.7.2 5.7.2 8.7.2-10.1.1-8.7.2 17.4.2-15.9.2 31.8.2-24.6.2-2.9.1-7.2.2 0 .2 17.3.2-8.6.2 0 .1-7.3.2-15.9.2 46.3.2-28.9.2 20.2.2-27.4.1-8.7.2 15.9.2 14.4.2 2.9.2-20.2.1 13 .2-5.8.2 14.5.2-1.5.2-17.3.2 20.2.1-27.4.2 5.7.2 11.6.2-15.9.2 8.7.1 10.1.2-5.8.2-10.1.2 20.2.2-8.7.1 5.8.2-1.4.2-7.2.2-17.4.2 28.9.2 0 .1-17.3.2 23.1.2-5.8.2-7.2.2 8.7.1-26 .2 30.3.2-1.5.2-13 .2 5.8.2 14.5.1-30.4.2 11.6.2-1.5.2 31.8.2-21.6.1 13 .2-24.6.2 14.4.2-1.4.2 1.4.2-13 .1 1.5.2 5.8.2-10.1.2 8.6.2-8.6.1-7.3.2 27.5.2-5.8.2 11.6.2-26 .2-8.7.1 7.2.2 30.3.2-10.1.2 7.3.2-15.9.1 7.2.2-13 .2 13 .2-1.5.2 1.5.1 1.4.2 4.4.2-20.3.2 4.4.2 2.9.2-2.9.1 15.9.2-18.8.2 27.4.2-14.4.2-8.7.1 24.6.2-10.1.2 1.4.2-27.4.2 21.6.2-15.9.1 21.7.2 7.2.2-18.7.2 0 .2 0 .1 14.4.2-1.4.2 5.7.2-40.4.2 28.9.2 10.1.1-30.3.2 7.2.2 20.2.2-18.8.2 4.4.1 1.4.2 10.1.2 1.5.2-7.3.2-5.7.2 18.7.1-11.5.2-7.2.2 24.5.2-13 .2-10.1.1 14.4.2 4.4.2-15.9.2 14.4.2-5.7.1-11.6.2 14.4.2 11.6.2-1.4.2 13 .2-31.8.1-1.5.2 8.7.2 4.3.2-14.4.2 0 .1-10.1.2 11.5.2 1.5.2-1.5.2-1.4.2-2.9.1 5.8.2-15.9.2 27.4.2-1.4.2-20.2.1 21.6.2 13 .2-44.7.2 23.1.2 4.3.2-31.8.1 23.1.2 21.7.2-28.9.2 18.8.2 10.1.1-23.1.2 27.4.2-24.5.2 20.2.2-26 .1 10.1.2 8.7.2-13 .2 0 .2 5.8.2-14.5.1 20.2.2 8.7.2-21.7.2-5.7.2 17.3.1-4.3.2 2.8.2-8.6.2 23.1.2-2.9.2-10.1.1 14.4.2-15.9.2-8.6.2 14.4.2 14.5.1-26 .2 7.2.2-5.8.2-4.3.2 8.6.2-14.4.1 13 .2 15.9.2-23.1.2 5.8.2-7.3.1 10.1.2 8.7.2-11.5.2-1.5.2 20.2.2-24.5.1 8.6.2-17.3.2-1.4.2 23.1.2 14.4.1-10.1.2-5.8.2 0 .2-1.4.2 4.3.1-5.8.2 14.5.2-18.8.2 1.5.2 18.7.2 1.5.1-17.4.2 8.7.2 1.5.2 0 .2-5.8.1 4.3.2 11.6.2-21.7.2-15.9.2 44.8.2-17.3.1-10.2.2-4.3.2-5.8.2 8.7.2 15.9.1-5.8.2 10.1.2-5.8.2-13 .2 4.4.2 10.1.1 0 .2 1.4.2-17.3.2 1.4.2 21.7.1-7.2.2-26 .2 13 .2-2.9.2 0 .1 7.2.2 2.9.2 4.3.2 5.8.2-10.1.2-2.9.1 4.4.2-10.2.2-5.7.2 23.1.2 0 .1-17.4.2 0 .2 13 .2-4.3.2-4.3.2-4.4.1 13 .2 15.9.2-13 .2 0 .2-5.7.1 5.7.2-2.9.2 0 .2-11.5.2 17.3.2-7.2.1-2.9.2 0 .2 10.1.2-7.2.2 5.8.1 8.6.2-24.5.2 18.8.2-8.7.2 2.9.2 5.8.1-10.1.2-8.7.2 27.4.2-24.5.2-15.9.1 0 .2 23.1.2-15.9.2 15.9.2 0 .1 5.8.2-1.5.2 7.3.2-2.9.2-20.3.2 17.4.1-14.5.2 8.7.2 5.8.2-18.8.2 5.8.1-5.8.2 10.1.2-10.1.2 21.7.2-18.8.2-4.3.1 0 .2 20.2.2-2.9.2 7.2.2-5.8.1-4.3.2 2.9.2-4.3.2-4.4.2 7.2.2 4.4.1-4.4.2 4.4.2-1.5.2 5.8.2-7.2.1 7.2.2-21.7.2 11.6.2 1.4.2 15.9.1-10.1.2-4.3.2-11.6.2 11.6.2-8.7.2 11.6.1-13 .2-2.9.2-5.8.2 17.3.2 4.4.1 0 .2-2.9.2 2.9.2-4.4.2 10.2.2-18.8.1 7.2.2 4.3.2-1.4.2 4.3.2-13 .1-2.9.2 26 .2-5.7.2-2.9.2-1.5.2-21.6.1 28.8.2-20.2.2 14.5.2-17.4.2 2.9.1 13 .2-5.8.2-2.8.2 0 .2 7.2.2-2.9.1 11.5.2-15.8.2-5.8.2 10.1.2-2.9.1 5.8.2-1.5.2-11.5.2 8.6.2-2.8.1-11.6.2 0 .2 11.6.2 20.2.2-18.8.2-7.2.1 15.9.2-7.3.2 1.5.2 15.9.2-4.4.1-11.5.2-5.8.2-7.2.2 17.3.2-18.8.2 10.2.1-8.7.2 2.9.2 11.5.2-10.1.2-7.2.1 20.2.2-21.6.2 31.7.2-8.6.2-18.8.2 13 .1-5.8.2 8.7.2-5.8.2 0 .2 5.8.1-4.4.2-4.3.2 11.6.2-5.8.2 8.7.1-18.8.2 8.6.2-7.2.2 17.4.2 5.7.2-18.7.1-5.8.2 8.6.2 5.8.2-10.1.2 0 .1 4.3.2 7.3.2 2.9.2-5.8.2 0 .2-7.2.1 1.4.2 10.1.2 8.7.2-30.4.2 11.6.1 5.8.2 1.4.2 0 .2-17.3.2 14.4.2 0 .1 7.3.2-7.3.2-10.1.2 7.2.2-1.4.1-10.1.2 11.5.2-2.8.2 13 .2 0 .2-20.3.1 23.1.2-13 .2 10.2.2-10.2.2 5.8.1-2.9.2 1.5.2-7.2.2 18.7.2-14.4.1 5.8.2-20.3.2 13 .2 2.9.2-5.7.2 10.1.1 5.7.2-23.1.2 13 .2-4.3.2-11.6.1 15.9.2 10.1.2-7.2.2-4.3.2 8.7.2-7.3.1 0 .2-7.2.2 1.5.2 7.2.2 1.4.1-10.1.2-5.8.2-2.9.2 5.8.2-2.9.2 7.3.1 1.4.2 14.4.2-8.6.2 2.9.2-14.5.1-7.2.2 11.6.2-10.2.2 14.5.2 15.9.2-21.7.1 8.7.2-7.2.2 13 .2-10.2.2-4.3.1 17.3.2-7.2.2-20.2.2 33.2.2-18.8.1 7.3.2 7.2.2-7.2.2 10.1.2-14.5.2 0 .1-10.1.2 21.7.2 0 .2-8.7.2 8.7.1-1.5.2-2.8.2-14.5.2 10.1.2-4.3.2 15.9.1-31.8.2 24.6.2-24.6.2 15.9.2 17.3.1-26 .2 15.9.2-24.5.2 33.2.2-7.2.2-4.4.1 4.4.2 0 .2-11.6.2-5.8.2-10.1.1 31.8.2-24.6.2 27.5.2-2.9.2-7.2.1-4.4.2-10.1.2 4.4.2 8.6.2 1.5.2-1.5.1-1.4.2 15.9.2-21.7.2 7.2.2 1.5.1-18.8.2 31.8.2-24.6.2 7.2.2 0 .2-5.7.1-14.5.2 26 .2-17.3.2-5.8.2 0 .1 17.3.2 7.3.2-11.6.2 0 .2-1.4.2 0 .1 7.2.2 0 .2-4.4.2 7.3.2-4.4.1 1.5.2-11.6.2-2.9.2 15.9.2 0 .2-2.9.1-2.9.2-4.3.2 13 .2-10.1.2 21.7.1-21.7.2 14.4.2-5.7.2-17.4.2 14.5.1-4.4.2 7.3.2-15.9.2 13 .2-1.5.2 2.9.1-5.8.2-7.2.2 4.4.2 20.2.2-11.6.1-13 .2-1.4.2 5.8.2 5.7.2 1.5.2-1.5.1-1.4.2-1.5.2 7.3.2-11.6.2 7.2.1-1.4.2 0 .2 0 .2-1.5.2 14.5.2-17.3.1-5.8.2 14.4.2-13 .2 7.2.2-7.2.1-2.9.2 11.6.2 5.8.2 2.9.2 0 .1-4.4.2-15.9.2 33.3.2-23.2.2-7.2.2 10.1.1-2.9.2 10.2.2-21.7.2 7.2.2 1.5.1 5.7.2-2.9.2 10.2.2-11.6.2 4.3.2 5.8.1-7.2.2 11.5.2 4.4.2-7.2.2-7.3.1 0 .2-15.9.2 17.4.2-11.6.2 17.4.2-11.6.1 10.1.2-11.5.2-7.3.2 10.1.2 2.9.1-4.3.2-11.6.2 14.5.2-5.8.2 14.5.2-7.3.1-5.7.2 10.1.2-18.8.2 14.4.2-1.4.1 0 .2-1.5.2 24.6.2-31.8.2 8.7.1-4.3.2 1.4.2 18.8.2-15.9.2 0 .2 4.3.1-2.9.2 11.6.2-18.8.2 13 .2-21.7.1 11.6.2 4.3.2-5.7.2 4.3.2 2.9.2 1.4.1-13 .2 7.2.2 4.4.2-11.6.2 7.2.1 0 .2 1.5.2-4.3.2-4.4.2-15.9.2 18.8.1 1.5.2 21.6.2-5.8.2-4.3.2-8.7.1-2.8.2 0 .2 4.3.2 4.3.2-15.9.1 14.5.2 8.6.2 10.2.2-24.6.2 7.2.2-1.4.1 2.9.2-7.3.2 5.8.2-1.4.2 0 .1 5.8.2-1.5.2-7.2.2 8.7.2-20.3.2 26 .1-26 .2 24.6.2-11.6.2-2.9.2 2.9.1-1.4.2 8.7.2-21.7.2 4.3.2 10.1.2 5.8.1-10.1.2 7.2.2-5.8.2 15.9.2-18.7.1 17.3.2-27.5.2 26 .2-7.2.2-21.6.2 23.1.1-1.5.2-7.2.2-1.4.2 11.5.2-4.3.1 1.4.2-14.4.2 5.8.2 15.8.2-14.4.1 10.1.2-17.3.2 11.5.2 2.9.2-21.6.2-1.5.1 23.1.2-14.4.2 17.3.2-2.9.2-14.4.1 7.2.2 10.1.2-18.8.2 0 .2 31.8.2-23.1.1 15.9.2-30.3.2 31.7.2-10.1.2 2.9.1-8.7.2 8.7.2-7.2.2-1.5.2 2.9.2-1.4.1 5.8.2 2.9.2 5.7.2-20.2.2 8.7.1-7.2.2 11.5.2-1.4.2-15.9.2 17.3.2-10.1.1-2.9.2 15.9.2-24.6.2 8.7.2 13 .1-15.9.2 0 .2 5.8.2-11.6.2 8.7.1 2.9.2-5.8.2 5.8.2 8.7.2-18.8.2 17.3.1-10.1.2-2.9.2 11.6.2-15.9.2 0 .1-2.9.2-1.4.2 15.8.2-13 .2 2.9.2 21.7.1-2.9.2-1.4.2 5.7.2-28.8.2 5.7.1 11.6.2 5.8.2-10.1.2-5.8.2-7.2.2 7.2.1 4.3.2 8.7.2-28.9.2 1.4.2 15.9.1 2.9.2 10.1.2 0 .2-10.1.2 11.6.1-1.5.2-1.4.2-2.9.2-14.5.2 17.4.2-4.4.1 8.7.2-21.7.2 0 .2 18.8.2-7.2.1 0 .2-11.6.2-1.4.2 7.2.2 15.9.2-1.4.1-2.9.2-14.5.2 8.7.2-23.1.2 15.9.1-4.4.2 2.9.2 8.7.2-14.4.2 5.7.2 5.8.1-8.7.2 5.8.2 2.9.2 11.6.2-18.8.1 17.3.2-2.9.2 0 .2-2.9.2-4.3.2-11.5.1 20.2.2 11.5.2-15.9.2-11.5.2-1.5.1 1.5.2-5.8.2-2.9.2-8.6.2 27.4.1 5.8.2-8.7.2 4.3.2 1.5.2 4.3.2-21.6.1-13 .2 17.3.2 8.7.2 0 .2-5.8.1 8.6.2-20.2.2 21.7.2-26 .2 13 .2 8.7.1 7.2.2-24.6.2 23.1.2-1.4.2-18.8.1 23.1.2-5.8.2-7.2.2 5.8.2-8.7.2 0 .1 0 .2-17.3.2 39 .2-7.2.2-8.7.1 10.1.2-21.6.2 20.2.2-1.5.2-7.2.1-8.7.2-18.7.2 20.2.2-23.1.2 41.9.2-23.1.1 1.4.2-11.6.2 33.3.2 0 .2-11.6.1-2.9.2-10.1.2 0 .2 2.9.2 0 .2-14.4.1 10.1.2 20.2.2-17.3.2-2.9.2-7.3.1 20.3.2-7.3.2 1.5.2 5.8.2-1.5.2-10.1.1 2.9.2 0 .2 7.2.2-7.2.2 10.1.1 7.2.2 7.3.2-17.4.2 1.5.2-27.5.2 21.7.1-10.1.2-4.4.2 0 .2 7.3.2-4.4.1 10.1.2 13 .2-14.4.2 4.3.2 14.5.1-23.1.2 15.9.2-10.2.2 15.9.2-17.3.2 4.3.1-4.3.2-5.8.2 4.4.2 7.2.2-10.1.1-4.4.2 23.1.2 0 .2 1.5.2-15.9.2 23.1.1-39 .2 7.2.2 13 .2 7.3.2-4.4.1-17.3.2-2.9.2 23.1.2-8.7.2 5.8.2 7.2.1 0 .2-21.6.2-2.9.2-21.7.2 37.6.1-10.1.2-8.7.2 28.9.2-34.7.2 10.1.1 18.8.2-5.8.2-20.2.2 23.1.2-8.6.2 1.4.1-7.2.2 11.5.2-5.7.2 14.4.2 0 .1-39 .2 5.8.2 0 .2 23.1.2-33.2.2 41.9.1-17.4.2-1.4.2 14.4.2 1.5.2-8.7.1-2.9.2 1.5.2 14.4.2 1.4.2-14.4.2 2.9.1 14.4.2-7.2.2-14.4.2 11.5.2-11.5.1 4.3.2-4.3.2 14.4.2 5.8.2-20.2.2 10.1.1 5.8.2-13 .2-10.2.2 21.7.2 5.8.1-11.6.2 5.8.2-13 .2-7.2.2 23.1.1-14.4.2-5.8.2 11.5.2-5.7.2 20.2.2-11.6.1-20.2.2 23.1.2-2.9.2-2.9.2-14.4.1 14.4.2-18.7.2 20.2.2 2.9.2-4.4.2-1.4.1-10.1.2 23.1.2-21.7.2 24.6.2 2.9.1-47.7.2 28.9.2-15.9.2 8.7.2-8.7.2 44.8.1-30.4.2-4.3.2 13 .2-23.1.2 33.2.1-10.1.2-14.4.2 15.9.2-4.4.2-2.9.1 2.9.2 8.7.2 10.1.2-20.2.2 4.3.2-8.7.1 1.5.2-2.9.2 13 .2-11.6.2-1.4.1 1.4.2 11.6.2-5.8.2 8.7.2-18.8.2 8.7.1-1.5.2 1.5.2 8.6.2 0 .2-10.1.1 7.3.2 0 .2-17.4.2 0 .2 23.1.2 1.5.1-18.8.2 10.1.2 17.3.2-11.5.2 1.4.1-14.4.2 7.2.2 5.8.2-14.5.2 4.4.2 1.4.1 2.9.2 7.2.2-15.9.2 0 .2 17.4.1 1.4.2-21.6.2 15.8.2-1.4.2-18.8.1 26 .2-7.2.2 2.9.2-11.6.2 26 .2-14.4.1-18.8.2 15.9.2-13 .2-5.8.2 20.2.1-2.8.2-4.4.2 15.9.2-13 .2 10.1.2 0 .1-8.6.2-11.6.2 21.7.2-10.1.2 18.7.1-11.5.2-17.4.2 5.8.2 14.5.2-2.9.2 7.2.1-7.2.2 13 .2-14.5.2-18.7.2 17.3.1-10.1.2 15.9.2-20.3.2 17.4.2 4.3.2-11.5.1 2.8.2 1.5.2 4.3.2-4.3.2-2.9.1-10.1.2 2.9.2 15.9.2-15.9.2-11.6.1 2.9.2-2.9.2 23.1.2 1.5.2-4.4.2-11.5.1-1.5.2 14.5.2-2.9.2-2.9.2-7.2.1 4.3.2 8.7.2-10.1.2 10.1.2-10.1.2 31.8.1-14.5.2-4.3.2-8.7.2 5.8.2-5.8.1 4.3.2 1.5.2 11.5.2-14.4.2 5.8.2-2.9.1-5.8.2 4.3.2 15.9.2-24.5.2 0 .1 10.1.2-1.5.2 14.5.2 0 .2-7.2.1-18.8.2 14.4.2-7.2.2 10.1.2-8.6.2 2.8.1 4.4.2 1.4.2 2.9.2-10.1.2 2.9.1 15.9.2-13 .2 7.2.2-5.8.2-10.1.2 13 .1 5.8.2-13 .2-2.9.2 8.7.2-15.9.1 7.2.2 8.7.2-2.9.2 11.5.2-23.1.2 11.6.1-17.4.2 15.9.2-4.3.2 11.6.2-13 .1 4.3.2-14.5.2 8.7.2 5.8.2-10.1.2 11.5.1-1.4.2-4.3.2 5.7.2 2.9.2-7.2.1 14.4.2-17.3.2 5.8.2-1.5.2 2.9.1 11.6.2-30.3.2 26 .2-7.3.2-10.1.2 0 .1-2.9.2 18.8.2-5.8.2 7.3.2 2.8.1 7.3.2-5.8.2-4.3.2-21.7.2 11.5.2-1.4.1 2.9.2 4.3.2 2.9.2 0 .2-10.1.1 2.9.2 11.5.2 1.5.2-15.9.2 10.1.2 0 .1-13 .2 11.6.2 2.9.2-14.5.2 17.3.1-11.5.2-2.9.2 2.9.2 11.5.2-10.1.1 4.4.2-15.9.2 10.1.2 15.9.2-18.8.2 1.4.1 2.9.2 10.1.2-13 .2 7.3.2-1.5.1 8.7.2-18.8.2 18.8.2 0 .2-24.6.2 1.5.1 7.2.2 20.2.2-17.3.2-1.5.2-1.4.1 4.3.2 7.3.2 0 .2-7.3.2 13 .2-13 .1 18.8.2-11.5.2 0 .2 8.6.2-28.9.1 10.1.2 5.8.2-4.3.2 2.9.2-7.2.2 1.4.1 11.6.2-8.7.2 4.3.2 10.1.2-11.5.1-17.4.2 21.7.2 0 .2-4.3.2 13 .1-13 .2-2.9.2 21.7.2-13 .2 4.3.2-4.3.1 8.6.2-28.9.2 13 .2 5.8.2-2.9.1 10.1.2-5.7.2 0 .2-5.8.2 10.1.2-10.1.1-11.6.2 17.4.2-2.9.2 10.1.2-17.4.1 2.9.2 4.4.2-11.6.2 2.9.2 4.3.2 11.6.1 1.4.2-18.7.2 8.6.2-1.4.2-2.9.1 7.2.2-4.3.2 11.5.2-2.9.2-15.8.1 0 .2 2.8.2-7.2.2 11.6.2 5.8.2-11.6.1 2.9.2-1.5.2-7.2.2-10.1.2 20.2.1 0 .2 2.9.2-1.4.2 4.3.2-1.4.2 0 .1-4.4.2 7.3.2-4.4.2 1.5.2-5.8.1-24.6.2 33.3.2 4.3.2-11.6.2-4.3.2 7.2.1 8.7.2-8.7.2 4.4.2 7.2.2-13 .1 1.4.2-24.5.2 24.5.2 0 .2-2.9.2 0 .1-4.3.2 10.1.2-13 .2 7.2.2 7.3.1-20.3.2 11.6.2 4.3.2-2.9.2 7.3.1-2.9.2-20.3.2 11.6.2 7.2.2-2.9.2 11.6.1-11.6.2-10.1.2 21.7.2 5.8.2-4.4.1-11.5.2 1.4.2-2.9.2-18.7.2 15.8.2 17.4.1-1.5.2-11.5.2-2.9.2 15.9.2 4.3.1-34.7.2 26 .2-8.6.2-11.6.2 2.9.2 11.6.1 0 .2 2.9.2-17.4.2 23.1.2-10.1.1 11.6.2-2.9.2-7.2.2 5.7.2-26 .2 23.2.1-4.4.2 8.7.2-14.5.2 13 .2-10.1.1 5.8.2 18.8.2-23.1.2 5.8.2-2.9.1-2.9.2 5.8.2-8.7.2-11.6.2 7.3.2 8.6.1-8.6.2 20.2.2-18.8.2 17.3.2-18.7.1 2.8.2 4.4.2 10.1.2-14.5.2-1.4.2 2.9.1-2.9.2 4.3.2 14.5.2-17.4.2 1.5.1 7.2.2-7.2.2 18.8.2-2.9.2-2.9.2-8.7.1-5.8.2 7.3.2 13 .2-10.1.2-11.6.1 4.3.2-1.4.2 4.3.2-1.4.2 15.9.1-1.5.2-20.2.2 7.2.2 18.8.2-10.1.2-5.8.1 1.5.2-10.2.2 0 .2 7.3.2-1.5.1 2.9.2-13 .2 21.7.2 1.4.2-11.5.2-4.4.1 15.9.2-14.4.2-11.6.2 4.4.2 8.6.1 1.5.2-1.5.2-1.4.2 1.4.2 8.7.2 2.9.1-7.2.2 4.3.2-27.5.2 28.9.2-20.2.1 24.6.2-18.8.2 2.9.2-15.9.2 11.5.2 5.8.1-15.9.2 31.8.2-21.7.2 15.9.2-10.1.1 4.4.2 5.7.2-18.7.2 2.8.2 4.4.1-15.9.2 26 .2-21.7.2 17.4.2-4.4.2-5.8.1-17.3.2 15.9.2 10.1.2 14.5.2-17.4.1-1.4.2 2.9.2-1.5.2 10.1.2-8.6.2-4.4.1-15.9.2 2.9.2 15.9.2 8.7.2-4.3.1-13 .2 4.3.2 2.9.2 8.6.2-8.6.2 2.9.1-5.8.2 17.3.2-4.3.2-13 .2-1.5.1 1.5.2 14.4.2-17.3.2 0 .2 10.1.1 4.3.2 5.8.2-15.9.2 7.3.2-14.5.2 4.3.1 4.4.2 8.6.2-24.5.2 24.5.2-7.2.1 0 .2-2.9.2-7.2.2 8.7.2 2.9.2-1.5.1 0 .2-5.8.2-2.8.2 17.3.2 13 .1-18.8.2 14.5.2-17.4.2 14.5.2-18.8.2-5.8.1 4.3.2 5.8.2-4.3.2-13 .2 26 .1-24.6.2 10.1.2 0 .2 17.4.2-7.2.2 4.3.1-7.2.2 0 .2 10.1.2-1.5.2-8.6.1 1.4.2 1.5.2 8.6.2-1.4.2-2.9.1-5.8.2 5.8.2-10.1.2-4.4.2 7.3.2 2.9.1-2.9.2 13 .2-23.1.2 24.5.2-21.7.1 10.2.2-13 .2 11.5.2-5.8.2 0 .2 2.9.1 21.7.2-52 .2 33.2.2 10.1.2 1.5.1-15.9.2 5.8.2 7.2.2-2.9.2-10.1.2 0 .1 5.8.2 0 .2 4.3.2-1.5.2 1.5.1 0 .2-8.7.2-4.3.2 8.7.2-5.8.1-1.5.2 0 .2-1.4.2 14.4.2-2.9.2-4.3.1 1.5.2 0 .2 4.3.2 4.3.2-10.1.1 5.8.2-4.3.2-7.3.2 4.4.2 0 .2 13 .1-15.9.2 4.3.2-5.8.2 5.8.2-7.2.1 26 .2-28.9.2 2.9.2 15.9.2-15.9.2 0 .1 1.4.2 1.5.2 5.8.2 7.2.2-2.9.1-13 .2 2.9.2 13 .2-7.2.2-2.9.2 10.1.1-2.9.2 1.4.2 7.3.2-17.4.2 17.4.1-21.7.2 8.7.2-20.3.2 17.4.2 1.4.1 4.3.2-4.3.2 7.2.2-15.9.2 4.4.2-20.2.1 26 .2 7.2.2-2.9.2-31.8.2 13 .1 14.5.2 8.6.2-13 .2 4.4.2 10.1.2-17.4.1 13 .2-15.9.2 2.9.2-1.4.2 15.9.1-14.5.2 2.9.2 8.7.2-1.5.2 0 .2-7.2.1-1.4.2 4.3.2 5.8.2-11.6.2 10.1.1-11.5.2 2.9.2 5.8.2-7.3.2 5.8.2 14.5.1-13 .2-20.3.2 23.1.2-7.2.2 4.4.1-1.5.2 0 .2 13 .2-17.3.2 0 .1-1.5.2 7.3.2-4.4.2 1.5.2 0 .2 7.2.1-7.2.2 5.7.2-2.8.2-1.5.2 8.7.1-14.5.2 26 .2-26 .2 5.8.2-1.4.2-10.1.1 7.2.2-1.5.2 4.4.2-17.4.2 23.1.1 1.5.2-4.3.2-5.8.2 1.4.2 1.5.2 5.7.1-7.2.2 17.4.2-15.9.2 11.5.2-15.9.1 11.6.2-13 .2 17.3.2-13 .2 10.1.1-13 .2 2.9.2 10.1.2-7.2.2-15.9.2 13 .1-2.9.2-2.9.2 10.2.2 2.8.2-4.3.1 4.3.2-4.3.2-1.4.2 1.4.2 11.6.2-1.5.1-15.9.2-10.1.2-1.4.2 21.6.2-4.3.1-2.9.2 13 .2-20.2.2 15.9.2-13 .2 14.4.1 2.9.2-2.9.2-15.9.2 7.3.2-5.8.1 17.3.2-8.6.2 2.8.2 5.8.2-8.6.2-5.8.1 0 .2 18.8.2-20.3.2 18.8.2-13 .1-5.8.2 18.8.2-14.4.2 0 .2-5.8.1 5.8.2 2.9.2 2.8.2-4.3.2 13 .2 5.8.1-18.8.2 4.3.2-5.7.2-1.5.2 11.6.1-8.7.2 7.2.2-17.3.2-5.8.2 20.2.2-10.1.1 4.4.2-2.9.2 8.6.2-14.4.2 10.1.1-4.3.2 20.2.2-15.9.2-1.4.2 8.6.2-14.4.1 13 .2-18.8.2 4.3.2 13 .2-5.7.1-2.9.2 5.8.2-1.5.2 10.1.2-15.9.1 0 .2-2.9.2 7.3.2-10.1.2-8.7.2-7.2.1 36.1.2 0 .2 0 .2-26 .2 15.9.1 13 .2-5.8.2 8.7.2-15.9.2-7.3.2 2.9.1 7.3.2-5.8.2 2.9.2 1.4.2 0 .1 5.8.2-8.7.2-1.4.2-5.8.2 7.2.2 13 .1-15.9.2 10.1.2 10.2.2-8.7.2-14.5.1 10.2.2 8.6.2-27.4.2 18.8.2 5.7.2-5.7.1 17.3.2-14.5.2-2.8.2 7.2.2-11.6.1-2.9.2 10.1.2 4.4.2-7.2.2-4.4.1-4.3.2 13 .2-15.9.2 10.1.2 4.3.2-4.3.1 7.2.2-7.2.2-1.4.2 13 .2-14.5.1-10.1.2 11.6.2 2.9.2-2.9.2 10.1.2-13 .1 15.9.2-4.4.2-18.7.2 13 .2 4.3.1 8.7.2-7.3.2-11.5.2 18.8.2-8.7.2-8.7.1-7.2.2 8.7.2 8.6.2 0 .2 5.8.1-23.1.2 11.6.2 2.8.2-13 .2 14.5.1 1.4.2-5.7.2 2.8.2-5.7.2 10.1.2-10.1.1-10.1.2 17.3.2-11.6.2-4.3.2 14.4.1-4.3.2-13 .2 10.1.2 4.4.2 8.6.2 4.4.1-7.3.2 0 .2-10.1.2-2.9.2-2.9.1 10.2.2 0 .2 7.2.2-14.5.2 11.6.2 0 .1-8.7.2 15.9.2-15.9.2 11.6.2-26 .1 8.6.2-7.2.2 14.5.2 10.1.2-7.2.2 8.6.1 1.5.2-10.1.2 2.8.2-4.3.2 0 .1 5.8.2-7.2.2-8.7.2-2.9.2 17.3.1-2.8.2 8.6.2-1.4.2-13 .2 2.9.2 1.4.1-7.2.2 8.7.2-2.9.2 0 .2 5.7.1-5.7.2-2.9.2 15.9.2-2.9.2-4.4.2-13 .1 2.9.2 11.6.2-23.1.2 23.1.2-4.3.1 7.2.2-10.1.2 1.4.2-17.3.2 17.3.2-11.5.1 21.6.2-2.9.2 1.5.2-10.1.2-1.5.1 8.7.2-13 .2-11.6.2 31.8.2-8.7.1-2.8.2 2.8.2 2.9.2-20.2.2 2.9.2 10.1.1-15.9.2 23.1.2 1.5.2-8.7.2-2.9.1 13 .2 4.4.2-1.5.2 0 .2-11.5.2 2.8.1-4.3.2 11.6.2-15.9.2-2.9.2-4.3.1 1.4.2 5.8.2 8.6.2 2.9.2 2.9.2-11.5.1-8.7.2 21.7.2 2.9.2-2.9.2 10.1.1-17.4.2-11.5.2 7.2.2 0 .2 4.3.2-2.8.1-10.2.2 18.8.2-15.9.2 15.9.2-5.8.1-2.8.2-4.4.2 1.5.2-8.7.2 4.3.1 5.8.2-10.1.2 15.9.2 2.9.2-17.4.2 5.8.1 17.4.2-14.5.2 21.7.2-17.4.2 15.9.1-4.3.2-21.7.2 4.4.2 15.9.2-23.2.2 18.8.1-20.2.2 18.8.2-11.6.2 4.4.2-1.5.1 11.6.2-7.3.2-7.2.2 11.6.2-8.7.2-2.9.1 4.4.2 0 .2-7.3.2 13 .2 0 .1-14.4.2 5.8.2-4.4.2 13 .2-2.9.2 8.7.1-8.7.2-7.2.2 1.5.2 10.1.2-7.2.1-17.4.2 21.7.2 15.9.2-21.7.2 4.3.1 10.2.2-5.8.2-10.1.2 23.1.2-13 .2-15.9.1 2.9.2-2.9.2 17.3.2 1.5.2-10.1.1-13 .2 11.5.2-13 .2 18.8.2 2.9.2-10.1.1 7.2.2-11.6.2 20.3.2 0 .2-26 .1 4.3.2 4.3.2 4.4.2-2.9.2 0 .2-2.9.1 13 .2-8.7.2-7.2.2 21.7.2-15.9.1-7.3.2 1.5.2 17.3.2-11.5.2 11.5.1-1.4.2 2.9.2-10.1.2 7.2.2-7.2.2 4.3.1-13 .2 11.5.2-2.8.2 0 .2-13 .1 17.3.2 0 .2 4.3.2-14.4.2-1.5.2 2.9.1 4.4.2-4.4.2 0 .2 17.4.2-1.5.1-24.5.2 24.5.2-28.9.2 15.9.2 5.8.2-7.2.1-2.9.2 13 .2-13 .2 1.4.2 8.7.1 0 .2-8.7.2 8.7.2 0 .2 0 .2 1.4.1-1.4.2-5.8.2 14.5.2-5.8.2 2.9.1-5.8.2-11.6.2 11.6.2 8.7.2-34.7.1 1.4.2 27.5.2 10.1.2-30.3.2 15.8.2 5.8.1-8.6.2 2.8.2 5.8.2 0 .2-11.5.1 2.9.2-13 .2 13 .2-8.7.2 15.9.2-2.9.1 8.7.2 7.2.2-14.5.2-1.4.2-21.7.1 21.7.2-13 .2 5.8.2 10.1.2 1.4.2-15.9.1 11.6.2-1.5.2 11.6.2-11.6.2 10.2.1-10.2.2-11.5.2 14.4.2 1.5.2-2.9.1-13 .2 18.8.2 7.2.2-13 .2 5.8.2-5.8.1 4.3.2 4.4.2-13 .2 5.7.2-11.5.1 8.6.2-8.6.2 0 .2 2.9.2 1.4.2-5.8.1 10.1.2-10.1.2 5.8.2-2.9.2-2.9.1 2.9.2 0 .2 1.5.2 14.4.2-13 .2-1.4.1 7.2.2-13 .2 23.1.2-26 .2 26 .1-7.2.2-7.2.2 10.1.2-15.9.2 11.5.2-8.6.1-10.1.2 21.6.2-20.2.2 14.4.2 4.4.1-1.5.2-13 .2 2.9.2 1.5.2 7.2.1-5.8.2-7.2.2 7.2.2 14.5.2-1.5.2-8.7.1-2.8.2-7.3.2 15.9.2-23.1.2 13 .1-1.4.2 10.1.2-10.1.2 8.6.2-7.2.2 1.5.1-11.6.2 7.2.2 7.2.2 0 .2-20.2.1 20.2.2-4.3.2 5.8.2-18.8.2 10.1.2-1.4.1-4.4.2 7.3.2 2.9.2 2.8.2-13 .1 13 .2 1.5.2-8.7.2-15.9.2 30.4.1 7.2.2-28.9.2 7.2.2 4.4.2-2.9.2-4.4.1 0 .2 13 .2-5.7.2 8.6.2-4.3.1-5.8.2 5.8.2 2.9.2 1.4.2 11.6.2-13 .1-1.5.2-8.6.2 5.7.2 0 .2-17.3.1 13 .2 1.5.2-23.2.2 27.5.2-21.7.2 0 .1 30.4.2-13 .2 10.1.2-5.8.2 0 .1-10.1.2 2.9.2 7.2.2-21.7.2 17.4.2 5.7.1-2.9.2-2.8.2 5.7.2-13 .2 14.5.1-7.2.2 17.3.2-20.2.2-5.8.2 20.2.1-21.7.2 17.4.2-10.1.2 5.7.2 0 .2 1.5.1-8.7.2-4.3.2 2.9.2 1.4.2 2.9.1 13 .2-5.8.2-13 .2 1.5.2 8.6.2-10.1.1 20.3.2-18.8.2 11.5.2-13 .2 1.5.1 8.6.2-11.5.2 5.8.2 0 .2 13 .2-18.8.1 11.5.2 7.3.2-1.5.2-14.4.2-1.5.1 10.1.2-10.1.2 4.4.2-1.5.2 4.4.2-7.3.1-4.3.2 0 .2 10.1.2-4.3.2-1.5.1 11.6.2 13 .2-13 .2 5.8.2-10.1.1 8.6.2-10.1.2-4.3.2 5.8.2-5.8.2 1.4.1-20.2.2 30.3.2-8.6.2 8.6.2-1.4.1-5.8.2-30.3.2 41.9.2-17.4.2-2.9.2 1.5.1 5.8.2-8.7.2 7.2.2 7.2.2 1.5.1 4.3.2-5.8.2-7.2.2 10.1.2-7.2.2 4.3.1-7.2.2 18.8.2-20.2.2-1.5.2 14.5.1-1.5.2-7.2.2-10.1.2 2.9.2 26 .1-20.2.2 0 .2-10.1.2 30.3.2 2.9.2-14.5.1-18.7.2 26 .2-24.6.2-10.1.2 14.4.1 21.7.2-17.3.2 2.9.2 2.8.2 10.2.2-10.2.1 2.9.2-2.9.2-2.8.2-17.4.2 5.8.1 15.9.2-1.5.2-2.8.2-10.2.2 15.9.2-17.3.1 18.8.2-7.2.2 2.8.2 0 .2-11.5.1-1.5.2 10.2.2-1.5.2 1.5.2 4.3.2-8.7.1 1.5.2 8.6.2-7.2.2 0 .2-17.3.1 14.4.2 11.6.2-11.6.2 14.5.2-17.4.1 18.8.2-15.9.2 10.1.2 0 .2-8.6.2-1.5.1-1.4.2-13 .2 21.6.2-2.8.2 8.6.1-4.3.2 0 .2 0 .2-15.9.2 7.2.2 4.4.1 11.5.2 2.9.2-5.8.2-13 .2 11.6.1-1.5.2-31.7.2 28.8.2-7.2.2 8.7.2 0 .1-4.3.2 11.5.2-4.3.2-4.4.2 5.8.1-4.3.2 7.2.2-18.8.2 4.4.2 8.6.1-10.1.2 2.9.2 7.2.2-15.9.2 4.4.2-2.9.1 7.2.2-4.3.2 0 .2 11.5.2-1.4.1 14.4.2-15.9.2-13 .2 2.9.2 2.9.2-4.3.1-4.3.2 13 .2 4.3.2 0 .2-7.2.1 1.4.2 7.2.2-13 .2 4.4.2 7.2.2 2.9.1 1.4.2-4.3.2-17.3.2 15.8.2-14.4.1 18.8.2-26 .2 7.2.2 14.4.2 5.8.2-15.9.1 4.4.2 2.9.2-10.2.2 13 .2 11.6.1-15.9.2 4.3.2-14.4.2 20.2.2-8.6.1-7.3.2 4.4.2 5.7.2-8.6.2 14.4.2-13 .1 7.2.2-14.4.2-7.2.2 4.3.2 14.5.1-7.3.2 5.8.2-2.9.2 8.7.2-1.5.2-13 .1 14.5.2-7.2.2-8.7.2 8.7.2 23.1.1-31.8.2 5.8.2 4.3.2-1.4.2 1.4.2 4.3.1 2.9.2-1.4.2 5.8.2-5.8.2 5.8.1-7.3.2-2.8.2-1.5.2-15.9.2 7.2.1 7.3.2 5.7.2-8.6.2 1.4.2 1.5.2 5.7.1-7.2.2 0 .2 7.2.2-11.5.2 2.9.1 1.4.2-7.2.2 8.7.2 11.5.2-2.9.2-7.2.1 4.3.2-17.3.2 4.3.2 23.2.2-10.2.1 0 .2 7.3.2 0 .2 1.4.2-30.3.2 23.1.1 2.9.2-8.7.2 0 .2-1.4.2 5.7.1-4.3.2-2.9.2 1.5.2 10.1.2-4.4.2-2.8.1-14.5.2 18.8.2-18.8.2 23.1.2-23.1.1 21.7.2-24.6.2 20.2.2-14.4.2 28.9.1-20.2.2 0 .2-14.5.2 7.2.2 5.8.2 7.2.1 4.4.2-28.9.2 17.3.2 7.2.2-10.1.1 13 .2-11.5.2 1.4.2 8.7.2 17.3.2-1.4.1-24.6.2 28.9.2-33.2.2 8.7.2-2.9.1-5.8.2 15.9.2-11.6.2-17.3.2 30.3.2-1.4.1 0 .2-15.9.2 7.2.2-2.9.2 4.4.1 5.7.2-15.9.2 7.3.2 10.1.2 1.4.1-15.9.2 2.9.2 4.4.2 2.8.2-5.7.2-4.4.1-7.2.2 27.5.2-7.3.2-1.4.2-21.7.1 24.6.2-7.2.2-8.7.2-8.7.2 28.9.2-17.3.1 8.6.2 10.2.2-13 .2 10.1.2-21.7.1 7.2.2 0 .2 0 .2 0 .2 4.4.2-13 .1 23.1.2-21.7.2 20.2.2-20.2.2 17.3.1-8.6.2 15.9.2-15.9.2 14.4.2-7.2.2 0 .1-4.3.2-18.8.2 8.6.2 8.7.2 0 .1 8.7.2 0 .2 5.8.2-24.6.2 7.2.1 1.5.2-17.4.2 15.9.2 0 .2 11.6.2-4.4.1-8.6.2-7.2.2 21.6.2-18.8.2 17.4.1-10.1.2-1.5.2 7.2.2-10.1.2 13 .2-10.1.1 4.4.2 0 .2 2.8.2 1.5.2-18.8.1 5.8.2 13 .2-1.5.2 0 .2-5.7.2 10.1.1-8.7.2-4.3.2 1.4.2 4.4.2-8.7.1 14.4.2-8.6.2-2.9.2 13 .2-10.1.2 14.4.1-15.9.2 4.4.2 0 .2 8.6.2 5.8.1-7.2.2-14.5.2 14.5.2-14.5.2 1.5.1 17.3.2-5.8.2-11.5.2 0 .2 15.9.2-18.8.1-1.5.2 14.5.2-10.1.2 4.3.2 5.8.1 7.2.2-26 .2 1.5.2 10.1.2 2.9.2-13 .1 20.2.2-4.4.2 1.5.2 1.4.2-11.5.1 10.1.2-4.3.2 13 .2-17.4.2-1.4.2-2.9.1 14.4.2-5.7.2-7.3.2 5.8.2 7.2.1-5.7.2-1.5.2 4.3.2-2.8.2-23.2.1 28.9.2-7.2.2-4.3.2 0 .2 17.3.2-7.2.1-13 .2 21.7.2-8.7.2-5.8.2-2.9.1 2.9.2 5.8.2 2.9.2-11.6.2 8.7.2-5.8.1-2.9.2-8.6.2 15.8.2 5.8.2 2.9.1-21.7.2 10.2.2 0 .2-5.8.2 2.9.2-1.5.1 15.9.2-13 .2 8.7.2 7.2.2-24.6.1 8.7.2 4.3.2 10.2.2-2.9.2-24.6.2 21.7.1-1.5.2-18.7.2 18.7.2 4.4.2-20.3.1-1.4.2 8.7.2 14.4.2-5.8.2-5.7.1 14.4.2-18.8.2 10.1.2 1.5.2 0 .2 2.9.1-5.8.2-8.7.2-1.4.2 17.3.2-14.4.1-10.1.2 8.6.2 11.6.2 0 .2-7.2.2-2.9.1-4.4.2 13 .2 2.9.2-20.2.2 0 .1 20.2.2-8.6.2-2.9.2 10.1.2-15.9.2 2.9.1 4.3.2-11.5.2-10.2.2 11.6.2 2.9.1 5.8.2 2.9.2 10.1.2-7.3.2-10.1.1 4.4.2-4.4.2 4.4.2 1.4.2 11.6.2-5.8.1 8.7.2-13 .2 10.1.2-21.7.2-1.4.1 15.8.2 1.5.2 5.8.2-14.5.2 8.7.2-15.9.1 11.6.2 13 .2-20.3.2 14.5.2-2.9.1-4.3.2-7.3.2 7.3.2 5.7.2-1.4.2 7.2.1-11.5.2 5.7.2-2.9.2 5.8.2 1.5.1-7.3.2-2.8.2-5.8.2 11.5.2-15.9.2 15.9.1-7.2.2 1.5.2-5.8.2 26 .2-28.9.1 1.4.2 0 .2 13 .2-14.4.2 15.9.1-7.2.2-18.8.2 24.5.2-23.1.2 20.2.2 2.9.1 0 .2-13 .2-7.2.2 24.6.2 0 .1 1.4.2-18.8.2 13 .2 1.5.2-14.5.2 2.9.1 4.4.2 5.7.2 2.9.2-2.9.2-2.9.1-8.6.2 0 .2 17.3.2-14.4.2 7.2.2-4.3.1 4.3.2 4.3.2-11.5.2 7.2.2-11.6.1 5.8.2 1.5.2 4.3.2 8.7.2-14.5.1-1.4.2-5.8.2 8.7.2 5.7.2-7.2.2 7.2.1 1.5.2 2.9.2-11.6.2-8.7.2 17.4.1 4.3.2-23.1.2 1.4.2-1.4.2-2.9.2 28.9.1-18.8.2-10.1.2 23.1.2-15.9.2-4.3.1 11.6.2-2.9.2 2.9.2-7.3.2 13 .2-13 .1 4.4.2-2.9.2 10.1.2-17.3.2 17.3.1-8.7.2 4.4.2 7.2.2 7.2.2-10.1.2-10.1.1-1.5.2 4.4.2 11.5.2-14.4.2 0 .1 1.4.2-5.8.2 7.3.2-18.8.2 7.2.1 26 .2-7.2.2 0 .2-1.5.2-21.6.2 13 .1 10.1.2-15.9.2 15.9.2-5.8.2 4.3.1-4.3.2-11.5.2 20.2.2-13 .2 4.3.2 4.3.1-10.1.2-11.5.2 14.4.2 7.2.2-2.8.1-7.3.2-1.4.2 7.2.2 10.1.2-23.1.2 5.8.1 7.2.2 10.1.2-2.9.2 0 .2-2.9.1-5.7.2 0 .2 11.5.2-11.5.2 0 .2 2.9.1-8.7.2 8.7.2 11.5.2-20.2.2 15.9.1 7.2.2-21.7.2 10.1.2-20.2.2 39 .1-18.8.2-2.8.2 0 .2 5.7.2-1.4.2 1.4.1-7.2.2 5.8.2 4.3.2-5.8.2 0 .1 0 .2-4.3.2 10.1.2 0 .2-28.9.2 5.8.1 10.1.2 4.4.2-5.8.2 10.1.2-24.6.1 18.8.2 5.8.2 0 .2-13 .2 0 .2 11.5.1 2.9.2-7.2.2 4.3.2-8.6.2 5.8.1-1.5.2-1.4.2 17.3.2-18.8.2 11.6.1-2.9.2 0 .2-14.5.2-2.8.2 10.1.2-5.8.1 0 .2 11.5.2-2.8.2-21.7.2 15.9.1-5.8.2 17.3.2-2.9.2-4.3.2 5.8.2 1.4.1-5.7.2-4.4.2 11.6.2-18.8.2 20.2.1 0 .2-5.8.2-13 .2 10.2.2 7.2.2-14.5.1 14.5.2-7.2.2-8.7.2 18.8.2-5.8.1 0 .2 0 .2-11.6.2-5.7.2 23.1.2-4.4.1-13 .2 10.1.2 4.4.2-7.2.2 2.8.1-7.2.2 8.7.2-4.3.2 5.7.2-23.1.1 14.5.2 1.4.2-1.4.2-4.4.2 2.9.2 2.9.1-4.3.2 2.9.2 13 .2-2.9.2-7.2.1 10.1.2-18.8.2-1.5.2 8.7.2 0 .2 7.2.1-7.2.2-1.4.2-5.8.2-4.3.2 18.7.1-5.7.2-7.3.2 5.8.2-4.3.2 10.1.2 2.9.1-20.2.2 10.1.2 17.3.2-21.7.2 17.4.1-21.7.2 18.8.2-1.5.2-7.2.2-11.5.1 7.2.2 11.5.2 13 .2-14.4.2-5.8.2 0 .1 21.7.2-31.8.2 17.3.2-15.9.2-7.2.1 15.9.2-5.8.2 2.9.2 7.2.2 4.4.2-10.1.1-10.1.2 23.1.2-11.6.2 15.9.2-5.8.1-2.9.2 4.4.2-15.9.2 5.8.2 4.3.2-13 .1 5.8.2 14.4.2-4.3.2-8.7.2-4.3.1 2.9.2 14.4.2-4.3.2 11.5.2-20.2.2 10.1.1-11.5.2 0 .2 7.2.2-10.1.2 13 .1 0 .2-14.5.2-4.3.2 15.9.2-5.8.1-7.2.2 5.8.2-10.1.2 11.5.2 0 .2 4.3.1 4.4.2-7.2.2-5.8.2 11.5.2 1.5.1-11.6.2 10.1.2-11.5.2-1.5.2 13 .2-11.5.1 1.4.2 2.9.2-8.7.2 7.3.2 11.5.1 5.8.2-28.9.2 31.8.2-30.3.2 13 .2-8.7.1 1.4.2 11.6.2 0 .2-15.9.2 10.1.1 4.3.2-15.8.2 5.7.2 24.6.2-11.6.1 5.8.2-18.8.2 10.1.2 1.5.2-1.5.2 15.9.1-8.6.2-13 .2-5.8.2 13 .2-7.2.1-7.3.2 1.5.2 11.5.2 0 .2 5.8.2-17.3.1 8.7.2-1.5.2-5.8.2 10.1.2 2.9.1 13 .2-10.1.2-17.3.2 15.9.2 4.3.2-15.9.1 7.2.2 2.9.2 2.9.2-1.4.2-1.5.1-8.6.2-18.8.2 30.3.2-2.9.2 1.5.2-14.5.1 10.1.2 1.5.2-4.3.2 0 .2 0 .1 4.3.2-4.3.2 2.8.2 2.9.2-1.4.1 17.3.2-18.8.2-5.7.2 14.4.2-13 .2-1.4.1 5.7.2-2.8.2 0 .2-5.8.2-8.7.1 18.8.2-24.6.2 26 .2-10.1.2-4.3.2 13 .1-14.5.2 8.7.2 7.2.2 0 .2-1.4.1-21.7.2 14.5.2-10.1.2 5.7.2 11.6.2 0 .1-11.6.2 10.1.2-4.3.2-5.8.2 14.5.1-4.4.2 8.7.2-7.2.2-5.8.2-8.7.1 8.7.2 7.2.2-5.7.2 5.7.2-7.2.2 5.8.1 2.9.2-14.5.2 10.1.2-2.8.2-5.8.1 4.3.2-4.3.2 17.3.2-11.5.2 5.7.2-18.7.1 15.8.2 4.4.2 2.9.2-7.3.2-13 .1 15.9.2-5.7.2 11.5.2-13 .2-20.2.2 21.7.1 10.1.2-13 .2 1.4.2-5.8.2 18.8.1-14.4.2 10.1.2 4.3.2-13 .2-2.9.2 4.4.1-1.5.2-5.8.2 20.3.2-10.2.2 5.8.1-8.6.2-7.3.2 0 .2 5.8.2-5.8.1 4.4.2 10.1.2-18.8.2 17.3.2 4.4.2-5.8.1 0 .2-11.6.2-1.4.2 18.8.2-1.5.1-18.8.2-4.3.2 4.3.2-4.3.2 27.5.2-23.2.1 7.3.2-8.7.2 17.3.2 5.8.2-8.7.1-5.7.2 2.9.2-13 .2 0 .2 23.1.2-17.4.1 7.3.2 7.2.2-13 .2 10.1.2-13 .1 7.2.2-2.9.2 13 .2 2.9.2-23.1.2 5.8.1-2.9.2 13 .2-8.7.2 7.2.2-11.5.1 20.2.2-7.2.2-4.3.2 8.6.2-4.3.1-14.5.2 1.5.2-10.1.2 26 .2-15.9.2-14.5.1 27.5.2-1.5.2 1.5.2-1.5.2 8.7.1-2.9.2-5.8.2-2.8.2 4.3.2 4.3.2-20.2.1 11.6.2 2.8.2-4.3.2 8.7.2-11.6.1 0 .2 4.4.2 0 .2 2.8.2-7.2.2 7.2.1 0 .2-8.6.2 11.5.2-7.2.2 13 .1-14.4.2 8.6.2 1.5.2 4.3.2 2.9.1-26 .2 15.9.2-15.9.2 4.3.2 11.6.2-10.1.1 10.1.2-4.3.2-5.8.2-1.5.2 28.9.1-41.9.2 31.8.2-15.9.2 11.6.2-11.6.2-7.2.1 21.7.2-11.6.2-20.2.2 24.5.2-11.5.1 2.9.2 1.4.2-4.3.2-1.5.2 2.9.2 4.4.1 0 .2 10.1.2-20.2.2 26 .2-17.4.1 0 .2-4.3.2 18.8.2-14.5.2 2.9.2 4.3.1-13 .2 10.2.2-5.8.2-4.4.2 17.4.1-18.8.2 17.3.2-13 .2 1.5.2 13 .1-1.5.2-10.1.2 13 .2-11.5.2 10.1.2-8.7.1 7.2.2-8.6.2-4.4.2 14.5.2-7.2.1 10.1.2-15.9.2 10.1.2-1.5.2-17.3.2 23.1.1-13 .2 15.9.2-15.9.2 13 .2-10.1.1 15.9.2-11.6.2-14.4.2 5.8.2 10.1.2-11.6.1 2.9.2 4.4.2 10.1.2-17.4.2 5.8.1-7.2.2 17.3.2-13 .2-4.3.2 4.3.1-1.4.2 0 .2-1.5.2 7.3.2 4.3.2-14.5.1 5.8.2 17.4.2-4.4.2-14.4.2 1.4.1 1.5.2-14.5.2 20.2.2-8.6.2-1.5.2-4.3.1 20.2.2-17.3.2 15.9.2-11.6.2 0 .1 8.7.2-7.2.2 11.5.2-2.9.2-13 .2-7.2.1 10.1.2 8.7.2-13 .2 2.9.2 14.4.1 0 .2-18.8.2 2.9.2-2.9.2 10.2.2 4.3.1-1.5.2-10.1.2 13 .2 13 .2-21.6.1-1.5.2-14.4.2 27.4.2 1.5.2-17.4.1 5.8.2-5.8.2 15.9.2-27.4.2 15.9.2 0 .1 10.1.2 11.5.2-33.2.2 23.1.2 4.4.1-21.7.2 2.9.2 2.9.2 8.6.2 0 .2-13 .1 18.8.2-13 .2 1.5.2-1.5.2-5.8.1-1.4.2-11.6.2 8.7.2 30.3.2-18.7.2-5.8.1 13 .2-7.2.2-2.9.2 10.1.2-4.4.1-7.2.2 7.2.2-7.2.2 8.7.2-4.3.1 10.1.2-5.8.2 0 .2-21.7.2-2.9.2 5.8.1 21.7.2 1.4.2-10.1.2 1.5.2 8.6.1-11.5.2 2.9.2 2.8.2-7.2.2-2.9.2 4.4.1 5.7.2 1.5.2-10.1.2 11.5.2-14.4.1 15.9.2-10.1.2 2.9.2 5.7.2-11.5.2-4.4.1 15.9.2-8.6.2 10.1.2-13 .2 5.8.1 7.2.2-8.7.2 1.5.2-2.9.2-7.3.2 13 .1-10.1.2 7.3.2 5.7.2-11.5.2 11.5.1-10.1.2 2.9.2-13 .2 10.1.2-13 .1 11.6.2 2.9.2-7.3.2 5.8.2 7.2.2-2.8.1 7.2.2-11.6.2 7.2.2-15.8.2 15.8.1 15.9.2-15.9.2-14.4.2 24.6.2-4.4.2-4.3.1-8.7.2 2.9.2-1.4.2 1.4.2-7.2.1 2.9.2 4.3.2 14.5.2-20.3.2 1.5.2 8.6.1-4.3.2 0 .2 10.1.2 4.4.2-13 .1 4.3.2-7.2.2-1.5.2 4.4.2 5.7.2-5.7.1 0 .2 10.1.2-5.8.2-7.2.2 15.9.1-5.8.2-1.5.2-23.1.2-7.2.2 27.4.1-7.2.2 7.2.2 10.2.2-17.4.2 1.5.2-5.8.1 8.7.2-2.9.2 0 .2 0 .2 11.5.1-36.1.2 26 .2 11.6.2-13 .2 5.7.2 0 .1 7.3.2-11.6.2 11.6.2-18.8.2 8.7.1-5.8.2-2.9.2-2.9.2 20.2.2 1.5.2-17.4.1 7.3.2-8.7.2 7.2.2-10.1.2 20.2.1-8.6.2 4.3.2 1.4.2-11.5.2 10.1.1 2.9.2 0 .2-7.2.2-7.3.2-1.4.2 17.3.1-10.1.2 23.1.2-13 .2-13 .2 14.5.1-2.9.2-4.4.2 10.2.2-2.9.2-11.6.2-5.8.1 13 .2 2.9.2-5.8.2-5.7.2 0 .1 1.4.2 11.6.2-5.8.2 2.9.2 1.4.2-1.4.1-8.7.2-5.8.2 33.3.2-27.5.2 7.2.1-1.4.2-1.5.2-15.8.2 13 .2 14.4.2-4.3.1-7.3.2 2.9.2 1.5.2-8.7.2-5.8.1 15.9.2 8.7.2-24.6.2 20.3.2-24.6.1-8.7.2 8.7.2 18.8.2-8.7.2 4.3.2 0 .1 7.3.2-10.1.2-4.4.2-1.4.2 2.9.1-7.3.2 18.8.2-10.1.2-4.3.2-2.9.2 17.3.1-10.1.2 5.8.2-4.3.2-4.4.2 1.5.1 5.7.2-2.8.2 0 .2-2.9.2 8.6.2-8.6.1 15.9.2-1.5.2 2.9.2-18.8.2 0 .1 4.4.2-11.6.2 7.2.2 11.6.2-13 .1 13 .2 5.8.2-23.2.2 18.8.2-8.6.2-4.4.1 7.2.2-2.8.2 2.8.2 0 .2 5.8.1-13 .2 1.5.2 0 .2 7.2.2-5.8.2 0 .1 10.1.2-4.3.2-8.7.2 1.5.2-1.5.1 7.2.2-14.4.2 20.2.2-15.9.2 0 .2 10.1.1 5.8.2-34.6.2 24.5.2-13 .2 21.7.1 4.3.2-7.2.2-1.5.2-7.2.2 1.5.2-5.8.1 5.8.2 1.4.2 8.7.2 2.9.2 0 .1-13 .2-2.9.2 11.5.2-17.3.2 15.9.1-1.5.2-4.3.2-2.9.2 17.4.2-14.5.2-18.8.1 18.8.2-2.9.2 11.6.2 5.8.2-10.2.1 7.3.2-11.6.2 1.5.2 13 .2-14.5.2 1.5.1 5.7.2-14.4.2 11.5.2-7.2.2-8.6.1 8.6.2 8.7.2-7.2.2 5.7.2-10.1.2 24.6.1-24.6.2 14.5.2-1.5.2-8.6.2 2.9.1-4.4.2 11.6.2-10.1.2 17.3.2-17.3.1 26 .2-27.5.2 4.4.2-5.8.2-1.5.2 10.1.1-11.5.2 18.8.2-4.4.2 2.9.2 1.5.1-14.5.2-4.3.2 5.8.2 24.5.2-13 .2-1.4.1-10.1.2 5.7.2-5.7.2 2.9.2 14.4.1-8.7.2-5.7.2-2.9.2 8.6.2-10.1.2 0 .1 7.2.2-2.8.2-7.3.2 10.1.2 8.7.1-11.5.2 0 .2-5.8.2-1.5.2 13 .2-11.5.1 8.6.2-11.5.2 13 .2-15.9.2 28.9.1-23.1.2 1.4.2-27.4.2 24.5.2 15.9.1-15.9.2 17.4.2-17.4.2 17.4.2-2.9.2 11.5.1-14.4.2 0 .2-10.1.2 0 .2-4.4.1-2.8.2-1.5.2 7.2.2 15.9.2-14.4.2 18.8.1-14.5.2 18.8.2-2.9.2-1.4.2-5.8.1-7.2.2 4.3.2-7.2.2-4.4.2 0 .2 14.5.1-7.2.2-4.4.2 15.9.2-21.7.2 2.9.1 15.9.2-4.3.2 4.3.2 1.5.2-15.9.2-20.2.1 20.2.2 13 .2-18.8.2 14.4.2-7.2.1-1.4.2 13 .2-10.1.2-8.7.2 8.7.1 14.4.2-21.7.2 17.4.2-13 .2-5.8.2 21.7.1 0 .2-14.5.2 8.7.2-13 .2 2.9.1 5.8.2-4.4.2 4.4.2 8.6.2-23.1.2-2.9.1 5.8.2 18.8.2-4.4.2 2.9.2-2.9.1-4.3.2 7.2.2 11.6.2-18.8.2 14.5.2-2.9.1-4.4.2-13 .2 1.5.2 11.5.2-18.7.1 20.2.2-18.8.2 20.2.2-15.9.2-4.3.1 11.6.2 2.8.2 0 .2 8.7.2-20.2.2-10.1.1 10.1.2 21.7.2-20.3.2 11.6.2-4.3.1-2.9.2 23.1.2-26 .2 4.3.2 4.3.2-15.8.1 8.6.2 4.4.2-5.8.2-4.4.2 14.5.1 0 .2-5.8.2 1.5.2 5.7.2 17.4.2-30.4.1-5.7.2 4.3.2 2.9.2 8.6.2-4.3.1 4.3.2-21.6.2 8.6.2-10.1.2 20.3.2-7.3.1 4.4.2-2.9.2-5.8.2 1.4.2 2.9.1-10.1.2 27.5.2-5.8.2-11.6.2 0 .1 11.6.2 2.9.2-11.6.2 14.5.2-10.1.2 5.7.1-1.4.2-7.2.2-1.5.2 2.9.2-5.8.1 7.3.2 4.3.2-7.2.2-14.5.2 0 .2 15.9.1-2.9.2-4.3.2 5.8.2 10.1.2-10.1.1-1.5.2 8.7.2-1.5.2-7.2.2 4.4.2-10.2.1 8.7.2 0 .2 1.5.2 0 .2-18.8.1 7.2.2 17.3.2-5.7.2-17.4.2 34.7.1-23.1.2 14.4.2-11.5.2 8.6.2-1.4.2 18.8.1-28.9.2 8.6.2-15.8.2 11.5.2 7.2.1-1.4.2-10.1.2 14.4.2-4.3.2-5.8.2 7.2.1 7.3.2-24.6.2 28.9.2-11.6.2-5.7.1 0 .2-1.5.2 30.3.2-20.2.2-5.8.2-11.5.1 4.3.2 13 .2-4.3.2-14.5.2 13 .1-5.7.2-8.7.2 7.2.2 10.1.2-7.2.2-18.8.1 20.3.2 8.6.2-10.1.2 10.1.2-8.6.1-10.2.2 14.5.2 1.4.2-2.9.2 7.3.1-4.4.2-5.7.2 0 .2-1.5.2 7.2.2-15.9.1 15.9.2-2.9.2 4.4.2 1.4.2-15.9.1 5.8.2 1.5.2-1.5.2 5.8.2-11.6.2 14.5.1-1.5.2-11.5.2 1.4.2 4.4.2 7.2.1 10.1.2-10.1.2-13 .2 13 .2-18.8.2 23.1.1-17.3.2 2.9.2 10.1.2-1.5.2 4.4.1 7.2.2-17.3.2 2.8.2-7.2.2 1.5.1 10.1.2-7.2.2-4.4.2 18.8.2-23.1.2-2.9.1 7.2.2-5.8.2 0 .2 17.4.2-15.9.1 11.5.2-8.6.2 13 .2-2.9.2-15.9.2 14.4.1-2.8.2-10.2.2-1.4.2 17.3.2-13 .1 18.8.2-15.9.2 8.7.2-4.3.2 11.5.2-11.5.1 11.5.2-17.3.2 5.8.2-10.2.2 8.7.1 0 .2 14.5.2-13 .2 11.5.2-20.2.2 21.7.1-23.2.2 5.8.2 11.6.2-7.2.2 8.6.1-14.4.2 4.3.2 0 .2-4.3.2-5.8.1 23.1.2-4.3.2-13 .2-14.5.2 10.1.2 4.4.1 8.6.2 1.5.2-7.2.2 5.7.2-10.1.1 1.5.2 0 .2 14.4.2-10.1.2 7.2.2 0 .1-31.7.2 18.7.2 10.1.2 5.8.2 5.8.1-15.9.2 4.3.2 10.2.2-2.9.2-4.4.2-10.1.1 1.5.2-2.9.2 5.8.2 4.3.2-1.5.1-17.3.2 4.3.2 8.7.2-10.1.2 7.2.1 18.8.2-7.2.2 1.4.2-5.8.2 0 .2 4.4.1-11.6.2-1.4.2 1.4.2-4.3.2 13 .1 1.4.2-11.5.2 5.8.2 0 .2-4.4.2 11.6.1-13 .2 23.1.2-21.7.2 13 .2 4.4.1-15.9.2-1.5.2-14.4.2 13 .2 8.6.2-2.8.1-10.2.2 2.9.2 13 .2-7.2.2 10.1.1-10.1.2 5.8.2-4.3.2 5.7.2 1.5.2 2.9.1-7.3.2-7.2.2-2.9.2 0 .2 5.8.1 10.1.2-14.4.2-2.9.2 14.4.2-15.9.1 8.7.2-5.8.2 4.4.2 5.7.2-11.5.2 15.9.1-7.2.2-2.9.2-2.9.2 10.1.2-4.3.1-8.7.2 5.8.2-7.3.2 10.2.2 4.3.2-7.2.1 1.4.2 7.2.2 0 .2 0 .2-13 .1 1.5.2 17.3.2-2.9.2-2.9.2-8.6.2 2.9.1-2.9.2 14.4.2-15.9.2-7.2.2 0 .1 18.8.2-14.5.2 1.5.2 1.4.2-2.9.2 10.1.1-5.7.2 10.1.2-10.1.2-2.9.2 17.3.1-7.2.2-7.2.2-10.1.2 13 .2 4.3.1-5.8.2 13 .2-18.8.2 7.3.2 4.3.2-4.3.1-4.4.2 21.7.2-10.1.2-4.4.2 0 .1 1.5.2 1.4.2 1.5.2-10.1.2 8.6.2-13 .1 10.1.2 1.5.2-1.5.2 4.4.2-13 .1 8.6.2 0 .2-4.3.2-4.3.2-4.4.2-10.1.1 24.6.2 1.4.2 1.5.2-15.9.2 2.9.1 8.6.2 2.9.2 1.5.2 4.3.2-8.7.1 5.8.2-15.9.2 7.3.2 0 .2 4.3.2-4.3.1 2.8.2-2.8.2-14.5.2 5.8.2 11.5.1-8.6.2-13 .2 7.2.2 20.2.2-10.1.2-1.4.1 15.9.2-5.8.2 1.4.2-5.8.2 5.8.1-10.1.2 1.5.2 11.5.2-7.2.2-14.5.2 10.2.1-1.5.2 13 .2-14.4.2-8.7.2 11.6.1-5.8.2-1.5.2 4.4.2 8.6.2-8.6.2 1.4.1 4.3.2 1.5.2-23.1.2 11.5.2 11.6.1-7.2.2-1.5.2 8.7.2-1.5.2 8.7.1-13 .2 10.1.2-11.5.2 17.3.2-7.2.2 1.4.1-5.8.2 0 .2-14.4.2 11.6.2-5.8.1 10.1.2 2.9.2-7.2.2-2.9.2 1.4.2 1.5.1-2.9.2 2.9.2 2.8.2-13 .2 10.2.1 11.5.2-2.9.2-1.4.2 0 .2-15.9.2 14.4.1-10.1.2 13 .2 0 .2-14.4.2 13 .1 1.4.2-10.1.2 7.2.2 5.8.2-14.4.1 7.2.2 5.8.2-2.9.2 2.9.2-11.6.2 4.3.1-2.8.2-1.5.2-7.2.2 15.9.2-10.1.1 1.4.2 10.1.2-2.9.2-27.4.2 14.4.2 15.9.1-13 .2 11.6.2 5.8.2-7.3.2-14.4.1 7.2.2 0 .2 4.3.2 1.5.2 0 .2-7.2.1-2.9.2 11.5.2 5.8.2-17.3.2 1.4.1-2.9.2 11.6.2-17.3.2 20.2.2 10.1.2-20.2.1 2.9.2-1.5.2 1.5.2-18.8.2 10.1.1 15.9.2-18.8.2 10.1.2 1.5.2 0 .1-8.7.2 11.5.2-11.5.2 8.7.2 4.3.2 8.7.1-21.7.2 14.4.2-2.9.2-7.2.2 13 .1 0 .2-11.5.2-4.4.2 4.4.2-1.5.2 7.2.1-2.8.2 0 .2 10.1.2-1.5.2-5.8.1-13 .2 13 .2-7.2.2 17.4.2-21.7.2 11.5.1 2.9.2-5.7.2-4.4.2 10.1.2 0 .1-5.7.2 7.2.2 7.2.2-21.7.2 7.3.1-1.5.2-10.1.2 8.7.2 7.2.2-8.7.2-2.9.1 5.8.2 5.8.2-10.1.2-7.2.2 13 .1 7.2.2-10.1.2 11.5.2-13 .2-4.3.2-1.5.1 0 .2 1.5.2-4.3.2 13 .2-2.9.1 13 .2-10.1.2-10.2.2 8.7.2 7.2.2-5.7.1 8.6.2-5.8.2 5.8.2-10.1.2 8.7.1-7.2.2-10.2.2 13 .2-24.5.2 24.5.2-2.8.1-1.5.2 8.7.2-13 .2 13 .2-20.2.1 5.7.2 2.9.2 0 .2 10.1.2 2.9.1-2.9.2-7.2.2 1.5.2-11.6.2 26 .2-17.3.1 1.4.2-10.1.2 2.9.2 15.9.2-8.7.1-2.9.2 0 .2 0 .2-2.9.2 2.9.2-4.3.1 15.9.2-17.4.2 20.3.2-15.9.2 0 .1 8.6.2 2.9.2-5.7.2 0 .2-4.4.2 7.2.1-13 .2 14.5.2-1.5.2-7.2.2 8.7.1-23.1.2 13 .2-8.7.2-2.9.2 21.7.2-10.1.1 13 .2-2.9.2-8.7.2-4.3.2 15.9.1-10.1.2-4.4.2 13 .2-11.5.2 8.6.1-17.3.2 17.3.2-7.2.2 8.7.2-8.7.2 1.5.1 5.7.2 2.9.2 2.9.2-14.4.2 11.5.1-2.9.2-20.2.2 8.7.2 8.7.2-4.4.2-4.3.1 17.3.2-23.1.2 14.5.2-7.3.2 1.5.1 11.5.2-10.1.2 11.6.2-15.9.2 4.3.2 0 .1-5.8.2 14.5.2-10.1.2 13 .2-17.4.1 17.4.2 5.8.2-5.8.2-7.2.2-1.5.1-5.8.2 21.7.2-7.2.2-4.4.2 8.7.2-23.1.1 15.9.2-1.5.2-5.7.2 2.9.2-2.9.1 0 .2 5.7.2-13 .2-4.3.2 17.3.2 1.5.1-4.3.2 0 .2-8.7.2 13 .2-8.7.1 7.2.2 17.4.2-5.8.2-20.2.2 8.6.2-7.2.1-20.2.2 30.3.2-13 .2 4.4.2 8.6.1-1.4.2-11.6.2-2.9.2 7.3.2 8.6.2-15.9.1 13 .2-8.6.2 1.4.2 2.9.2 5.8.1-14.5.2 15.9.2 1.5.2-15.9.2 13 .1 1.4.2 0 .2-13 .2 20.3.2-14.5.2-4.3.1 4.3.2 0 .2 7.2.2-1.4.2-5.8.1 0 .2 8.7.2-1.5.2-2.9.2-5.7.2-7.3.1-2.8.2 4.3.2-13 .2 0 .2 26 .1-18.8.2-2.9.2 13 .2-4.3.2 8.7.2 7.2.1-1.5.2-15.9.2 7.3.2 2.9.2 18.7.1-18.7.2 4.3.2 5.8.2-7.3.2-14.4.1 21.7.2-11.6.2-1.4.2 0 .2-4.4.2 5.8.1-10.1.2-2.9.2 28.9.2-15.9.2-4.3.1 2.9.2 8.6.2-1.4.2-14.5.2 20.3.2-13 .1 1.4.2 7.2.2 1.5.2 0 .2-2.9.1 0 .2-14.5.2 8.7.2-5.8.2 14.5.2-7.2.1 10.1.2-5.8.2-4.3.2 8.6.2-34.6.1 20.2.2 10.1.2 0 .2-5.8.2 8.7.2 1.4.1-8.6.2-1.5.2 0 .2-2.9.2-15.9.1 15.9.2-2.9.2 18.8.2-17.3.2 4.3.1 7.2.2-2.9.2-13 .2 7.3.2-7.3.2 1.5.1 13 .2-10.1.2 20.2.2-8.7.2-11.5.1 0 .2-8.7.2 24.6.2-18.8.2 2.9.2-1.5.1 11.6.2 5.8.2-11.6.2 1.5.2-1.5.1-10.1.2 7.2.2 10.1.2-1.4.2-1.5.2-4.3.1-11.5.2 4.3.2 17.3.2-18.8.2 7.3.1-2.9.2-1.5.2 7.3.2-5.8.2 11.5.1-13 .2 5.8.2-1.4.2 7.2.2 5.8.2-5.8.1-8.7.2-13 .2 8.7.2 1.4.2 0 .1 14.5.2-21.7.2 18.8.2-10.1.2 5.8.2 7.2.1-4.4.2-7.2.2 7.2.2-8.6.2 11.5.1-8.6.2-2.9.2-1.5.2 4.4.2 8.6.2-5.7.1-7.3.2 2.9.2 0 .2 11.6.2-8.7.1 0 .2-18.8.2 14.5.2 8.6.2-7.2.2-2.9.1 11.6.2 0 .2-17.3.2 4.3.2 14.4.1-11.5.2-18.8.2 17.3.2 5.8.2-24.5.1 23.1.2 2.9.2-14.5.2 10.1.2-7.2.2 17.3.1-7.2.2 8.7.2-8.7.2 5.8.2-1.5.1-10.1.2 18.8.2-4.3.2-11.6.2-14.4.2 27.4.1-8.6.2-7.3.2-7.2.2 7.2.2 5.8.1-2.9.2 2.9.2-5.8.2 13 .2-5.7.2 11.5.1-23.1.2 7.2.2 11.6.2-14.5.2 17.4.1-15.9.2 14.4.2-8.6.2 11.5.2-4.3.1-17.4.2 13 .2 2.9.2 13 .2-20.2.2-2.9.1 0 .2-10.1.2 17.3.2-2.8.2-17.4.1 7.2.2 5.8.2 15.9.2-8.7.2-4.3.2 4.3.1 4.4.2-18.8.2 7.2.2-2.9.2 15.9.1-10.1.2 5.8.2-18.8.2 10.1.2 10.1.2-20.2.1 20.2.2-11.5.2 13 .2-1.5.2-5.7.1-13 .2 7.2.2 0 .2 8.6.2 0 .2 4.4.1-4.4.2 1.5.2 0 .2 0 .2-5.8.1 5.8.2 4.3.2-8.6.2-5.8.2 4.3.1 7.2.2-2.9.2-10.1.2 11.6.2-1.5.2-4.3.1 10.1.2-20.2.2 18.8.2-4.4.2-26 .1 11.6.2 5.8.2 2.9.2 7.2.2-7.2.2-8.7.1 18.8.2 1.4.2-26 .2 8.7.2-24.6.1 33.3.2-10.2.2 7.3.2-2.9.2-1.5.2 0 .1 7.3.2-1.5.2-10.1.2-5.8.2 4.4.1 17.3.2-13 .2 14.4.2 0 .2-10.1.2 1.5.1 8.6.2-7.2.2-10.1.2 0 .2 11.6.1 13 .2-21.7.2 20.2.2-30.3.2 5.8.1 11.5.2 4.3.2-4.3.2 0 .2 0 .2 11.6.1-10.1.2 0 .2-2.9.2 0 .2-7.3.1 5.8.2 7.2.2-2.8.2 8.6.2-2.9.2 0 .1-2.9.2 4.4.2-8.7.2-4.3.2-7.2.1 21.6.2-5.8.2 1.5.2-15.9.2-7.2.2 4.3.1 13 .2 1.5.2 4.3.2-10.1.2 10.1.1-1.5.2-28.8.2 37.5.2-21.7.2 10.2.1-18.8.2 13 .2 0 .2 11.5.2 5.8.2-5.8.1-17.3.2 14.4.2-11.5.2 7.2.2-2.9.1 2.9.2-4.3.2 17.3.2-8.7.2-8.6.2 8.6.1-4.3.2 10.1.2-14.4.2 10.1.2-8.7.1-7.2.2-5.8.2 17.4.2-2.9.2 5.7.2 17.4.1-41.9.2 2.9.2 1.4.2 8.7.2 11.5.1-26 .2 11.6.2-5.8.2 13 .2 8.7.2-13 .1 18.8.2-20.3.2 0 .2 18.8.2-31.8.1 23.2.2-4.4.2 15.9.2-17.3.2 4.3.1 4.3.2-15.8.2 1.4.2 11.6.2-2.9.2 8.6.1-11.5.2-4.4.2 18.8.2-11.5.2-1.5.1-13 .2 7.2.2 10.2.2-8.7.2 2.9.2 0 .1 10.1.2-4.3.2-2.9.2 17.3.2-24.6.1 2.9.2 11.6.2 0 .2 4.3.2-23.1.2 7.2.1-1.4.2 15.9"/>
<text class="tk" clip-path="url(#c10)" x="-19.73 0.59" transform="translate(247.00 1087.40) scale(0.930 1)">10</text>
<text class="tk" x="-20.81 0.59" transform="translate(392.30 1087.40) scale(0.930 1)">20</text>
<text class="tk" x="-20.81 0.59" transform="translate(537.59 1087.40) scale(0.930 1)">30</text>
<text class="tk" x="-20.81 0.59" transform="translate(682.88 1087.40) scale(0.930 1)">40</text>
<text class="tk" x="-20.81 0.59" transform="translate(828.16 1087.40) scale(0.930 1)">50</text>
<text class="tk" x="-20.81 0.59" transform="translate(973.46 1087.40) scale(0.930 1)">60</text>
<text class="tk" x="-20.81 0.59" transform="translate(1118.74 1087.40) scale(0.930 1)">70</text>
<text class="tk" x="-20.81 0.59" transform="translate(1264.03 1087.40) scale(0.930 1)">80</text>
<text class="tk" x="-20.81 0.59" transform="translate(1409.32 1087.40) scale(0.930 1)">90</text>
<text class="tk" clip-path="url(#c100m)" x="-31.02 -10.56 10.57" transform="translate(1554.61 1087.40) scale(0.930 1)">100</text>
<text class="tk" x="-21.40" transform="translate(161.55 1056.40) scale(0.930 1)">0</text>
<text class="tk" clip-path="url(#c100e)" x="-63.55 -42.80 -21.40" transform="translate(161.55 911.95) scale(0.930 1)">100</text>
<text class="tk" x="-64.19 -42.80 -21.40" transform="translate(161.55 767.50) scale(0.930 1)">200</text>
<text class="lb" font-weight="bold" font-size="33.0px" transform="translate(1491.05 958) scale(0.980 1)">A<tspan font-weight="normal" font-size="30.0px" x="23.01" y="-1">)</tspan></text>
</g>
<text class="ax" font-size="47.2px" text-anchor="middle" transform="translate(61.3 570.3) rotate(-90) scale(1.000 1) skewX(-4)">Intinsity Counts</text>
<text class="ax" font-size="47.2px" transform="translate(0 1140.70) skewX(-4)"><tspan x="781.10">2</tspan> <tspan x="817.70">Θ</tspan> <tspan x="870.50">degree</tspan></text>
</svg>
</body></html>
